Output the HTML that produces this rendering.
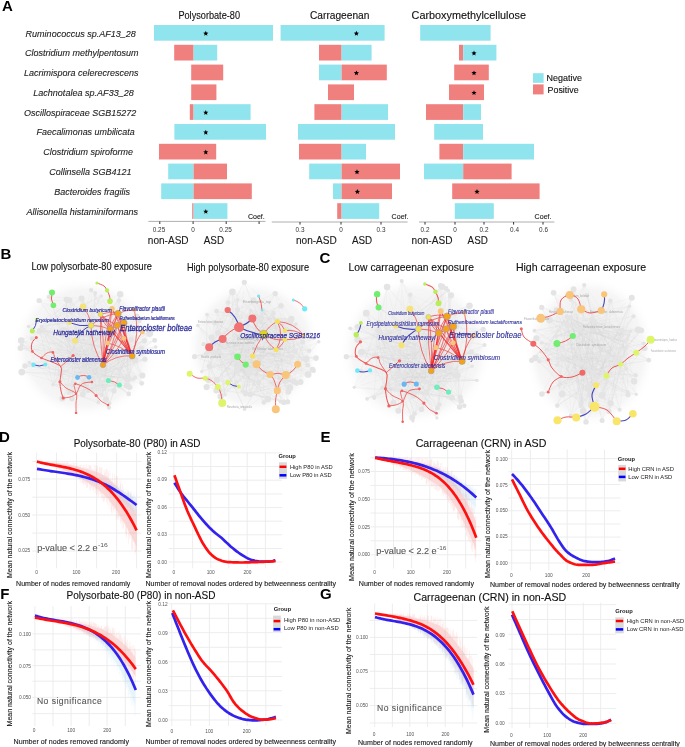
<!DOCTYPE html>
<html><head><meta charset="utf-8"><style>
html,body{margin:0;padding:0;background:#fff;width:685px;height:747px;overflow:hidden}
svg{display:block;font-family:"Liberation Sans",sans-serif;will-change:transform}
</style></head><body>
<svg width="685" height="747" viewBox="0 0 685 747">
<rect width="685" height="747" fill="#fff"/>
<text x="1.9" y="10.7" font-size="15" font-weight="bold" fill="#000">A</text>
<text x="25.6" y="36.5" font-size="9.9" font-style="italic" fill="#1e1e1e" textLength="110.2" lengthAdjust="spacingAndGlyphs" stroke="#1e1e1e" stroke-width="0.12">Ruminococcus sp.AF13_28</text>
<text x="25.0" y="56.3" font-size="9.9" font-style="italic" fill="#1e1e1e" textLength="113.4" lengthAdjust="spacingAndGlyphs" stroke="#1e1e1e" stroke-width="0.12">Clostridium methylpentosum</text>
<text x="24.0" y="76.1" font-size="9.9" font-style="italic" fill="#1e1e1e" textLength="114.4" lengthAdjust="spacingAndGlyphs" stroke="#1e1e1e" stroke-width="0.12">Lacrimispora celerecrescens</text>
<text x="33.2" y="95.9" font-size="9.9" font-style="italic" fill="#1e1e1e" textLength="100.6" lengthAdjust="spacingAndGlyphs" stroke="#1e1e1e" stroke-width="0.12">Lachnotalea sp.AF33_28</text>
<text x="24.0" y="115.7" font-size="9.9" font-style="italic" fill="#1e1e1e" textLength="112.2" lengthAdjust="spacingAndGlyphs" stroke="#1e1e1e" stroke-width="0.12">Oscillospiraceae SGB15272</text>
<text x="36.6" y="135.4" font-size="9.9" font-style="italic" fill="#1e1e1e" textLength="98.1" lengthAdjust="spacingAndGlyphs" stroke="#1e1e1e" stroke-width="0.12">Faecalimonas umbilicata</text>
<text x="43.2" y="155.2" font-size="9.9" font-style="italic" fill="#1e1e1e" textLength="89.8" lengthAdjust="spacingAndGlyphs" stroke="#1e1e1e" stroke-width="0.12">Clostridium spiroforme</text>
<text x="49.2" y="175.0" font-size="9.9" font-style="italic" fill="#1e1e1e" textLength="82.2" lengthAdjust="spacingAndGlyphs" stroke="#1e1e1e" stroke-width="0.12">Collinsella SGB4121</text>
<text x="54.2" y="194.8" font-size="9.9" font-style="italic" fill="#1e1e1e" textLength="75.8" lengthAdjust="spacingAndGlyphs" stroke="#1e1e1e" stroke-width="0.12">Bacteroides fragilis</text>
<text x="26.6" y="214.6" font-size="9.9" font-style="italic" fill="#1e1e1e" textLength="111.4" lengthAdjust="spacingAndGlyphs" stroke="#1e1e1e" stroke-width="0.12">Allisonella histaminiformans</text>
<rect x="154.0" y="25.0" width="119.0" height="15.7" fill="#90e4ed"/>
<rect x="174.2" y="44.8" width="19.4" height="15.7" fill="#ef807e"/>
<rect x="193.6" y="44.8" width="23.6" height="15.7" fill="#90e4ed"/>
<rect x="191.2" y="64.6" width="32.0" height="15.7" fill="#ef807e"/>
<rect x="191.2" y="84.4" width="25.2" height="15.7" fill="#ef807e"/>
<rect x="189.8" y="104.2" width="3.8" height="15.7" fill="#ef807e"/>
<rect x="193.6" y="104.2" width="57.0" height="15.7" fill="#90e4ed"/>
<rect x="174.4" y="124.0" width="91.6" height="15.7" fill="#90e4ed"/>
<rect x="159.0" y="143.8" width="57.2" height="15.7" fill="#ef807e"/>
<rect x="168.2" y="163.6" width="25.4" height="15.7" fill="#90e4ed"/>
<rect x="193.6" y="163.6" width="33.4" height="15.7" fill="#ef807e"/>
<rect x="161.2" y="183.4" width="32.4" height="15.7" fill="#90e4ed"/>
<rect x="193.6" y="183.4" width="58.2" height="15.7" fill="#ef807e"/>
<rect x="192.2" y="203.2" width="1.4" height="15.7" fill="#ef807e"/>
<rect x="193.6" y="203.2" width="33.8" height="15.7" fill="#90e4ed"/>
<polygon points="205.80,30.80 206.51,32.52 208.37,32.67 206.96,33.88 207.39,35.68 205.80,34.72 204.21,35.68 204.64,33.88 203.23,32.67 205.09,32.52" fill="#000"/>
<polygon points="205.80,109.96 206.51,111.68 208.37,111.83 206.96,113.04 207.39,114.84 205.80,113.88 204.21,114.84 204.64,113.04 203.23,111.83 205.09,111.68" fill="#000"/>
<polygon points="205.80,129.75 206.51,131.47 208.37,131.62 206.96,132.83 207.39,134.63 205.80,133.66 204.21,134.63 204.64,132.83 203.23,131.62 205.09,131.47" fill="#000"/>
<polygon points="205.80,149.54 206.51,151.26 208.37,151.41 206.96,152.62 207.39,154.42 205.80,153.45 204.21,154.42 204.64,152.62 203.23,151.41 205.09,151.26" fill="#000"/>
<polygon points="205.80,208.91 206.51,210.63 208.37,210.78 206.96,211.99 207.39,213.79 205.80,212.82 204.21,213.79 204.64,211.99 203.23,210.78 205.09,210.63" fill="#000"/>
<rect x="280.6" y="25.0" width="104.0" height="15.7" fill="#90e4ed"/>
<rect x="319.0" y="44.8" width="22.6" height="15.7" fill="#ef807e"/>
<rect x="341.6" y="44.8" width="30.0" height="15.7" fill="#90e4ed"/>
<rect x="319.0" y="64.6" width="22.6" height="15.7" fill="#90e4ed"/>
<rect x="341.6" y="64.6" width="45.2" height="15.7" fill="#ef807e"/>
<rect x="328.0" y="84.4" width="26.0" height="15.7" fill="#ef807e"/>
<rect x="314.4" y="104.2" width="27.2" height="15.7" fill="#ef807e"/>
<rect x="341.6" y="104.2" width="46.4" height="15.7" fill="#90e4ed"/>
<rect x="298.0" y="124.0" width="97.0" height="15.7" fill="#90e4ed"/>
<rect x="299.0" y="143.8" width="42.6" height="15.7" fill="#ef807e"/>
<rect x="341.6" y="143.8" width="24.4" height="15.7" fill="#90e4ed"/>
<rect x="309.2" y="163.6" width="32.4" height="15.7" fill="#90e4ed"/>
<rect x="341.6" y="163.6" width="58.4" height="15.7" fill="#ef807e"/>
<rect x="333.0" y="183.4" width="8.6" height="15.7" fill="#90e4ed"/>
<rect x="341.6" y="183.4" width="50.4" height="15.7" fill="#ef807e"/>
<rect x="337.2" y="203.2" width="4.4" height="15.7" fill="#ef807e"/>
<rect x="341.6" y="203.2" width="37.6" height="15.7" fill="#90e4ed"/>
<polygon points="356.40,30.80 357.11,32.52 358.97,32.67 357.56,33.88 357.99,35.68 356.40,34.72 354.81,35.68 355.24,33.88 353.83,32.67 355.69,32.52" fill="#000"/>
<polygon points="356.40,70.38 357.11,72.10 358.97,72.25 357.56,73.46 357.99,75.26 356.40,74.29 354.81,75.26 355.24,73.46 353.83,72.25 355.69,72.10" fill="#000"/>
<polygon points="357.00,169.33 357.71,171.05 359.57,171.20 358.16,172.41 358.59,174.21 357.00,173.25 355.41,174.21 355.84,172.41 354.43,171.20 356.29,171.05" fill="#000"/>
<polygon points="357.40,189.12 358.11,190.84 359.97,190.99 358.56,192.20 358.99,194.00 357.40,193.03 355.81,194.00 356.24,192.20 354.83,190.99 356.69,190.84" fill="#000"/>
<rect x="420.2" y="25.0" width="70.4" height="15.7" fill="#90e4ed"/>
<rect x="459.0" y="44.8" width="4.2" height="15.7" fill="#ef807e"/>
<rect x="463.2" y="44.8" width="33.2" height="15.7" fill="#90e4ed"/>
<rect x="454.2" y="64.6" width="34.6" height="15.7" fill="#ef807e"/>
<rect x="449.0" y="84.4" width="35.0" height="15.7" fill="#ef807e"/>
<rect x="426.0" y="104.2" width="37.2" height="15.7" fill="#ef807e"/>
<rect x="463.2" y="104.2" width="17.8" height="15.7" fill="#90e4ed"/>
<rect x="434.2" y="124.0" width="48.8" height="15.7" fill="#90e4ed"/>
<rect x="439.4" y="143.8" width="23.8" height="15.7" fill="#ef807e"/>
<rect x="463.2" y="143.8" width="70.8" height="15.7" fill="#90e4ed"/>
<rect x="424.0" y="163.6" width="39.2" height="15.7" fill="#90e4ed"/>
<rect x="463.2" y="163.6" width="48.4" height="15.7" fill="#ef807e"/>
<rect x="452.2" y="183.4" width="87.4" height="15.7" fill="#ef807e"/>
<rect x="454.8" y="203.2" width="39.0" height="15.7" fill="#90e4ed"/>
<polygon points="474.00,50.59 474.71,52.31 476.57,52.46 475.16,53.67 475.59,55.47 474.00,54.51 472.41,55.47 472.84,53.67 471.43,52.46 473.29,52.31" fill="#000"/>
<polygon points="474.00,70.38 474.71,72.10 476.57,72.25 475.16,73.46 475.59,75.26 474.00,74.29 472.41,75.26 472.84,73.46 471.43,72.25 473.29,72.10" fill="#000"/>
<polygon points="474.00,90.17 474.71,91.89 476.57,92.04 475.16,93.25 475.59,95.05 474.00,94.08 472.41,95.05 472.84,93.25 471.43,92.04 473.29,91.89" fill="#000"/>
<polygon points="477.00,189.12 477.71,190.84 479.57,190.99 478.16,192.20 478.59,194.00 477.00,193.03 475.41,194.00 475.84,192.20 474.43,190.99 476.29,190.84" fill="#000"/>
<text x="178.4" y="19.4" font-size="10.2" fill="#111" textLength="61.6" lengthAdjust="spacingAndGlyphs" stroke="#111" stroke-width="0.12">Polysorbate-80</text>
<text x="310.0" y="19.4" font-size="10.2" fill="#111" textLength="59.4" lengthAdjust="spacingAndGlyphs" stroke="#111" stroke-width="0.12">Carrageenan</text>
<text x="411.6" y="19.4" font-size="10.2" fill="#111" textLength="114.4" lengthAdjust="spacingAndGlyphs" stroke="#111" stroke-width="0.12">Carboxymethylcellulose</text>
<rect x="533.0" y="73.2" width="10.6" height="9.6" fill="#90e4ed"/>
<rect x="533.0" y="84.4" width="10.6" height="10.0" fill="#ef807e"/>
<text x="546.6" y="81.2" font-size="9.2" fill="#111" textLength="35.4" lengthAdjust="spacingAndGlyphs" stroke="#111" stroke-width="0.12">Negative</text>
<text x="547.6" y="93.0" font-size="9.2" fill="#111" textLength="31.0" lengthAdjust="spacingAndGlyphs" stroke="#111" stroke-width="0.12">Positive</text>
<line x1="148.4" y1="221.4" x2="265.5" y2="221.4" stroke="#9a9a9a" stroke-width="0.8"/>
<line x1="159.8" y1="221.4" x2="159.8" y2="224.0" stroke="#333" stroke-width="1"/>
<line x1="193.1" y1="221.4" x2="193.1" y2="224.0" stroke="#333" stroke-width="1"/>
<line x1="226.2" y1="221.4" x2="226.2" y2="224.0" stroke="#333" stroke-width="1"/>
<line x1="259.1" y1="221.4" x2="259.1" y2="224.0" stroke="#333" stroke-width="1"/>
<text x="159.0" y="231.6" font-size="6.4" text-anchor="middle" fill="#333">0.25</text>
<text x="193.1" y="231.6" font-size="6.4" text-anchor="middle" fill="#333">0</text>
<text x="225.6" y="231.6" font-size="6.4" text-anchor="middle" fill="#333">0.25</text>
<text x="247.9" y="218.9" font-size="7.2" fill="#222" textLength="16.9" lengthAdjust="spacingAndGlyphs" stroke="#222" stroke-width="0.12">Coef.</text>
<line x1="271.8" y1="222.0" x2="407.6" y2="222.0" stroke="#9a9a9a" stroke-width="0.8"/>
<line x1="300" y1="222.0" x2="300" y2="224.6" stroke="#333" stroke-width="1"/>
<line x1="341" y1="222.0" x2="341" y2="224.6" stroke="#333" stroke-width="1"/>
<line x1="381" y1="222.0" x2="381" y2="224.6" stroke="#333" stroke-width="1"/>
<text x="300.0" y="231.6" font-size="6.4" text-anchor="middle" fill="#333">0.3</text>
<text x="341.0" y="231.6" font-size="6.4" text-anchor="middle" fill="#333">0</text>
<text x="381.0" y="231.6" font-size="6.4" text-anchor="middle" fill="#333">0.3</text>
<text x="391.6" y="218.9" font-size="7.2" fill="#222" textLength="16.9" lengthAdjust="spacingAndGlyphs" stroke="#222" stroke-width="0.12">Coef.</text>
<line x1="419" y1="222.0" x2="554.4" y2="222.0" stroke="#9a9a9a" stroke-width="0.8"/>
<line x1="425" y1="222.0" x2="425" y2="224.6" stroke="#333" stroke-width="1"/>
<line x1="455" y1="222.0" x2="455" y2="224.6" stroke="#333" stroke-width="1"/>
<line x1="484" y1="222.0" x2="484" y2="224.6" stroke="#333" stroke-width="1"/>
<line x1="513.6" y1="222.0" x2="513.6" y2="224.6" stroke="#333" stroke-width="1"/>
<line x1="543" y1="222.0" x2="543" y2="224.6" stroke="#333" stroke-width="1"/>
<text x="425.0" y="231.6" font-size="6.4" text-anchor="middle" fill="#333">0.2</text>
<text x="455.0" y="231.6" font-size="6.4" text-anchor="middle" fill="#333">0</text>
<text x="484.0" y="231.6" font-size="6.4" text-anchor="middle" fill="#333">0.2</text>
<text x="514.5" y="231.6" font-size="6.4" text-anchor="middle" fill="#333">0.4</text>
<text x="543.5" y="231.6" font-size="6.4" text-anchor="middle" fill="#333">0.6</text>
<text x="534.6" y="218.9" font-size="7.2" fill="#222" textLength="16.9" lengthAdjust="spacingAndGlyphs" stroke="#222" stroke-width="0.12">Coef.</text>
<text x="147.8" y="243.8" font-size="10" fill="#1a1a1a" textLength="40.8" lengthAdjust="spacingAndGlyphs" stroke="#1a1a1a" stroke-width="0.12">non-ASD</text>
<text x="203.8" y="243.8" font-size="10" fill="#1a1a1a" textLength="20.2" lengthAdjust="spacingAndGlyphs" stroke="#1a1a1a" stroke-width="0.12">ASD</text>
<text x="296.0" y="243.8" font-size="10" fill="#1a1a1a" textLength="40.8" lengthAdjust="spacingAndGlyphs" stroke="#1a1a1a" stroke-width="0.12">non-ASD</text>
<text x="352.0" y="243.8" font-size="10" fill="#1a1a1a" textLength="20.2" lengthAdjust="spacingAndGlyphs" stroke="#1a1a1a" stroke-width="0.12">ASD</text>
<text x="411.6" y="243.8" font-size="10" fill="#1a1a1a" textLength="40.8" lengthAdjust="spacingAndGlyphs" stroke="#1a1a1a" stroke-width="0.12">non-ASD</text>
<text x="467.6" y="243.8" font-size="10" fill="#1a1a1a" textLength="20.2" lengthAdjust="spacingAndGlyphs" stroke="#1a1a1a" stroke-width="0.12">ASD</text>
<text x="0.6" y="259.2" font-size="15" font-weight="bold" fill="#000">B</text>
<text x="319.5" y="262.5" font-size="15" font-weight="bold" fill="#000">C</text>
<text x="-1.0" y="442.1" font-size="15" font-weight="bold" fill="#000">D</text>
<text x="320.4" y="442.4" font-size="15" font-weight="bold" fill="#000">E</text>
<text x="0.2" y="599.4" font-size="15" font-weight="bold" fill="#000">F</text>
<text x="319.9" y="599.2" font-size="15" font-weight="bold" fill="#000">G</text>
<defs><radialGradient id="g11" cx="0.5" cy="0.5" r="0.5"><stop offset="0" stop-color="#ececec"/><stop offset="0.5" stop-color="#f0f0f0"/><stop offset="0.82" stop-color="#f6f6f6"/><stop offset="1" stop-color="#ffffff" stop-opacity="0"/></radialGradient></defs>
<ellipse cx="85" cy="348" rx="73" ry="71" fill="url(#g11)"/>
<path d="M25.0,366.0L72.8,352.2M25.0,366.0L127.2,378.0M25.0,366.0L70.1,355.8M25.0,366.0L135.1,360.1M25.0,366.0L118.9,368.9M25.0,366.0L127.2,378.0M139.3,320.8L127.2,378.0M139.3,320.8L105.6,336.5M139.3,320.8L127.3,342.9M139.3,320.8L61.6,332.2M139.3,320.8L93.1,379.1M139.3,320.8L118.9,368.9M21.8,345.0L88.2,390.8M21.8,345.0L82.9,394.4M21.8,345.0L91.1,373.3M21.8,345.0L72.8,352.2M21.8,345.0L127.2,378.0M21.8,345.0L39.8,330.8M109.7,403.2L68.5,393.3M109.7,403.2L99.3,375.8M109.7,403.2L91.3,355.4M109.7,403.2L131.3,339.7M109.7,403.2L126.5,353.4M109.7,403.2L105.1,386.7M39.1,300.5L105.1,386.7M39.1,300.5L134.8,353.5M39.1,300.5L131.3,339.7M39.1,300.5L69.4,300.2M39.1,300.5L127.2,378.0M39.1,300.5L91.1,373.3M133.2,379.5L91.1,373.3M133.2,379.5L80.9,361.3M133.2,379.5L81.6,298.5M133.2,379.5L39.8,330.8M133.2,379.5L88.2,390.8M133.2,379.5L105.1,386.7M141.7,383.3L134.8,353.5M141.7,383.3L112.1,350.8M141.7,383.3L105.6,336.5M141.7,383.3L112.1,350.8M141.7,383.3L127.3,342.9M141.7,383.3L91.1,373.3M66.4,299.4L52.9,384.8M66.4,299.4L67.9,339.9M66.4,299.4L68.5,393.3M66.4,299.4L70.1,355.8M66.4,299.4L69.4,300.2M66.4,299.4L91.1,373.3M154.7,340.4L72.8,352.2M154.7,340.4L68.5,393.3M154.7,340.4L124.9,322.8M154.7,340.4L80.9,361.3M154.7,340.4L99.3,375.8M154.7,340.4L126.5,353.4M48.8,296.9L99.3,375.8M48.8,296.9L81.6,298.5M48.8,296.9L131.3,339.7M48.8,296.9L61.6,332.2M48.8,296.9L70.1,355.8M48.8,296.9L86.8,387.6M114.0,390.9L126.5,353.4M114.0,390.9L41.3,326.5M114.0,390.9L52.9,384.8M114.0,390.9L60.5,372.8M114.0,390.9L88.2,390.8M114.0,390.9L105.6,336.5M32.2,338.7L99.3,375.8M32.2,338.7L85.1,370.3M32.2,338.7L135.1,360.1M32.2,338.7L107.8,358.2M32.2,338.7L81.6,298.5M32.2,338.7L41.3,326.5M105.9,399.5L64.0,330.2M105.9,399.5L41.3,326.5M105.9,399.5L93.5,366.3M105.9,399.5L105.1,386.7M105.9,399.5L124.9,322.8M105.9,399.5L134.8,353.5M144.9,359.2L135.1,360.1M144.9,359.2L93.5,366.3M144.9,359.2L118.9,368.9M144.9,359.2L118.9,368.9M144.9,359.2L99.3,375.8M144.9,359.2L82.9,394.4M21.8,372.1L93.1,379.1M21.8,372.1L127.2,378.0M21.8,372.1L101.9,395.0M21.8,372.1L60.5,372.8M21.8,372.1L80.9,361.3M21.8,372.1L105.6,336.5M21.2,340.5L72.8,352.2M21.2,340.5L101.9,395.0M21.2,340.5L93.5,366.3M21.2,340.5L39.8,330.8M21.2,340.5L105.1,386.7M21.2,340.5L52.9,384.8M20.4,348.1L99.3,375.8M20.4,348.1L135.1,360.1M20.4,348.1L126.5,353.4M20.4,348.1L105.6,336.5M20.4,348.1L135.1,360.1M20.4,348.1L127.2,378.0M29.4,362.8L93.1,379.1M29.4,362.8L101.9,395.0M29.4,362.8L69.4,300.2M29.4,362.8L93.1,379.1M29.4,362.8L101.9,395.0M29.4,362.8L91.3,355.4M155.7,347.0L82.9,394.4M155.7,347.0L70.1,355.8M155.7,347.0L91.3,355.4M155.7,347.0L68.5,393.3M155.7,347.0L118.9,368.9M155.7,347.0L107.8,358.2M120.2,294.3L112.1,350.8M120.2,294.3L41.3,326.5M120.2,294.3L68.5,393.3M120.2,294.3L101.9,395.0M120.2,294.3L85.1,370.3M120.2,294.3L86.8,387.6M62.4,398.6L110.7,315.5M62.4,398.6L80.9,361.3M62.4,398.6L105.6,336.5M62.4,398.6L89.3,319.0M62.4,398.6L127.3,342.9M62.4,398.6L61.6,332.2M71.9,398.8L127.2,378.0M71.9,398.8L41.3,326.5M71.9,398.8L41.3,326.5M71.9,398.8L72.8,352.2M71.9,398.8L81.6,298.5M71.9,398.8L120.4,339.0M91.1,290.1L131.3,339.7M91.1,290.1L72.8,352.2M91.1,290.1L127.3,342.9M91.1,290.1L93.1,379.1M91.1,290.1L120.4,339.0M91.1,290.1L124.9,322.8M119.0,300.4L101.9,395.0M119.0,300.4L82.9,394.4M119.0,300.4L127.3,342.9M119.0,300.4L52.9,384.8M119.0,300.4L67.9,339.9M119.0,300.4L126.5,353.4M150.7,330.8L60.5,372.8M150.7,330.8L107.8,358.2M150.7,330.8L124.9,322.8M150.7,330.8L91.1,373.3M150.7,330.8L39.8,330.8M150.7,330.8L105.1,386.7M141.4,348.2L118.9,368.9M141.4,348.2L105.6,336.5M141.4,348.2L112.1,350.8M141.4,348.2L41.3,326.5M141.4,348.2L131.3,339.7M141.4,348.2L105.1,386.7M136.7,316.2L70.5,311.6M136.7,316.2L91.3,355.4M136.7,316.2L67.9,339.9M136.7,316.2L88.2,390.8M136.7,316.2L112.1,350.8M136.7,316.2L135.1,360.1M144.4,340.8L93.5,366.3M144.4,340.8L89.3,319.0M144.4,340.8L80.9,361.3M144.4,340.8L93.5,366.3M144.4,340.8L85.1,370.3M144.4,340.8L105.1,386.7M142.4,375.6L91.1,373.3M142.4,375.6L70.1,355.8M142.4,375.6L127.3,342.9M142.4,375.6L135.1,360.1M142.4,375.6L81.6,298.5M142.4,375.6L68.5,393.3M95.2,293.0L82.9,394.4M95.2,293.0L67.9,339.9M95.2,293.0L91.1,373.3M95.2,293.0L93.1,379.1M95.2,293.0L105.6,336.5M95.2,293.0L88.2,390.8M135.1,377.7L70.5,311.6M135.1,377.7L39.8,330.8M135.1,377.7L101.9,395.0M135.1,377.7L99.3,375.8M135.1,377.7L68.5,393.3M135.1,377.7L93.5,366.3M149.7,333.5L127.2,378.0M149.7,333.5L64.0,330.2M149.7,333.5L93.1,379.1M149.7,333.5L120.4,339.0M149.7,333.5L127.3,342.9M149.7,333.5L88.2,390.8M127.1,385.5L118.9,368.9M127.1,385.5L72.8,352.2M127.1,385.5L86.8,387.6M127.1,385.5L52.9,384.8M127.1,385.5L52.9,384.8M127.1,385.5L105.6,336.5M128.2,378.9L99.3,375.8M128.2,378.9L134.8,353.5M128.2,378.9L91.1,373.3M128.2,378.9L124.9,322.8M128.2,378.9L105.6,336.5M128.2,378.9L52.9,384.8M101.2,296.1L70.5,311.6M101.2,296.1L115.1,321.2M101.2,296.1L70.5,311.6M101.2,296.1L60.5,372.8M101.2,296.1L52.9,384.8M101.2,296.1L67.9,339.9M28.4,326.5L70.5,311.6M28.4,326.5L81.6,298.5M28.4,326.5L70.1,355.8M28.4,326.5L105.1,386.7M28.4,326.5L126.5,353.4M28.4,326.5L93.5,366.3M109.0,407.7L70.1,355.8M109.0,407.7L86.8,387.6M109.0,407.7L127.3,342.9M109.0,407.7L52.9,384.8M109.0,407.7L101.9,395.0M109.0,407.7L91.3,355.4M128.7,393.9L99.3,375.8M128.7,393.9L41.3,326.5M128.7,393.9L39.8,330.8M128.7,393.9L127.3,342.9M128.7,393.9L80.9,361.3M128.7,393.9L67.9,339.9M129.8,387.2L131.3,339.7M129.8,387.2L69.4,300.2M129.8,387.2L105.1,386.7M129.8,387.2L68.5,393.3M129.8,387.2L127.3,342.9M129.8,387.2L93.1,379.1M98.3,402.4L52.9,384.8M98.3,402.4L107.8,358.2M98.3,402.4L127.3,342.9M98.3,402.4L91.3,355.4M98.3,402.4L80.9,361.3M98.3,402.4L99.3,375.8M91.1,373.3L60.5,372.8M127.2,378.0L127.3,342.9M112.1,350.8L39.8,330.8M107.8,358.2L101.9,395.0M85.1,370.3L72.8,352.2M99.3,375.8L118.9,368.9M88.2,390.8L64.0,330.2M72.8,352.2L52.9,384.8M135.1,360.1L89.3,319.0M41.3,326.5L39.8,330.8M126.5,353.4L68.5,393.3M81.6,298.5L118.9,368.9M68.5,393.3L93.1,379.1M41.3,326.5L86.8,387.6M124.9,322.8L131.3,339.7M115.1,321.2L135.1,360.1M82.9,394.4L85.1,370.3M126.5,353.4L99.3,375.8M89.3,319.0L99.3,375.8M134.8,353.5L80.9,361.3M67.9,339.9L126.5,353.4M81.6,298.5L41.3,326.5M52.9,384.8L64.0,330.2M68.5,393.3L105.1,386.7M39.8,330.8L52.9,384.8M126.5,353.4L60.5,372.8M127.3,342.9L93.5,366.3M127.3,342.9L93.5,366.3M52.9,384.8L93.5,366.3M127.3,342.9L126.5,353.4M134.8,353.5L118.9,368.9M124.9,322.8L82.9,394.4M120.4,339.0L135.1,360.1M69.4,300.2L135.1,360.1M41.3,326.5L93.5,366.3M41.3,326.5L89.3,319.0M118.9,368.9L85.1,370.3M118.9,368.9L91.1,373.3M81.6,298.5L105.1,386.7M89.3,319.0L64.0,330.2M39.8,330.8L127.3,342.9M118.9,368.9L41.3,326.5M107.8,358.2L68.5,393.3M89.3,319.0L41.3,326.5M91.3,355.4L82.9,394.4M61.6,332.2L80.9,361.3M67.9,339.9L88.2,390.8M67.9,339.9L41.3,326.5M127.2,378.0L72.8,352.2M89.3,319.0L68.5,393.3M93.1,379.1L70.5,311.6M126.5,353.4L67.9,339.9M91.3,355.4L72.8,352.2M86.8,387.6L41.3,326.5M120.4,339.0L80.9,361.3M93.5,366.3L120.4,339.0M60.5,372.8L115.1,321.2M89.3,319.0L134.8,353.5M110.7,315.5L118.9,368.9M112.1,350.8L127.2,378.0M89.3,319.0L135.1,360.1M107.8,358.2L112.1,350.8M64.0,330.2L67.9,339.9M82.9,394.4L64.0,330.2M93.5,366.3L69.4,300.2M61.6,332.2L131.3,339.7M93.1,379.1L41.3,326.5M120.4,339.0L39.8,330.8M112.1,350.8L61.6,332.2M61.6,332.2L107.8,358.2M41.3,326.5L69.4,300.2M60.5,372.8L89.3,319.0M67.9,339.9L131.3,339.7M135.1,360.1L91.1,373.3M107.8,358.2L91.3,355.4M69.4,300.2L41.3,326.5M67.9,339.9L134.8,353.5M88.2,390.8L81.6,298.5M101.9,395.0L80.9,361.3M60.5,372.8L107.8,358.2M118.9,368.9L88.2,390.8M127.3,342.9L61.6,332.2M64.0,330.2L120.4,339.0M107.8,358.2L93.5,366.3M120.4,339.0L127.2,378.0M88.2,390.8L70.1,355.8M72.8,352.2L89.3,319.0M131.3,339.7L82.9,394.4M126.5,353.4L110.7,315.5M124.9,322.8L101.9,395.0M70.1,355.8L88.2,390.8M93.5,366.3L107.8,358.2M91.3,355.4L120.4,339.0M127.3,342.9L127.2,378.0M105.1,386.7L67.9,339.9M99.3,375.8L93.5,366.3M80.9,361.3L107.8,358.2M91.3,355.4L68.5,393.3M80.9,361.3L126.5,353.4M89.3,319.0L85.1,370.3M81.6,298.5L105.6,336.5M107.8,358.2L67.9,339.9M110.7,315.5L41.3,326.5M105.1,386.7L131.3,339.7M89.3,319.0L81.6,298.5M81.6,298.5L101.9,395.0M88.2,390.8L70.5,311.6M127.3,342.9L67.9,339.9M39.8,330.8L52.9,384.8M91.3,355.4L89.3,319.0M105.6,336.5L127.2,378.0M70.5,311.6L69.4,300.2M93.1,379.1L105.1,386.7M60.5,372.8L105.1,386.7M72.8,352.2L60.5,372.8M99.3,375.8L127.3,342.9M126.5,353.4L69.4,300.2M110.7,315.5L64.0,330.2M99.3,375.8L39.8,330.8M115.1,321.2L52.9,384.8M107.8,358.2L69.4,300.2M70.1,355.8L61.6,332.2M52.9,384.8L115.1,321.2M72.8,352.2L101.9,395.0M70.5,311.6L115.1,321.2M115.1,321.2L68.5,393.3M131.3,339.7L85.1,370.3M134.8,353.5L93.1,379.1M60.5,372.8L39.8,330.8M105.1,386.7L110.7,315.5M135.1,360.1L107.8,358.2M110.7,315.5L134.8,353.5M135.1,360.1L127.2,378.0M124.9,322.8L64.0,330.2M72.8,352.2L81.6,298.5M85.1,370.3L93.1,379.1M52.9,384.8L89.3,319.0M112.1,350.8L86.8,387.6M85.1,370.3L69.4,300.2M80.9,361.3L110.7,315.5" stroke="#d4d4d4" stroke-width="0.35" stroke-opacity="0.4" fill="none"/>
<circle cx="25.0" cy="366.0" r="2.7" fill="#e4e4e4"/>
<circle cx="139.3" cy="320.8" r="2.4" fill="#e4e4e4"/>
<circle cx="21.8" cy="345.0" r="2.0" fill="#e4e4e4"/>
<circle cx="109.7" cy="403.2" r="1.7" fill="#e4e4e4"/>
<circle cx="39.1" cy="300.5" r="2.6" fill="#e4e4e4"/>
<circle cx="133.2" cy="379.5" r="1.8" fill="#e4e4e4"/>
<circle cx="141.7" cy="383.3" r="2.4" fill="#e4e4e4"/>
<circle cx="66.4" cy="299.4" r="2.8" fill="#e4e4e4"/>
<circle cx="154.7" cy="340.4" r="2.4" fill="#e4e4e4"/>
<circle cx="48.8" cy="296.9" r="2.1" fill="#e4e4e4"/>
<circle cx="114.0" cy="390.9" r="2.6" fill="#e4e4e4"/>
<circle cx="32.2" cy="338.7" r="2.4" fill="#e4e4e4"/>
<circle cx="105.9" cy="399.5" r="3.0" fill="#e4e4e4"/>
<circle cx="144.9" cy="359.2" r="2.6" fill="#e4e4e4"/>
<circle cx="21.8" cy="372.1" r="3.4" fill="#e4e4e4"/>
<circle cx="21.2" cy="340.5" r="3.3" fill="#e4e4e4"/>
<circle cx="20.4" cy="348.1" r="2.9" fill="#e4e4e4"/>
<circle cx="29.4" cy="362.8" r="2.0" fill="#e4e4e4"/>
<circle cx="155.7" cy="347.0" r="1.8" fill="#e4e4e4"/>
<circle cx="120.2" cy="294.3" r="3.2" fill="#e4e4e4"/>
<circle cx="62.4" cy="398.6" r="3.0" fill="#e4e4e4"/>
<circle cx="71.9" cy="398.8" r="2.7" fill="#e4e4e4"/>
<circle cx="91.1" cy="290.1" r="2.2" fill="#e4e4e4"/>
<circle cx="119.0" cy="300.4" r="2.1" fill="#e4e4e4"/>
<circle cx="150.7" cy="330.8" r="2.8" fill="#e4e4e4"/>
<circle cx="141.4" cy="348.2" r="2.6" fill="#e4e4e4"/>
<circle cx="136.7" cy="316.2" r="2.7" fill="#e4e4e4"/>
<circle cx="144.4" cy="340.8" r="2.7" fill="#e4e4e4"/>
<circle cx="142.4" cy="375.6" r="3.0" fill="#e4e4e4"/>
<circle cx="95.2" cy="293.0" r="1.9" fill="#e4e4e4"/>
<circle cx="135.1" cy="377.7" r="2.0" fill="#e4e4e4"/>
<circle cx="149.7" cy="333.5" r="3.4" fill="#e4e4e4"/>
<circle cx="127.1" cy="385.5" r="3.2" fill="#e4e4e4"/>
<circle cx="128.2" cy="378.9" r="3.2" fill="#e4e4e4"/>
<circle cx="101.2" cy="296.1" r="1.7" fill="#e4e4e4"/>
<circle cx="28.4" cy="326.5" r="1.7" fill="#e4e4e4"/>
<circle cx="109.0" cy="407.7" r="2.1" fill="#e4e4e4"/>
<circle cx="128.7" cy="393.9" r="2.4" fill="#e4e4e4"/>
<circle cx="129.8" cy="387.2" r="2.7" fill="#e4e4e4"/>
<circle cx="98.3" cy="402.4" r="1.8" fill="#e4e4e4"/>
<circle cx="131.3" cy="339.7" r="2.6" fill="#e4e4e4"/>
<circle cx="68.5" cy="393.3" r="1.7" fill="#e4e4e4"/>
<circle cx="93.1" cy="379.1" r="1.8" fill="#e4e4e4"/>
<circle cx="110.7" cy="315.5" r="2.8" fill="#e4e4e4"/>
<circle cx="127.2" cy="378.0" r="2.6" fill="#e4e4e4"/>
<circle cx="91.1" cy="373.3" r="2.7" fill="#e4e4e4"/>
<circle cx="89.3" cy="319.0" r="2.3" fill="#e4e4e4"/>
<circle cx="80.9" cy="361.3" r="2.5" fill="#e4e4e4"/>
<circle cx="118.9" cy="368.9" r="2.0" fill="#e4e4e4"/>
<circle cx="86.8" cy="387.6" r="2.2" fill="#e4e4e4"/>
<circle cx="60.5" cy="372.8" r="2.9" fill="#e4e4e4"/>
<circle cx="120.4" cy="339.0" r="3.1" fill="#e4e4e4"/>
<circle cx="41.3" cy="326.5" r="1.7" fill="#e4e4e4"/>
<circle cx="93.5" cy="366.3" r="1.8" fill="#e4e4e4"/>
<circle cx="124.9" cy="322.8" r="3.1" fill="#e4e4e4"/>
<circle cx="85.1" cy="370.3" r="2.7" fill="#e4e4e4"/>
<circle cx="81.6" cy="298.5" r="3.0" fill="#e4e4e4"/>
<circle cx="101.9" cy="395.0" r="2.0" fill="#e4e4e4"/>
<circle cx="115.1" cy="321.2" r="2.4" fill="#e4e4e4"/>
<circle cx="70.1" cy="355.8" r="2.1" fill="#e4e4e4"/>
<circle cx="135.1" cy="360.1" r="3.1" fill="#e4e4e4"/>
<circle cx="88.2" cy="390.8" r="2.3" fill="#e4e4e4"/>
<circle cx="82.9" cy="394.4" r="2.8" fill="#e4e4e4"/>
<circle cx="61.6" cy="332.2" r="3.4" fill="#e4e4e4"/>
<circle cx="105.1" cy="386.7" r="2.2" fill="#e4e4e4"/>
<circle cx="107.8" cy="358.2" r="2.6" fill="#e4e4e4"/>
<circle cx="39.8" cy="330.8" r="2.9" fill="#e4e4e4"/>
<circle cx="64.0" cy="330.2" r="3.3" fill="#e4e4e4"/>
<circle cx="105.6" cy="336.5" r="2.4" fill="#e4e4e4"/>
<circle cx="112.1" cy="350.8" r="2.3" fill="#e4e4e4"/>
<circle cx="72.8" cy="352.2" r="1.8" fill="#e4e4e4"/>
<circle cx="99.3" cy="375.8" r="3.2" fill="#e4e4e4"/>
<circle cx="67.9" cy="339.9" r="1.7" fill="#e4e4e4"/>
<circle cx="52.9" cy="384.8" r="1.7" fill="#e4e4e4"/>
<circle cx="127.3" cy="342.9" r="2.6" fill="#e4e4e4"/>
<circle cx="70.5" cy="311.6" r="2.5" fill="#e4e4e4"/>
<circle cx="91.3" cy="355.4" r="2.8" fill="#e4e4e4"/>
<circle cx="134.8" cy="353.5" r="2.1" fill="#e4e4e4"/>
<circle cx="69.4" cy="300.2" r="3.0" fill="#e4e4e4"/>
<circle cx="126.5" cy="353.4" r="1.7" fill="#e4e4e4"/>
<defs><radialGradient id="g12" cx="0.5" cy="0.5" r="0.5"><stop offset="0" stop-color="#ececec"/><stop offset="0.5" stop-color="#f0f0f0"/><stop offset="0.82" stop-color="#f6f6f6"/><stop offset="1" stop-color="#ffffff" stop-opacity="0"/></radialGradient></defs>
<ellipse cx="254" cy="347" rx="68" ry="68" fill="url(#g12)"/>
<path d="M194.6,356.6L290.0,322.2M194.6,356.6L236.9,371.3M194.6,356.6L291.2,330.6M194.6,356.6L291.2,330.6M194.6,356.6L254.2,351.5M194.6,356.6L258.6,382.3M228.2,302.5L290.0,322.2M228.2,302.5L237.5,368.8M228.2,302.5L209.5,366.2M228.2,302.5L242.8,357.5M228.2,302.5L250.2,394.5M228.2,302.5L253.6,300.2M309.2,350.8L218.0,332.8M309.2,350.8L237.4,309.7M309.2,350.8L247.6,325.3M309.2,350.8L279.3,348.1M309.2,350.8L248.6,371.1M309.2,350.8L302.7,342.0M244.6,409.0L279.3,348.1M244.6,409.0L213.3,343.1M244.6,409.0L213.3,343.1M244.6,409.0L234.9,386.0M244.6,409.0L296.1,323.8M244.6,409.0L285.2,380.9M232.4,291.9L234.9,386.0M232.4,291.9L206.5,352.7M232.4,291.9L258.6,382.3M232.4,291.9L236.9,371.3M232.4,291.9L291.2,330.6M232.4,291.9L256.1,315.4M197.8,325.5L236.9,371.3M197.8,325.5L234.9,386.0M197.8,325.5L240.0,363.0M197.8,325.5L237.5,368.8M197.8,325.5L248.6,371.1M197.8,325.5L214.5,322.5M288.5,391.7L250.2,394.5M288.5,391.7L247.6,325.3M288.5,391.7L257.7,318.6M288.5,391.7L215.6,352.5M288.5,391.7L206.6,354.1M288.5,391.7L285.2,380.9M287.7,401.8L285.2,380.9M287.7,401.8L242.3,391.2M287.7,401.8L273.3,312.9M287.7,401.8L296.1,323.8M287.7,401.8L245.6,393.8M287.7,401.8L215.6,352.5M312.6,369.7L295.0,351.4M312.6,369.7L302.7,342.0M312.6,369.7L250.7,310.4M312.6,369.7L248.6,371.1M312.6,369.7L246.4,346.8M312.6,369.7L250.7,310.4M308.1,374.4L214.5,322.5M308.1,374.4L232.9,358.5M308.1,374.4L237.5,368.8M308.1,374.4L250.7,310.4M308.1,374.4L250.2,394.5M308.1,374.4L214.5,322.5M225.0,394.7L214.5,322.5M225.0,394.7L240.0,363.0M225.0,394.7L215.6,352.5M225.0,394.7L218.0,332.8M225.0,394.7L290.0,322.2M225.0,394.7L209.5,366.2M281.0,305.8L295.0,351.4M281.0,305.8L256.1,315.4M281.0,305.8L240.0,363.0M281.0,305.8L257.7,318.6M281.0,305.8L291.4,318.9M281.0,305.8L211.6,337.5M313.9,371.0L213.3,343.1M313.9,371.0L237.4,309.7M313.9,371.0L206.5,352.7M313.9,371.0L247.6,325.3M313.9,371.0L236.9,371.3M313.9,371.0L285.2,380.9M203.6,344.2L213.3,343.1M203.6,344.2L246.4,346.8M203.6,344.2L291.3,356.6M203.6,344.2L263.1,310.8M203.6,344.2L215.6,352.5M203.6,344.2L290.0,322.2M318.8,341.7L291.3,356.6M318.8,341.7L269.5,334.8M318.8,341.7L236.9,371.3M318.8,341.7L277.3,387.9M318.8,341.7L296.1,323.8M318.8,341.7L285.2,380.9M296.7,383.5L245.6,393.8M296.7,383.5L218.0,332.8M296.7,383.5L237.5,368.8M296.7,383.5L245.6,393.8M296.7,383.5L232.9,358.5M296.7,383.5L237.5,368.8M289.9,387.7L247.6,325.3M289.9,387.7L302.7,342.0M289.9,387.7L291.3,356.6M289.9,387.7L269.5,334.8M289.9,387.7L277.3,387.9M289.9,387.7L237.5,368.8M216.6,311.2L232.9,358.5M216.6,311.2L218.0,332.8M216.6,311.2L296.1,323.8M216.6,311.2L291.2,330.6M216.6,311.2L269.5,334.8M216.6,311.2L248.6,371.1M237.7,299.9L218.0,332.8M237.7,299.9L232.9,358.5M237.7,299.9L236.9,371.3M237.7,299.9L232.9,358.5M237.7,299.9L209.5,366.2M237.7,299.9L234.9,386.0M283.8,402.3L246.4,346.8M283.8,402.3L258.6,382.3M283.8,402.3L269.5,334.8M283.8,402.3L254.2,351.5M283.8,402.3L242.3,391.2M283.8,402.3L295.0,351.4M208.5,379.8L240.0,363.0M208.5,379.8L237.4,309.7M208.5,379.8L213.3,343.1M208.5,379.8L291.3,356.6M208.5,379.8L213.3,343.1M208.5,379.8L258.6,382.3M207.0,314.6L206.5,352.7M207.0,314.6L291.4,318.9M207.0,314.6L213.3,343.1M207.0,314.6L277.3,387.9M207.0,314.6L206.6,354.1M207.0,314.6L246.4,346.8M217.0,379.8L273.3,312.9M217.0,379.8L246.4,346.8M217.0,379.8L273.3,312.9M217.0,379.8L245.6,393.8M217.0,379.8L273.3,312.9M217.0,379.8L234.9,386.0M244.3,282.3L213.3,343.1M244.3,282.3L290.0,322.2M244.3,282.3L206.5,352.7M244.3,282.3L237.5,368.8M244.3,282.3L257.7,318.6M244.3,282.3L285.2,380.9M313.6,338.1L236.9,371.3M313.6,338.1L290.0,322.2M313.6,338.1L273.3,312.9M313.6,338.1L256.1,315.4M313.6,338.1L257.7,318.6M313.6,338.1L295.0,351.4M219.8,390.3L206.6,354.1M219.8,390.3L291.3,356.6M219.8,390.3L209.5,366.2M219.8,390.3L250.7,310.4M219.8,390.3L236.9,371.3M219.8,390.3L245.6,393.8M231.8,290.8L214.5,322.5M231.8,290.8L237.4,309.7M231.8,290.8L232.9,358.5M231.8,290.8L218.0,332.8M231.8,290.8L295.0,351.4M231.8,290.8L206.5,352.7M294.0,381.7L242.3,391.2M294.0,381.7L206.5,352.7M294.0,381.7L302.7,342.0M294.0,381.7L236.9,371.3M294.0,381.7L285.2,380.9M294.0,381.7L257.7,318.6M216.3,390.6L296.1,323.8M216.3,390.6L291.4,318.9M216.3,390.6L209.5,366.2M216.3,390.6L237.5,368.8M216.3,390.6L285.2,380.9M216.3,390.6L253.6,300.2M275.2,293.6L291.3,356.6M275.2,293.6L237.4,309.7M275.2,293.6L240.0,363.0M275.2,293.6L215.6,352.5M275.2,293.6L257.7,318.6M275.2,293.6L296.1,323.8M316.0,358.1L279.3,348.1M316.0,358.1L240.0,363.0M316.0,358.1L206.6,354.1M316.0,358.1L250.2,394.5M316.0,358.1L206.5,352.7M316.0,358.1L254.2,351.5M201.7,371.6L211.6,337.5M201.7,371.6L291.2,330.6M201.7,371.6L206.5,352.7M201.7,371.6L242.8,357.5M201.7,371.6L215.6,352.5M201.7,371.6L242.8,357.5M263.8,402.4L263.1,310.8M263.8,402.4L258.6,382.3M263.8,402.4L214.5,322.5M263.8,402.4L248.6,371.1M263.8,402.4L296.1,323.8M263.8,402.4L290.0,322.2M206.6,387.1L247.6,325.3M206.6,387.1L250.2,394.5M206.6,387.1L209.5,366.2M206.6,387.1L279.3,348.1M206.6,387.1L237.5,368.8M206.6,387.1L248.6,371.1M300.6,382.0L240.0,363.0M300.6,382.0L285.2,380.9M300.6,382.0L302.7,342.0M300.6,382.0L213.3,343.1M300.6,382.0L254.2,351.5M300.6,382.0L236.9,371.3M280.6,401.7L237.5,368.8M280.6,401.7L291.3,356.6M280.6,401.7L242.3,391.2M280.6,401.7L206.6,354.1M280.6,401.7L273.3,312.9M280.6,401.7L215.6,352.5M306.2,359.3L254.2,351.5M306.2,359.3L263.1,310.8M306.2,359.3L296.1,323.8M306.2,359.3L248.6,371.1M306.2,359.3L209.5,366.2M306.2,359.3L247.6,325.3M220.6,396.6L248.6,371.1M220.6,396.6L237.5,368.8M220.6,396.6L232.9,358.5M220.6,396.6L236.9,371.3M220.6,396.6L248.6,371.1M220.6,396.6L273.3,312.9M307.8,365.2L291.2,330.6M307.8,365.2L290.0,322.2M307.8,365.2L291.2,330.6M307.8,365.2L285.2,380.9M307.8,365.2L253.6,300.2M307.8,365.2L215.6,352.5M267.8,399.0L248.6,371.1M267.8,399.0L232.9,358.5M267.8,399.0L242.3,391.2M267.8,399.0L291.2,330.6M267.8,399.0L211.6,337.5M267.8,399.0L291.3,356.6M290.0,322.2L256.1,315.4M242.3,391.2L269.5,334.8M248.6,371.1L218.0,332.8M257.7,318.6L254.2,351.5M242.8,357.5L236.9,371.3M234.9,386.0L285.2,380.9M291.4,318.9L302.7,342.0M237.5,368.8L291.2,330.6M211.6,337.5L242.3,391.2M232.9,358.5L248.6,371.1M213.3,343.1L285.2,380.9M237.4,309.7L248.6,371.1M250.7,310.4L237.5,368.8M214.5,322.5L253.6,300.2M234.9,386.0L291.2,330.6M209.5,366.2L258.6,382.3M247.6,325.3L291.2,330.6M285.2,380.9L291.2,330.6M237.4,309.7L302.7,342.0M245.6,393.8L248.6,371.1M248.6,371.1L209.5,366.2M277.3,387.9L295.0,351.4M248.6,371.1L290.0,322.2M253.6,300.2L295.0,351.4M257.7,318.6L269.5,334.8M246.4,346.8L236.9,371.3M279.3,348.1L213.3,343.1M246.4,346.8L256.1,315.4M215.6,352.5L245.6,393.8M253.6,300.2L215.6,352.5M273.3,312.9L273.3,312.9M242.3,391.2L254.2,351.5M258.6,382.3L242.8,357.5M234.9,386.0L263.1,310.8M213.3,343.1L214.5,322.5M291.3,356.6L263.1,310.8M209.5,366.2L256.1,315.4M214.5,322.5L232.9,358.5M285.2,380.9L242.3,391.2M273.3,312.9L250.2,394.5M242.8,357.5L295.0,351.4M236.9,371.3L250.7,310.4M291.2,330.6L248.6,371.1M237.4,309.7L209.5,366.2M213.3,343.1L291.3,356.6M206.5,352.7L253.6,300.2M245.6,393.8L232.9,358.5M245.6,393.8L263.1,310.8M302.7,342.0L295.0,351.4M218.0,332.8L211.6,337.5M247.6,325.3L234.9,386.0M269.5,334.8L296.1,323.8M218.0,332.8L240.0,363.0M302.7,342.0L240.0,363.0M256.1,315.4L254.2,351.5M295.0,351.4L213.3,343.1M250.2,394.5L246.4,346.8M258.6,382.3L254.2,351.5M291.4,318.9L232.9,358.5M250.7,310.4L236.9,371.3M213.3,343.1L237.5,368.8M279.3,348.1L273.3,312.9M302.7,342.0L215.6,352.5M232.9,358.5L295.0,351.4M269.5,334.8L295.0,351.4M285.2,380.9L273.3,312.9M291.3,356.6L258.6,382.3M291.4,318.9L257.7,318.6M250.2,394.5L269.5,334.8M277.3,387.9L290.0,322.2M290.0,322.2L256.1,315.4M257.7,318.6L236.9,371.3M291.2,330.6L295.0,351.4M234.9,386.0L211.6,337.5M240.0,363.0L296.1,323.8M213.3,343.1L206.5,352.7M236.9,371.3L232.9,358.5M237.4,309.7L209.5,366.2M279.3,348.1L253.6,300.2M290.0,322.2L295.0,351.4M214.5,322.5L291.4,318.9M291.4,318.9L209.5,366.2M290.0,322.2L206.6,354.1M250.7,310.4L285.2,380.9M218.0,332.8L302.7,342.0M206.5,352.7L248.6,371.1M253.6,300.2L295.0,351.4M291.2,330.6L242.3,391.2M213.3,343.1L215.6,352.5M213.3,343.1L218.0,332.8M242.3,391.2L250.7,310.4M209.5,366.2L295.0,351.4M279.3,348.1L277.3,387.9M245.6,393.8L285.2,380.9M245.6,393.8L237.4,309.7M279.3,348.1L254.2,351.5M277.3,387.9L254.2,351.5M302.7,342.0L253.6,300.2M237.5,368.8L302.7,342.0M291.3,356.6L250.7,310.4M290.0,322.2L246.4,346.8M234.9,386.0L291.4,318.9M237.4,309.7L215.6,352.5M209.5,366.2L206.5,352.7M302.7,342.0L245.6,393.8M214.5,322.5L211.6,337.5M214.5,322.5L247.6,325.3M246.4,346.8L269.5,334.8M206.6,354.1L245.6,393.8M296.1,323.8L296.1,323.8M258.6,382.3L246.4,346.8M206.5,352.7L291.2,330.6M237.4,309.7L237.4,309.7M245.6,393.8L257.7,318.6M291.2,330.6L236.9,371.3M285.2,380.9L218.0,332.8M237.4,309.7L247.6,325.3M277.3,387.9L211.6,337.5M213.3,343.1L290.0,322.2M295.0,351.4L291.2,330.6M291.4,318.9L206.6,354.1M213.3,343.1L291.2,330.6M291.4,318.9L247.6,325.3M291.3,356.6L240.0,363.0M247.6,325.3L250.2,394.5M290.0,322.2L258.6,382.3M254.2,351.5L279.3,348.1M253.6,300.2L291.2,330.6M234.9,386.0L296.1,323.8M248.6,371.1L242.3,391.2M277.3,387.9L296.1,323.8M215.6,352.5L285.2,380.9M247.6,325.3L248.6,371.1M240.0,363.0L247.6,325.3M263.1,310.8L258.6,382.3M215.6,352.5L291.2,330.6M253.6,300.2L257.7,318.6M263.1,310.8L236.9,371.3M246.4,346.8L250.7,310.4M273.3,312.9L214.5,322.5" stroke="#d4d4d4" stroke-width="0.35" stroke-opacity="0.4" fill="none"/>
<circle cx="194.6" cy="356.6" r="2.6" fill="#e4e4e4"/>
<circle cx="228.2" cy="302.5" r="2.3" fill="#e4e4e4"/>
<circle cx="309.2" cy="350.8" r="2.2" fill="#e4e4e4"/>
<circle cx="244.6" cy="409.0" r="1.9" fill="#e4e4e4"/>
<circle cx="232.4" cy="291.9" r="3.3" fill="#e4e4e4"/>
<circle cx="197.8" cy="325.5" r="1.8" fill="#e4e4e4"/>
<circle cx="288.5" cy="391.7" r="2.8" fill="#e4e4e4"/>
<circle cx="287.7" cy="401.8" r="2.6" fill="#e4e4e4"/>
<circle cx="312.6" cy="369.7" r="2.9" fill="#e4e4e4"/>
<circle cx="308.1" cy="374.4" r="3.4" fill="#e4e4e4"/>
<circle cx="225.0" cy="394.7" r="1.8" fill="#e4e4e4"/>
<circle cx="281.0" cy="305.8" r="2.8" fill="#e4e4e4"/>
<circle cx="313.9" cy="371.0" r="2.0" fill="#e4e4e4"/>
<circle cx="203.6" cy="344.2" r="2.1" fill="#e4e4e4"/>
<circle cx="318.8" cy="341.7" r="1.7" fill="#e4e4e4"/>
<circle cx="296.7" cy="383.5" r="2.4" fill="#e4e4e4"/>
<circle cx="289.9" cy="387.7" r="3.3" fill="#e4e4e4"/>
<circle cx="216.6" cy="311.2" r="2.4" fill="#e4e4e4"/>
<circle cx="237.7" cy="299.9" r="1.8" fill="#e4e4e4"/>
<circle cx="283.8" cy="402.3" r="2.8" fill="#e4e4e4"/>
<circle cx="208.5" cy="379.8" r="3.2" fill="#e4e4e4"/>
<circle cx="207.0" cy="314.6" r="1.9" fill="#e4e4e4"/>
<circle cx="217.0" cy="379.8" r="3.1" fill="#e4e4e4"/>
<circle cx="244.3" cy="282.3" r="2.6" fill="#e4e4e4"/>
<circle cx="313.6" cy="338.1" r="1.9" fill="#e4e4e4"/>
<circle cx="219.8" cy="390.3" r="2.6" fill="#e4e4e4"/>
<circle cx="231.8" cy="290.8" r="1.8" fill="#e4e4e4"/>
<circle cx="294.0" cy="381.7" r="2.9" fill="#e4e4e4"/>
<circle cx="216.3" cy="390.6" r="2.9" fill="#e4e4e4"/>
<circle cx="275.2" cy="293.6" r="2.7" fill="#e4e4e4"/>
<circle cx="316.0" cy="358.1" r="2.8" fill="#e4e4e4"/>
<circle cx="201.7" cy="371.6" r="1.7" fill="#e4e4e4"/>
<circle cx="263.8" cy="402.4" r="2.4" fill="#e4e4e4"/>
<circle cx="206.6" cy="387.1" r="3.1" fill="#e4e4e4"/>
<circle cx="300.6" cy="382.0" r="2.9" fill="#e4e4e4"/>
<circle cx="280.6" cy="401.7" r="1.9" fill="#e4e4e4"/>
<circle cx="306.2" cy="359.3" r="3.2" fill="#e4e4e4"/>
<circle cx="220.6" cy="396.6" r="3.1" fill="#e4e4e4"/>
<circle cx="307.8" cy="365.2" r="2.4" fill="#e4e4e4"/>
<circle cx="267.8" cy="399.0" r="3.4" fill="#e4e4e4"/>
<circle cx="206.6" cy="354.1" r="2.6" fill="#e4e4e4"/>
<circle cx="206.5" cy="352.7" r="2.0" fill="#e4e4e4"/>
<circle cx="277.3" cy="387.9" r="3.3" fill="#e4e4e4"/>
<circle cx="240.0" cy="363.0" r="3.3" fill="#e4e4e4"/>
<circle cx="253.6" cy="300.2" r="3.0" fill="#e4e4e4"/>
<circle cx="279.3" cy="348.1" r="3.3" fill="#e4e4e4"/>
<circle cx="257.7" cy="318.6" r="3.2" fill="#e4e4e4"/>
<circle cx="254.2" cy="351.5" r="2.5" fill="#e4e4e4"/>
<circle cx="291.3" cy="356.6" r="2.7" fill="#e4e4e4"/>
<circle cx="302.7" cy="342.0" r="2.5" fill="#e4e4e4"/>
<circle cx="246.4" cy="346.8" r="2.7" fill="#e4e4e4"/>
<circle cx="234.9" cy="386.0" r="2.1" fill="#e4e4e4"/>
<circle cx="273.3" cy="312.9" r="2.3" fill="#e4e4e4"/>
<circle cx="258.6" cy="382.3" r="2.6" fill="#e4e4e4"/>
<circle cx="215.6" cy="352.5" r="3.2" fill="#e4e4e4"/>
<circle cx="250.2" cy="394.5" r="2.6" fill="#e4e4e4"/>
<circle cx="269.5" cy="334.8" r="2.6" fill="#e4e4e4"/>
<circle cx="242.3" cy="391.2" r="1.7" fill="#e4e4e4"/>
<circle cx="245.6" cy="393.8" r="2.7" fill="#e4e4e4"/>
<circle cx="213.3" cy="343.1" r="2.4" fill="#e4e4e4"/>
<circle cx="247.6" cy="325.3" r="2.5" fill="#e4e4e4"/>
<circle cx="248.6" cy="371.1" r="3.3" fill="#e4e4e4"/>
<circle cx="237.4" cy="309.7" r="2.7" fill="#e4e4e4"/>
<circle cx="285.2" cy="380.9" r="3.0" fill="#e4e4e4"/>
<circle cx="232.9" cy="358.5" r="2.6" fill="#e4e4e4"/>
<circle cx="209.5" cy="366.2" r="2.8" fill="#e4e4e4"/>
<circle cx="218.0" cy="332.8" r="2.8" fill="#e4e4e4"/>
<circle cx="296.1" cy="323.8" r="1.6" fill="#e4e4e4"/>
<circle cx="256.1" cy="315.4" r="1.8" fill="#e4e4e4"/>
<circle cx="214.5" cy="322.5" r="2.6" fill="#e4e4e4"/>
<circle cx="263.1" cy="310.8" r="2.3" fill="#e4e4e4"/>
<circle cx="236.9" cy="371.3" r="2.6" fill="#e4e4e4"/>
<circle cx="250.7" cy="310.4" r="1.8" fill="#e4e4e4"/>
<circle cx="295.0" cy="351.4" r="2.8" fill="#e4e4e4"/>
<circle cx="290.0" cy="322.2" r="2.9" fill="#e4e4e4"/>
<circle cx="291.4" cy="318.9" r="3.1" fill="#e4e4e4"/>
<circle cx="211.6" cy="337.5" r="3.1" fill="#e4e4e4"/>
<circle cx="242.8" cy="357.5" r="2.5" fill="#e4e4e4"/>
<circle cx="237.5" cy="368.8" r="3.0" fill="#e4e4e4"/>
<circle cx="291.2" cy="330.6" r="1.7" fill="#e4e4e4"/>
<defs><radialGradient id="g13" cx="0.5" cy="0.5" r="0.5"><stop offset="0" stop-color="#ececec"/><stop offset="0.5" stop-color="#f0f0f0"/><stop offset="0.82" stop-color="#f6f6f6"/><stop offset="1" stop-color="#ffffff" stop-opacity="0"/></radialGradient></defs>
<ellipse cx="416" cy="351" rx="77" ry="75" fill="url(#g13)"/>
<path d="M412.1,417.7L378.8,330.8M412.1,417.7L413.6,395.6M412.1,417.7L428.1,337.3M412.1,417.7L378.0,347.1M412.1,417.7L377.7,337.2M412.1,417.7L386.0,386.6M387.1,287.0L454.5,358.6M387.1,287.0L406.7,364.7M387.1,287.0L428.1,337.3M387.1,287.0L377.7,337.2M387.1,287.0L378.5,323.2M387.1,287.0L382.1,387.7M439.5,404.6L451.7,359.6M439.5,404.6L439.5,389.4M439.5,404.6L419.6,327.7M439.5,404.6L432.4,328.7M439.5,404.6L399.6,375.6M439.5,404.6L413.6,395.6M452.0,397.5L448.1,352.1M452.0,397.5L410.9,392.4M452.0,397.5L386.0,386.6M452.0,397.5L382.1,387.7M452.0,397.5L382.1,387.7M452.0,397.5L397.2,358.9M410.2,294.8L457.3,375.4M410.2,294.8L438.0,371.5M410.2,294.8L404.6,382.8M410.2,294.8L417.1,379.9M410.2,294.8L455.4,313.4M410.2,294.8L386.0,386.6M357.6,339.7L427.5,328.4M357.6,339.7L386.0,386.6M357.6,339.7L456.3,369.2M357.6,339.7L455.4,313.4M357.6,339.7L377.7,337.2M357.6,339.7L428.1,337.3M398.3,410.7L432.4,328.7M398.3,410.7L428.1,337.3M398.3,410.7L417.1,379.9M398.3,410.7L401.4,325.3M398.3,410.7L451.7,359.6M398.3,410.7L428.1,337.3M451.1,295.3L401.4,325.3M451.1,295.3L448.1,352.1M451.1,295.3L439.5,389.4M451.1,295.3L432.4,328.7M451.1,295.3L386.0,386.6M451.1,295.3L426.4,392.2M476.5,356.4L406.7,364.7M476.5,356.4L378.5,323.2M476.5,356.4L436.0,367.6M476.5,356.4L397.2,358.9M476.5,356.4L361.4,352.1M476.5,356.4L439.5,389.4M459.6,407.0L456.3,326.2M459.6,407.0L450.0,359.1M459.6,407.0L406.7,364.7M459.6,407.0L455.4,313.4M459.6,407.0L378.0,347.1M459.6,407.0L378.8,330.8M442.0,286.7L456.3,369.2M442.0,286.7L436.0,367.6M442.0,286.7L401.4,325.3M442.0,286.7L417.1,379.9M442.0,286.7L387.9,334.1M442.0,286.7L419.6,327.7M448.2,290.7L387.9,334.1M448.2,290.7L361.4,352.1M448.2,290.7L451.7,359.6M448.2,290.7L451.7,359.6M448.2,290.7L457.3,375.4M448.2,290.7L401.4,325.3M483.2,329.4L378.5,323.2M483.2,329.4L397.2,358.9M483.2,329.4L426.4,392.2M483.2,329.4L428.1,337.3M483.2,329.4L448.1,352.1M483.2,329.4L361.4,352.1M413.0,420.9L456.3,326.2M413.0,420.9L449.6,368.3M413.0,420.9L382.1,387.7M413.0,420.9L432.4,328.7M413.0,420.9L425.4,381.6M413.0,420.9L406.7,364.7M346.3,356.7L419.6,327.7M346.3,356.7L425.4,381.6M346.3,356.7L448.1,352.1M346.3,356.7L451.7,359.6M346.3,356.7L413.1,349.0M346.3,356.7L435.4,355.0M357.4,326.7L428.1,337.3M357.4,326.7L413.1,349.0M357.4,326.7L438.0,371.5M357.4,326.7L387.9,334.1M357.4,326.7L419.6,327.7M357.4,326.7L438.0,371.5M374.1,397.8L426.4,392.2M374.1,397.8L404.6,382.8M374.1,397.8L378.8,330.8M374.1,397.8L419.6,327.7M374.1,397.8L401.2,376.2M374.1,397.8L471.4,352.0M393.5,402.8L377.7,337.2M393.5,402.8L436.0,367.6M393.5,402.8L378.5,323.2M393.5,402.8L435.4,355.0M393.5,402.8L377.7,337.2M393.5,402.8L401.4,325.3M446.0,288.5L439.5,389.4M446.0,288.5L375.0,355.9M446.0,288.5L404.6,382.8M446.0,288.5L397.2,358.9M446.0,288.5L386.0,386.6M446.0,288.5L410.9,392.4M484.5,345.0L450.0,359.1M484.5,345.0L426.4,392.2M484.5,345.0L428.1,337.3M484.5,345.0L426.4,392.2M484.5,345.0L451.7,359.6M484.5,345.0L401.4,325.3M350.2,328.3L455.4,313.4M350.2,328.3L451.7,359.6M350.2,328.3L386.0,386.6M350.2,328.3L401.2,376.2M350.2,328.3L450.0,359.1M350.2,328.3L448.1,352.1M461.3,401.0L449.6,368.3M461.3,401.0L375.0,355.9M461.3,401.0L426.4,392.2M461.3,401.0L392.3,378.5M461.3,401.0L436.0,367.6M461.3,401.0L382.1,387.7M360.8,371.0L454.5,358.6M360.8,371.0L397.2,358.9M360.8,371.0L401.2,376.2M360.8,371.0L378.5,323.2M360.8,371.0L404.6,382.8M360.8,371.0L457.3,375.4M435.2,412.0L456.3,326.2M435.2,412.0L449.6,368.3M435.2,412.0L392.3,378.5M435.2,412.0L386.0,386.6M435.2,412.0L397.2,358.9M435.2,412.0L450.0,359.1M414.7,413.6L382.1,387.7M414.7,413.6L401.2,376.2M414.7,413.6L378.5,323.2M414.7,413.6L436.0,367.6M414.7,413.6L432.4,328.7M414.7,413.6L451.7,359.6M366.3,313.2L413.1,349.0M366.3,313.2L413.6,395.6M366.3,313.2L377.7,337.2M366.3,313.2L413.6,395.6M366.3,313.2L449.6,368.3M366.3,313.2L378.0,347.1M460.2,397.3L435.4,355.0M460.2,397.3L439.5,389.4M460.2,397.3L448.1,352.1M460.2,397.3L377.7,337.2M460.2,397.3L377.7,337.2M460.2,397.3L471.4,352.0M421.5,409.2L392.3,378.5M421.5,409.2L436.0,367.6M421.5,409.2L386.0,386.6M421.5,409.2L428.1,337.3M421.5,409.2L451.7,359.6M421.5,409.2L455.4,313.4M437.4,408.2L401.2,376.2M437.4,408.2L426.4,392.2M437.4,408.2L413.1,349.0M437.4,408.2L413.6,395.6M437.4,408.2L387.9,334.1M437.4,408.2L404.6,382.8M476.9,380.4L404.6,382.8M476.9,380.4L375.0,355.9M476.9,380.4L404.6,382.8M476.9,380.4L401.2,376.2M476.9,380.4L425.4,381.6M476.9,380.4L399.6,375.6M476.3,333.4L457.3,375.4M476.3,333.4L397.2,358.9M476.3,333.4L361.4,352.1M476.3,333.4L456.3,326.2M476.3,333.4L387.9,334.1M476.3,333.4L456.3,369.2M401.7,280.9L410.9,392.4M401.7,280.9L454.5,358.6M401.7,280.9L387.9,334.1M401.7,280.9L435.4,355.0M401.7,280.9L399.6,375.6M401.7,280.9L419.6,327.7M472.0,366.2L425.4,381.6M472.0,366.2L401.4,325.3M472.0,366.2L426.4,392.2M472.0,366.2L457.3,375.4M472.0,366.2L387.9,334.1M472.0,366.2L425.4,381.6M440.7,285.6L419.6,327.7M440.7,285.6L404.6,382.8M440.7,285.6L386.0,386.6M440.7,285.6L439.5,389.4M440.7,285.6L448.1,352.1M440.7,285.6L410.9,392.4M378.4,307.3L378.5,323.2M378.4,307.3L451.7,359.6M378.4,307.3L428.1,337.3M378.4,307.3L454.5,358.6M378.4,307.3L401.4,325.3M378.4,307.3L397.2,358.9M354.2,387.3L410.9,392.4M354.2,387.3L450.0,359.1M354.2,387.3L427.5,328.4M354.2,387.3L378.0,347.1M354.2,387.3L378.5,323.2M354.2,387.3L410.9,392.4M469.5,305.7L439.5,389.4M469.5,305.7L456.3,369.2M469.5,305.7L377.7,337.2M469.5,305.7L399.6,375.6M469.5,305.7L427.5,328.4M469.5,305.7L387.9,334.1M436.9,418.0L410.9,392.4M436.9,418.0L454.5,358.6M436.9,418.0L406.7,364.7M436.9,418.0L426.4,392.2M436.9,418.0L406.7,364.7M436.9,418.0L471.4,352.0M367.1,398.8L386.0,386.6M367.1,398.8L386.0,386.6M367.1,398.8L449.6,368.3M367.1,398.8L450.0,359.1M367.1,398.8L404.6,382.8M367.1,398.8L471.4,352.0M464.3,405.8L425.4,381.6M464.3,405.8L439.5,389.4M464.3,405.8L375.0,355.9M464.3,405.8L401.2,376.2M464.3,405.8L451.7,359.6M464.3,405.8L456.3,369.2M386.0,386.6L413.6,395.6M455.4,313.4L386.0,386.6M397.2,358.9L397.2,358.9M471.4,352.0L439.5,389.4M450.0,359.1L401.4,325.3M425.4,381.6L401.4,325.3M382.1,387.7L448.1,352.1M378.0,347.1L435.4,355.0M427.5,328.4L425.4,381.6M378.0,347.1L361.4,352.1M410.9,392.4L436.0,367.6M439.5,389.4L406.7,364.7M386.0,386.6L456.3,369.2M448.1,352.1L451.7,359.6M449.6,368.3L455.4,313.4M401.4,325.3L436.0,367.6M436.0,367.6L375.0,355.9M457.3,375.4L392.3,378.5M436.0,367.6L378.8,330.8M404.6,382.8L428.1,337.3M425.4,381.6L377.7,337.2M419.6,327.7L449.6,368.3M419.6,327.7L456.3,326.2M432.4,328.7L456.3,369.2M378.5,323.2L375.0,355.9M439.5,389.4L436.0,367.6M361.4,352.1L457.3,375.4M378.5,323.2L425.4,381.6M377.7,337.2L378.5,323.2M397.2,358.9L377.7,337.2M382.1,387.7L413.6,395.6M451.7,359.6L450.0,359.1M450.0,359.1L426.4,392.2M413.6,395.6L432.4,328.7M456.3,326.2L413.6,395.6M438.0,371.5L436.0,367.6M451.7,359.6L406.7,364.7M404.6,382.8L406.7,364.7M450.0,359.1L386.0,386.6M392.3,378.5L450.0,359.1M456.3,369.2L375.0,355.9M425.4,381.6L427.5,328.4M410.9,392.4L451.7,359.6M455.4,313.4L387.9,334.1M426.4,392.2L417.1,379.9M417.1,379.9L456.3,326.2M450.0,359.1L417.1,379.9M378.0,347.1L439.5,389.4M427.5,328.4L382.1,387.7M417.1,379.9L406.7,364.7M392.3,378.5L427.5,328.4M386.0,386.6L413.1,349.0M457.3,375.4L436.0,367.6M428.1,337.3L401.2,376.2M457.3,375.4L451.7,359.6M427.5,328.4L378.8,330.8M427.5,328.4L438.0,371.5M426.4,392.2L382.1,387.7M450.0,359.1L378.8,330.8M375.0,355.9L361.4,352.1M450.0,359.1L378.8,330.8M413.6,395.6L438.0,371.5M413.1,349.0L417.1,379.9M455.4,313.4L406.7,364.7M457.3,375.4L410.9,392.4M450.0,359.1L404.6,382.8M417.1,379.9L386.0,386.6M417.1,379.9L417.1,379.9M449.6,368.3L438.0,371.5M404.6,382.8L450.0,359.1M410.9,392.4L378.8,330.8M378.8,330.8L426.4,392.2M457.3,375.4L397.2,358.9M455.4,313.4L417.1,379.9M417.1,379.9L401.2,376.2M377.7,337.2L413.1,349.0M439.5,389.4L375.0,355.9M375.0,355.9L435.4,355.0M457.3,375.4L439.5,389.4M428.1,337.3L401.2,376.2M401.2,376.2L378.5,323.2M386.0,386.6L375.0,355.9M471.4,352.0L382.1,387.7M456.3,369.2L426.4,392.2M425.4,381.6L427.5,328.4M410.9,392.4L413.1,349.0M419.6,327.7L378.8,330.8M425.4,381.6L378.8,330.8M438.0,371.5L361.4,352.1M375.0,355.9L397.2,358.9M451.7,359.6L451.7,359.6M451.7,359.6L426.4,392.2M471.4,352.0L404.6,382.8M399.6,375.6L378.0,347.1M406.7,364.7L419.6,327.7M438.0,371.5L375.0,355.9M378.5,323.2L392.3,378.5M382.1,387.7L399.6,375.6M413.1,349.0L456.3,369.2M399.6,375.6L392.3,378.5M399.6,375.6L387.9,334.1M397.2,358.9L471.4,352.0M438.0,371.5L404.6,382.8M386.0,386.6L426.4,392.2M387.9,334.1L455.4,313.4M410.9,392.4L457.3,375.4M456.3,326.2L451.7,359.6M457.3,375.4L392.3,378.5M471.4,352.0L377.7,337.2M382.1,387.7L435.4,355.0M397.2,358.9L404.6,382.8M399.6,375.6L401.2,376.2M450.0,359.1L401.2,376.2M406.7,364.7L417.1,379.9M455.4,313.4L425.4,381.6M382.1,387.7L401.4,325.3M378.0,347.1L457.3,375.4M378.5,323.2L436.0,367.6M457.3,375.4L413.1,349.0M382.1,387.7L471.4,352.0M448.1,352.1L426.4,392.2M413.1,349.0L410.9,392.4M427.5,328.4L361.4,352.1M392.3,378.5L428.1,337.3M392.3,378.5L378.5,323.2M435.4,355.0L377.7,337.2M450.0,359.1L456.3,326.2M382.1,387.7L457.3,375.4M426.4,392.2L417.1,379.9M361.4,352.1L436.0,367.6M377.7,337.2L378.8,330.8M456.3,326.2L457.3,375.4M426.4,392.2L399.6,375.6M399.6,375.6L456.3,369.2M432.4,328.7L439.5,389.4M455.4,313.4L471.4,352.0M404.6,382.8L375.0,355.9M404.6,382.8L413.1,349.0M404.6,382.8L378.5,323.2M413.1,349.0L401.2,376.2" stroke="#d4d4d4" stroke-width="0.35" stroke-opacity="0.4" fill="none"/>
<circle cx="412.1" cy="417.7" r="2.9" fill="#e4e4e4"/>
<circle cx="387.1" cy="287.0" r="3.3" fill="#e4e4e4"/>
<circle cx="439.5" cy="404.6" r="2.2" fill="#e4e4e4"/>
<circle cx="452.0" cy="397.5" r="2.9" fill="#e4e4e4"/>
<circle cx="410.2" cy="294.8" r="2.2" fill="#e4e4e4"/>
<circle cx="357.6" cy="339.7" r="3.2" fill="#e4e4e4"/>
<circle cx="398.3" cy="410.7" r="3.0" fill="#e4e4e4"/>
<circle cx="451.1" cy="295.3" r="3.1" fill="#e4e4e4"/>
<circle cx="476.5" cy="356.4" r="3.2" fill="#e4e4e4"/>
<circle cx="459.6" cy="407.0" r="2.7" fill="#e4e4e4"/>
<circle cx="442.0" cy="286.7" r="3.3" fill="#e4e4e4"/>
<circle cx="448.2" cy="290.7" r="1.9" fill="#e4e4e4"/>
<circle cx="483.2" cy="329.4" r="2.6" fill="#e4e4e4"/>
<circle cx="413.0" cy="420.9" r="1.7" fill="#e4e4e4"/>
<circle cx="346.3" cy="356.7" r="2.6" fill="#e4e4e4"/>
<circle cx="357.4" cy="326.7" r="2.8" fill="#e4e4e4"/>
<circle cx="374.1" cy="397.8" r="2.1" fill="#e4e4e4"/>
<circle cx="393.5" cy="402.8" r="3.1" fill="#e4e4e4"/>
<circle cx="446.0" cy="288.5" r="2.4" fill="#e4e4e4"/>
<circle cx="484.5" cy="345.0" r="2.0" fill="#e4e4e4"/>
<circle cx="350.2" cy="328.3" r="1.9" fill="#e4e4e4"/>
<circle cx="461.3" cy="401.0" r="2.6" fill="#e4e4e4"/>
<circle cx="360.8" cy="371.0" r="2.3" fill="#e4e4e4"/>
<circle cx="435.2" cy="412.0" r="1.7" fill="#e4e4e4"/>
<circle cx="414.7" cy="413.6" r="2.2" fill="#e4e4e4"/>
<circle cx="366.3" cy="313.2" r="3.4" fill="#e4e4e4"/>
<circle cx="460.2" cy="397.3" r="2.5" fill="#e4e4e4"/>
<circle cx="421.5" cy="409.2" r="2.8" fill="#e4e4e4"/>
<circle cx="437.4" cy="408.2" r="2.4" fill="#e4e4e4"/>
<circle cx="476.9" cy="380.4" r="1.7" fill="#e4e4e4"/>
<circle cx="476.3" cy="333.4" r="2.7" fill="#e4e4e4"/>
<circle cx="401.7" cy="280.9" r="2.0" fill="#e4e4e4"/>
<circle cx="472.0" cy="366.2" r="1.8" fill="#e4e4e4"/>
<circle cx="440.7" cy="285.6" r="2.7" fill="#e4e4e4"/>
<circle cx="378.4" cy="307.3" r="2.8" fill="#e4e4e4"/>
<circle cx="354.2" cy="387.3" r="1.6" fill="#e4e4e4"/>
<circle cx="469.5" cy="305.7" r="3.3" fill="#e4e4e4"/>
<circle cx="436.9" cy="418.0" r="1.6" fill="#e4e4e4"/>
<circle cx="367.1" cy="398.8" r="1.9" fill="#e4e4e4"/>
<circle cx="464.3" cy="405.8" r="2.2" fill="#e4e4e4"/>
<circle cx="378.5" cy="323.2" r="3.0" fill="#e4e4e4"/>
<circle cx="426.4" cy="392.2" r="2.9" fill="#e4e4e4"/>
<circle cx="378.8" cy="330.8" r="2.9" fill="#e4e4e4"/>
<circle cx="386.0" cy="386.6" r="2.4" fill="#e4e4e4"/>
<circle cx="399.6" cy="375.6" r="3.2" fill="#e4e4e4"/>
<circle cx="439.5" cy="389.4" r="1.8" fill="#e4e4e4"/>
<circle cx="436.0" cy="367.6" r="3.3" fill="#e4e4e4"/>
<circle cx="456.3" cy="369.2" r="1.7" fill="#e4e4e4"/>
<circle cx="377.7" cy="337.2" r="1.9" fill="#e4e4e4"/>
<circle cx="451.7" cy="359.6" r="3.0" fill="#e4e4e4"/>
<circle cx="406.7" cy="364.7" r="3.0" fill="#e4e4e4"/>
<circle cx="471.4" cy="352.0" r="2.8" fill="#e4e4e4"/>
<circle cx="438.0" cy="371.5" r="2.0" fill="#e4e4e4"/>
<circle cx="410.9" cy="392.4" r="3.2" fill="#e4e4e4"/>
<circle cx="449.6" cy="368.3" r="2.5" fill="#e4e4e4"/>
<circle cx="382.1" cy="387.7" r="2.0" fill="#e4e4e4"/>
<circle cx="448.1" cy="352.1" r="1.8" fill="#e4e4e4"/>
<circle cx="361.4" cy="352.1" r="3.4" fill="#e4e4e4"/>
<circle cx="378.0" cy="347.1" r="1.7" fill="#e4e4e4"/>
<circle cx="401.4" cy="325.3" r="2.0" fill="#e4e4e4"/>
<circle cx="454.5" cy="358.6" r="2.2" fill="#e4e4e4"/>
<circle cx="456.3" cy="326.2" r="3.2" fill="#e4e4e4"/>
<circle cx="413.6" cy="395.6" r="3.1" fill="#e4e4e4"/>
<circle cx="432.4" cy="328.7" r="3.1" fill="#e4e4e4"/>
<circle cx="387.9" cy="334.1" r="2.7" fill="#e4e4e4"/>
<circle cx="417.1" cy="379.9" r="1.6" fill="#e4e4e4"/>
<circle cx="425.4" cy="381.6" r="2.9" fill="#e4e4e4"/>
<circle cx="450.0" cy="359.1" r="1.9" fill="#e4e4e4"/>
<circle cx="457.3" cy="375.4" r="3.3" fill="#e4e4e4"/>
<circle cx="413.1" cy="349.0" r="3.3" fill="#e4e4e4"/>
<circle cx="419.6" cy="327.7" r="1.7" fill="#e4e4e4"/>
<circle cx="375.0" cy="355.9" r="2.9" fill="#e4e4e4"/>
<circle cx="401.2" cy="376.2" r="2.0" fill="#e4e4e4"/>
<circle cx="397.2" cy="358.9" r="1.8" fill="#e4e4e4"/>
<circle cx="428.1" cy="337.3" r="3.2" fill="#e4e4e4"/>
<circle cx="427.5" cy="328.4" r="2.4" fill="#e4e4e4"/>
<circle cx="404.6" cy="382.8" r="2.1" fill="#e4e4e4"/>
<circle cx="435.4" cy="355.0" r="2.6" fill="#e4e4e4"/>
<circle cx="392.3" cy="378.5" r="1.7" fill="#e4e4e4"/>
<circle cx="455.4" cy="313.4" r="2.4" fill="#e4e4e4"/>
<defs><radialGradient id="g14" cx="0.5" cy="0.5" r="0.5"><stop offset="0" stop-color="#ececec"/><stop offset="0.5" stop-color="#f0f0f0"/><stop offset="0.82" stop-color="#f6f6f6"/><stop offset="1" stop-color="#ffffff" stop-opacity="0"/></radialGradient></defs>
<ellipse cx="590" cy="352" rx="66" ry="76" fill="url(#g14)"/>
<path d="M636.3,394.3L575.0,373.3M636.3,394.3L626.2,347.5M636.3,394.3L588.8,385.2M636.3,394.3L607.7,356.6M636.3,394.3L615.9,358.6M636.3,394.3L590.3,394.5M553.6,292.7L626.2,347.5M553.6,292.7L583.3,374.5M553.6,292.7L622.1,330.3M553.6,292.7L588.9,386.1M553.6,292.7L597.2,376.9M553.6,292.7L605.3,373.5M583.2,411.1L630.4,331.3M583.2,411.1L607.1,331.8M583.2,411.1L583.3,374.5M583.2,411.1L574.8,360.9M583.2,411.1L593.1,372.6M583.2,411.1L579.0,329.6M584.2,285.1L562.2,394.1M584.2,285.1L567.5,324.9M584.2,285.1L593.9,321.6M584.2,285.1L580.7,403.8M584.2,285.1L624.0,341.9M584.2,285.1L546.5,349.4M570.8,416.0L593.9,321.6M570.8,416.0L630.4,331.3M570.8,416.0L566.8,316.6M570.8,416.0L583.3,374.5M570.8,416.0L619.0,362.0M570.8,416.0L546.5,349.4M541.9,394.0L583.3,374.5M541.9,394.0L588.8,369.5M541.9,394.0L607.7,356.6M541.9,394.0L607.7,356.6M541.9,394.0L556.8,365.1M541.9,394.0L605.3,373.5M627.7,391.9L574.8,360.9M627.7,391.9L593.9,321.6M627.7,391.9L588.8,369.5M627.7,391.9L562.8,358.2M627.7,391.9L567.5,324.9M627.7,391.9L570.3,377.2M633.5,316.3L597.2,376.9M633.5,316.3L593.9,321.6M633.5,316.3L586.7,389.3M633.5,316.3L622.1,330.3M633.5,316.3L556.0,336.2M633.5,316.3L562.2,394.1M586.0,421.9L630.4,331.3M586.0,421.9L574.8,360.9M586.0,421.9L567.5,324.9M586.0,421.9L626.2,347.5M586.0,421.9L574.8,360.9M586.0,421.9L562.8,358.2M556.2,309.6L586.7,389.3M556.2,309.6L605.3,373.5M556.2,309.6L626.3,369.1M556.2,309.6L588.8,385.2M556.2,309.6L570.3,377.2M556.2,309.6L559.2,385.1M534.5,330.7L592.1,318.9M534.5,330.7L567.5,324.9M534.5,330.7L605.3,373.5M534.5,330.7L587.2,331.3M534.5,330.7L546.5,349.4M534.5,330.7L605.3,373.5M619.7,409.7L562.2,394.1M619.7,409.7L607.7,356.6M619.7,409.7L628.7,335.1M619.7,409.7L546.5,349.4M619.7,409.7L592.1,318.9M619.7,409.7L570.3,377.2M628.0,394.7L626.2,347.5M628.0,394.7L546.5,349.4M628.0,394.7L580.7,403.8M628.0,394.7L593.1,372.6M628.0,394.7L619.0,362.0M628.0,394.7L615.9,358.6M634.1,381.3L567.5,324.9M634.1,381.3L592.1,318.9M634.1,381.3L626.3,369.1M634.1,381.3L593.9,321.6M634.1,381.3L588.8,385.2M634.1,381.3L593.1,372.6M643.7,343.4L628.7,335.1M643.7,343.4L626.2,347.5M643.7,343.4L626.2,347.5M643.7,343.4L612.3,337.3M643.7,343.4L602.1,395.4M643.7,343.4L593.1,372.6M644.7,348.2L592.1,318.9M644.7,348.2L605.3,373.5M644.7,348.2L575.0,373.3M644.7,348.2L626.3,369.1M644.7,348.2L602.1,395.4M644.7,348.2L587.2,331.3M541.7,307.4L556.0,336.2M541.7,307.4L588.8,369.5M541.7,307.4L562.8,358.2M541.7,307.4L579.0,329.6M541.7,307.4L570.4,318.0M541.7,307.4L622.1,330.3M570.9,299.6L615.9,358.6M570.9,299.6L612.3,337.3M570.9,299.6L622.1,335.8M570.9,299.6L593.1,372.6M570.9,299.6L597.2,376.9M570.9,299.6L624.0,341.9M540.9,316.6L587.2,331.3M540.9,316.6L622.1,330.3M540.9,316.6L570.4,318.0M540.9,316.6L615.9,358.6M540.9,316.6L607.1,331.8M540.9,316.6L615.9,358.6M610.6,403.3L562.2,394.1M610.6,403.3L567.5,324.9M610.6,403.3L622.1,330.3M610.6,403.3L579.0,329.6M610.6,403.3L602.1,395.4M610.6,403.3L593.9,321.6M629.5,306.3L602.1,395.4M629.5,306.3L612.3,337.3M629.5,306.3L597.2,376.9M629.5,306.3L567.5,324.9M629.5,306.3L556.0,336.2M629.5,306.3L566.8,316.6M609.0,411.4L626.2,347.5M609.0,411.4L597.2,376.9M609.0,411.4L630.4,331.3M609.0,411.4L628.7,335.1M609.0,411.4L622.1,330.3M609.0,411.4L556.8,365.1M602.1,420.5L630.4,331.3M602.1,420.5L587.2,331.3M602.1,420.5L626.3,369.1M602.1,420.5L588.8,369.5M602.1,420.5L612.3,337.3M602.1,420.5L588.8,369.5M540.8,351.8L546.5,349.4M540.8,351.8L619.0,362.0M540.8,351.8L588.8,369.5M540.8,351.8L562.8,358.2M540.8,351.8L562.2,394.1M540.8,351.8L588.8,385.2M610.3,300.7L607.7,356.6M610.3,300.7L583.3,374.5M610.3,300.7L588.9,386.1M610.3,300.7L622.1,330.3M610.3,300.7L624.0,341.9M610.3,300.7L590.3,394.5M580.8,406.2L622.1,330.3M580.8,406.2L592.1,318.9M580.8,406.2L592.1,318.9M580.8,406.2L607.7,356.6M580.8,406.2L566.8,316.6M580.8,406.2L628.7,335.1M587.0,295.2L605.3,373.5M587.0,295.2L593.9,321.6M587.0,295.2L626.3,369.1M587.0,295.2L574.8,360.9M587.0,295.2L607.7,356.6M587.0,295.2L605.3,373.5M541.6,342.9L607.7,356.6M541.6,342.9L574.8,360.9M541.6,342.9L626.3,369.1M541.6,342.9L626.2,347.5M541.6,342.9L570.4,318.0M541.6,342.9L546.5,349.4M531.6,360.3L615.9,358.6M531.6,360.3L630.4,331.3M531.6,360.3L570.4,318.0M531.6,360.3L556.0,336.2M531.6,360.3L570.4,318.0M531.6,360.3L570.4,318.0M536.3,338.2L630.4,331.3M536.3,338.2L605.3,373.5M536.3,338.2L592.1,318.9M536.3,338.2L570.4,318.0M536.3,338.2L580.7,403.8M536.3,338.2L597.2,376.9M535.5,358.0L602.1,395.4M535.5,358.0L587.2,331.3M535.5,358.0L607.7,356.6M535.5,358.0L580.7,403.8M535.5,358.0L580.7,403.8M535.5,358.0L619.0,362.0M549.5,320.1L630.4,331.3M549.5,320.1L628.7,335.1M549.5,320.1L628.7,335.1M549.5,320.1L575.0,373.3M549.5,320.1L597.2,376.9M549.5,320.1L587.2,331.3M539.2,361.4L619.0,362.0M539.2,361.4L587.2,331.3M539.2,361.4L590.8,404.9M539.2,361.4L605.3,373.5M539.2,361.4L566.8,316.6M539.2,361.4L626.2,347.5M631.8,297.7L602.1,395.4M631.8,297.7L607.7,356.6M631.8,297.7L566.8,316.6M631.8,297.7L562.8,358.2M631.8,297.7L624.0,341.9M631.8,297.7L590.3,394.5M635.6,375.3L593.1,372.6M635.6,375.3L587.2,331.3M635.6,375.3L575.0,373.3M635.6,375.3L588.8,369.5M635.6,375.3L588.9,386.1M635.6,375.3L570.4,318.0M573.6,289.2L574.8,360.9M573.6,289.2L590.8,404.9M573.6,289.2L583.3,374.5M573.6,289.2L615.9,358.6M573.6,289.2L570.4,318.0M573.6,289.2L605.3,373.5M648.7,360.2L592.1,318.9M648.7,360.2L546.5,349.4M648.7,360.2L570.4,318.0M648.7,360.2L575.0,373.3M648.7,360.2L588.8,369.5M648.7,360.2L566.8,316.6M641.2,330.3L590.3,394.5M641.2,330.3L624.0,341.9M641.2,330.3L588.8,385.2M641.2,330.3L615.9,358.6M641.2,330.3L612.3,337.3M641.2,330.3L626.2,347.5M557.3,405.6L588.8,385.2M557.3,405.6L562.8,358.2M557.3,405.6L587.2,331.3M557.3,405.6L592.1,318.9M557.3,405.6L619.0,362.0M557.3,405.6L588.8,385.2M638.1,329.7L607.1,331.8M638.1,329.7L619.0,362.0M638.1,329.7L570.4,318.0M638.1,329.7L559.2,385.1M638.1,329.7L622.1,330.3M638.1,329.7L546.5,349.4M593.9,321.6L556.0,336.2M590.3,394.5L607.7,356.6M570.3,377.2L546.5,349.4M566.8,316.6L615.9,358.6M556.0,336.2L607.1,331.8M556.0,336.2L556.8,365.1M570.3,377.2L607.7,356.6M628.7,335.1L628.7,335.1M583.3,374.5L592.1,318.9M622.1,330.3L588.9,386.1M624.0,341.9L619.0,362.0M546.5,349.4L628.7,335.1M562.8,358.2L597.2,376.9M628.7,335.1L615.9,358.6M624.0,341.9L612.3,337.3M583.3,374.5L619.0,362.0M559.2,385.1L566.8,316.6M624.0,341.9L579.0,329.6M574.8,360.9L546.5,349.4M615.9,358.6L579.0,329.6M607.1,331.8L593.1,372.6M556.0,336.2L570.3,377.2M592.1,318.9L566.8,316.6M630.4,331.3L622.1,330.3M607.7,356.6L579.0,329.6M556.8,365.1L567.5,324.9M587.2,331.3L570.4,318.0M590.8,404.9L588.8,385.2M590.8,404.9L593.9,321.6M570.4,318.0L590.8,404.9M570.4,318.0L626.2,347.5M583.3,374.5L562.8,358.2M626.2,347.5L546.5,349.4M590.3,394.5L592.1,318.9M574.8,360.9L570.3,377.2M574.8,360.9L579.0,329.6M605.3,373.5L605.3,373.5M583.3,374.5L556.8,365.1M586.7,389.3L546.5,349.4M626.2,347.5L593.9,321.6M580.7,403.8L566.8,316.6M626.3,369.1L586.7,389.3M556.0,336.2L562.2,394.1M587.2,331.3L559.2,385.1M593.1,372.6L562.8,358.2M602.1,395.4L605.3,373.5M586.7,389.3L587.2,331.3M570.3,377.2L605.3,373.5M624.0,341.9L602.1,395.4M612.3,337.3L567.5,324.9M597.2,376.9L593.9,321.6M607.7,356.6L579.0,329.6M579.0,329.6L615.9,358.6M628.7,335.1L587.2,331.3M567.5,324.9L615.9,358.6M597.2,376.9L559.2,385.1M612.3,337.3L626.3,369.1M592.1,318.9L612.3,337.3M605.3,373.5L588.9,386.1M556.0,336.2L593.9,321.6M597.2,376.9L588.9,386.1M590.8,404.9L590.8,404.9M626.2,347.5L566.8,316.6M556.0,336.2L567.5,324.9M575.0,373.3L580.7,403.8M619.0,362.0L583.3,374.5M628.7,335.1L619.0,362.0M559.2,385.1L607.1,331.8M615.9,358.6L562.8,358.2M562.8,358.2L586.7,389.3M626.3,369.1L559.2,385.1M622.1,335.8L559.2,385.1M622.1,335.8L567.5,324.9M570.4,318.0L587.2,331.3M567.5,324.9L615.9,358.6M567.5,324.9L575.0,373.3M588.8,385.2L592.1,318.9M622.1,335.8L626.3,369.1M583.3,374.5L597.2,376.9M575.0,373.3L622.1,330.3M590.8,404.9L567.5,324.9M588.9,386.1L570.4,318.0M592.1,318.9L593.1,372.6M590.8,404.9L612.3,337.3M546.5,349.4L593.9,321.6M624.0,341.9L587.2,331.3M559.2,385.1L592.1,318.9M579.0,329.6L556.0,336.2M566.8,316.6L612.3,337.3M622.1,335.8L579.0,329.6M628.7,335.1L624.0,341.9M587.2,331.3L590.3,394.5M588.9,386.1L580.7,403.8M605.3,373.5L562.8,358.2M579.0,329.6L612.3,337.3M612.3,337.3L630.4,331.3M562.2,394.1L588.8,385.2M590.8,404.9L593.9,321.6M588.8,385.2L570.4,318.0M562.8,358.2L583.3,374.5M615.9,358.6L588.8,369.5M588.9,386.1L570.4,318.0M566.8,316.6L546.5,349.4M567.5,324.9L619.0,362.0M567.5,324.9L615.9,358.6M562.8,358.2L626.2,347.5M562.2,394.1L590.3,394.5M562.8,358.2L626.3,369.1M579.0,329.6L605.3,373.5M605.3,373.5L586.7,389.3M597.2,376.9L562.8,358.2M556.8,365.1L592.1,318.9M607.7,356.6L597.2,376.9M570.4,318.0L605.3,373.5M556.8,365.1L592.1,318.9M622.1,330.3L607.7,356.6M588.8,369.5L626.2,347.5M626.3,369.1L622.1,330.3M566.8,316.6L624.0,341.9M619.0,362.0L593.9,321.6M574.8,360.9L546.5,349.4M588.9,386.1L626.3,369.1M574.8,360.9L607.7,356.6M605.3,373.5L607.7,356.6M605.3,373.5L605.3,373.5M562.8,358.2L607.7,356.6M562.8,358.2L580.7,403.8M593.9,321.6L628.7,335.1M622.1,330.3L556.0,336.2M575.0,373.3L590.8,404.9M579.0,329.6L593.1,372.6M615.9,358.6L624.0,341.9M619.0,362.0L593.9,321.6M619.0,362.0L593.9,321.6M619.0,362.0L597.2,376.9M562.8,358.2L619.0,362.0M622.1,330.3L570.3,377.2M587.2,331.3L580.7,403.8M575.0,373.3L574.8,360.9M587.2,331.3L624.0,341.9" stroke="#d4d4d4" stroke-width="0.35" stroke-opacity="0.4" fill="none"/>
<circle cx="636.3" cy="394.3" r="1.6" fill="#e4e4e4"/>
<circle cx="553.6" cy="292.7" r="2.8" fill="#e4e4e4"/>
<circle cx="583.2" cy="411.1" r="3.3" fill="#e4e4e4"/>
<circle cx="584.2" cy="285.1" r="2.1" fill="#e4e4e4"/>
<circle cx="570.8" cy="416.0" r="2.2" fill="#e4e4e4"/>
<circle cx="541.9" cy="394.0" r="2.8" fill="#e4e4e4"/>
<circle cx="627.7" cy="391.9" r="1.9" fill="#e4e4e4"/>
<circle cx="633.5" cy="316.3" r="2.1" fill="#e4e4e4"/>
<circle cx="586.0" cy="421.9" r="2.7" fill="#e4e4e4"/>
<circle cx="556.2" cy="309.6" r="2.5" fill="#e4e4e4"/>
<circle cx="534.5" cy="330.7" r="1.9" fill="#e4e4e4"/>
<circle cx="619.7" cy="409.7" r="2.0" fill="#e4e4e4"/>
<circle cx="628.0" cy="394.7" r="2.5" fill="#e4e4e4"/>
<circle cx="634.1" cy="381.3" r="3.2" fill="#e4e4e4"/>
<circle cx="643.7" cy="343.4" r="2.0" fill="#e4e4e4"/>
<circle cx="644.7" cy="348.2" r="2.8" fill="#e4e4e4"/>
<circle cx="541.7" cy="307.4" r="2.6" fill="#e4e4e4"/>
<circle cx="570.9" cy="299.6" r="2.1" fill="#e4e4e4"/>
<circle cx="540.9" cy="316.6" r="2.3" fill="#e4e4e4"/>
<circle cx="610.6" cy="403.3" r="3.1" fill="#e4e4e4"/>
<circle cx="629.5" cy="306.3" r="1.8" fill="#e4e4e4"/>
<circle cx="609.0" cy="411.4" r="2.6" fill="#e4e4e4"/>
<circle cx="602.1" cy="420.5" r="2.5" fill="#e4e4e4"/>
<circle cx="540.8" cy="351.8" r="1.8" fill="#e4e4e4"/>
<circle cx="610.3" cy="300.7" r="2.3" fill="#e4e4e4"/>
<circle cx="580.8" cy="406.2" r="1.9" fill="#e4e4e4"/>
<circle cx="587.0" cy="295.2" r="2.3" fill="#e4e4e4"/>
<circle cx="541.6" cy="342.9" r="1.7" fill="#e4e4e4"/>
<circle cx="531.6" cy="360.3" r="2.6" fill="#e4e4e4"/>
<circle cx="536.3" cy="338.2" r="3.0" fill="#e4e4e4"/>
<circle cx="535.5" cy="358.0" r="3.2" fill="#e4e4e4"/>
<circle cx="549.5" cy="320.1" r="3.3" fill="#e4e4e4"/>
<circle cx="539.2" cy="361.4" r="2.1" fill="#e4e4e4"/>
<circle cx="631.8" cy="297.7" r="3.0" fill="#e4e4e4"/>
<circle cx="635.6" cy="375.3" r="2.2" fill="#e4e4e4"/>
<circle cx="573.6" cy="289.2" r="2.9" fill="#e4e4e4"/>
<circle cx="648.7" cy="360.2" r="2.4" fill="#e4e4e4"/>
<circle cx="641.2" cy="330.3" r="2.9" fill="#e4e4e4"/>
<circle cx="557.3" cy="405.6" r="2.3" fill="#e4e4e4"/>
<circle cx="638.1" cy="329.7" r="3.3" fill="#e4e4e4"/>
<circle cx="583.3" cy="374.5" r="2.4" fill="#e4e4e4"/>
<circle cx="567.5" cy="324.9" r="3.0" fill="#e4e4e4"/>
<circle cx="588.9" cy="386.1" r="1.9" fill="#e4e4e4"/>
<circle cx="615.9" cy="358.6" r="2.9" fill="#e4e4e4"/>
<circle cx="626.2" cy="347.5" r="2.0" fill="#e4e4e4"/>
<circle cx="580.7" cy="403.8" r="2.3" fill="#e4e4e4"/>
<circle cx="575.0" cy="373.3" r="2.3" fill="#e4e4e4"/>
<circle cx="607.7" cy="356.6" r="2.8" fill="#e4e4e4"/>
<circle cx="597.2" cy="376.9" r="2.6" fill="#e4e4e4"/>
<circle cx="607.1" cy="331.8" r="2.1" fill="#e4e4e4"/>
<circle cx="590.3" cy="394.5" r="3.3" fill="#e4e4e4"/>
<circle cx="612.3" cy="337.3" r="1.7" fill="#e4e4e4"/>
<circle cx="592.1" cy="318.9" r="2.5" fill="#e4e4e4"/>
<circle cx="556.0" cy="336.2" r="1.8" fill="#e4e4e4"/>
<circle cx="628.7" cy="335.1" r="1.8" fill="#e4e4e4"/>
<circle cx="546.5" cy="349.4" r="2.0" fill="#e4e4e4"/>
<circle cx="570.3" cy="377.2" r="3.3" fill="#e4e4e4"/>
<circle cx="624.0" cy="341.9" r="1.6" fill="#e4e4e4"/>
<circle cx="593.9" cy="321.6" r="2.9" fill="#e4e4e4"/>
<circle cx="622.1" cy="330.3" r="2.6" fill="#e4e4e4"/>
<circle cx="590.8" cy="404.9" r="3.1" fill="#e4e4e4"/>
<circle cx="562.8" cy="358.2" r="3.1" fill="#e4e4e4"/>
<circle cx="588.8" cy="369.5" r="1.8" fill="#e4e4e4"/>
<circle cx="602.1" cy="395.4" r="3.3" fill="#e4e4e4"/>
<circle cx="605.3" cy="373.5" r="1.9" fill="#e4e4e4"/>
<circle cx="556.8" cy="365.1" r="1.8" fill="#e4e4e4"/>
<circle cx="559.2" cy="385.1" r="2.0" fill="#e4e4e4"/>
<circle cx="588.8" cy="385.2" r="2.9" fill="#e4e4e4"/>
<circle cx="574.8" cy="360.9" r="2.6" fill="#e4e4e4"/>
<circle cx="593.1" cy="372.6" r="2.8" fill="#e4e4e4"/>
<circle cx="587.2" cy="331.3" r="2.0" fill="#e4e4e4"/>
<circle cx="579.0" cy="329.6" r="2.5" fill="#e4e4e4"/>
<circle cx="566.8" cy="316.6" r="2.2" fill="#e4e4e4"/>
<circle cx="562.2" cy="394.1" r="3.3" fill="#e4e4e4"/>
<circle cx="570.4" cy="318.0" r="2.6" fill="#e4e4e4"/>
<circle cx="619.0" cy="362.0" r="2.9" fill="#e4e4e4"/>
<circle cx="586.7" cy="389.3" r="2.4" fill="#e4e4e4"/>
<circle cx="630.4" cy="331.3" r="1.8" fill="#e4e4e4"/>
<circle cx="626.3" cy="369.1" r="1.8" fill="#e4e4e4"/>
<circle cx="622.1" cy="335.8" r="2.0" fill="#e4e4e4"/>
<g>
<path d="M118.0,313.5 Q124.1,335.0 132.1,355.9" fill="none" stroke="#f52525" stroke-width="0.7" stroke-opacity="0.8"/>
<path d="M118.0,313.5 Q123.2,335.3 132.1,355.9" fill="none" stroke="#f52525" stroke-width="0.7" stroke-opacity="0.8"/>
<path d="M118.0,313.5 Q108.2,338.6 103.0,365.0" fill="none" stroke="#f52525" stroke-width="0.7" stroke-opacity="0.8"/>
<path d="M118.0,313.5 Q107.1,338.3 103.0,365.0" fill="none" stroke="#f52525" stroke-width="0.7" stroke-opacity="0.8"/>
<path d="M123.8,323.0 Q126.1,339.9 132.1,355.9" fill="none" stroke="#f52525" stroke-width="0.7" stroke-opacity="0.8"/>
<path d="M123.8,323.0 Q124.7,340.3 132.1,355.9" fill="none" stroke="#f52525" stroke-width="0.7" stroke-opacity="0.8"/>
<path d="M123.8,323.0 Q116.8,345.7 103.0,365.0" fill="none" stroke="#f52525" stroke-width="0.7" stroke-opacity="0.8"/>
<path d="M123.8,323.0 Q113.6,344.1 103.0,365.0" fill="none" stroke="#f52525" stroke-width="0.7" stroke-opacity="0.8"/>
<path d="M117.2,325.3 Q121.5,342.2 132.1,355.9" fill="none" stroke="#f52525" stroke-width="0.7" stroke-opacity="0.8"/>
<path d="M117.2,325.3 Q123.6,341.1 132.1,355.9" fill="none" stroke="#f52525" stroke-width="0.7" stroke-opacity="0.8"/>
<path d="M117.2,325.3 Q107.1,344.1 103.0,365.0" fill="none" stroke="#f52525" stroke-width="0.7" stroke-opacity="0.8"/>
<path d="M117.2,325.3 Q113.0,346.2 103.0,365.0" fill="none" stroke="#f52525" stroke-width="0.7" stroke-opacity="0.8"/>
<path d="M110.2,329.3 Q121.3,342.4 132.1,355.9" fill="none" stroke="#f52525" stroke-width="0.7" stroke-opacity="0.8"/>
<path d="M110.2,329.3 Q122.7,341.3 132.1,355.9" fill="none" stroke="#f52525" stroke-width="0.7" stroke-opacity="0.8"/>
<path d="M110.2,329.3 Q106.3,347.1 103.0,365.0" fill="none" stroke="#f52525" stroke-width="0.7" stroke-opacity="0.8"/>
<path d="M110.2,329.3 Q106.0,347.0 103.0,365.0" fill="none" stroke="#f52525" stroke-width="0.7" stroke-opacity="0.8"/>
<path d="M112.0,308.8 Q125.6,330.8 132.1,355.9" fill="none" stroke="#f52525" stroke-width="0.7" stroke-opacity="0.8"/>
<path d="M112.0,308.8 Q124.1,331.5 132.1,355.9" fill="none" stroke="#f52525" stroke-width="0.7" stroke-opacity="0.8"/>
<path d="M112.0,308.8 Q109.2,337.2 103.0,365.0" fill="none" stroke="#f52525" stroke-width="0.7" stroke-opacity="0.8"/>
<path d="M112.0,308.8 Q104.2,336.4 103.0,365.0" fill="none" stroke="#f52525" stroke-width="0.7" stroke-opacity="0.8"/>
<path d="M100.5,314.2 Q114.6,336.3 132.1,355.9" fill="none" stroke="#f52525" stroke-width="0.7" stroke-opacity="0.8"/>
<path d="M100.5,314.2 Q118.5,333.4 132.1,355.9" fill="none" stroke="#f52525" stroke-width="0.7" stroke-opacity="0.8"/>
<path d="M100.5,314.2 Q99.4,339.7 103.0,365.0" fill="none" stroke="#f52525" stroke-width="0.7" stroke-opacity="0.8"/>
<path d="M100.5,314.2 Q104.6,339.5 103.0,365.0" fill="none" stroke="#f52525" stroke-width="0.7" stroke-opacity="0.8"/>
<path d="M123.8,338.4 Q127.1,347.6 132.1,355.9" fill="none" stroke="#f52525" stroke-width="0.7" stroke-opacity="0.8"/>
<path d="M123.8,338.4 Q115.8,353.5 103.0,365.0" fill="none" stroke="#f52525" stroke-width="0.7" stroke-opacity="0.8"/>
<path d="M107.6,343.0 Q121.7,345.9 132.1,355.9" fill="none" stroke="#f52525" stroke-width="0.7" stroke-opacity="0.8"/>
<path d="M107.6,343.0 Q102.4,353.4 103.0,365.0" fill="none" stroke="#f52525" stroke-width="0.7" stroke-opacity="0.8"/>
<path d="M100.5,314.2 Q109.1,310.9 118.0,313.5" fill="none" stroke="#f04545" stroke-width="0.8" stroke-opacity="0.9"/>
<path d="M91.0,325.4 Q101.0,325.4 110.2,329.3" fill="none" stroke="#f04545" stroke-width="0.8" stroke-opacity="0.9"/>
<path d="M91.0,325.4 Q102.5,314.9 118.0,313.5" fill="none" stroke="#f04545" stroke-width="0.8" stroke-opacity="0.9"/>
<path d="M100.5,314.2 Q107.7,321.4 117.2,325.3" fill="none" stroke="#f04545" stroke-width="0.8" stroke-opacity="0.9"/>
<path d="M91.0,325.4 Q91.3,346.9 103.0,365.0" fill="none" stroke="#f04545" stroke-width="0.8" stroke-opacity="0.9"/>
<path d="M134.3,310.0 Q140.2,333.3 132.1,355.9" fill="none" stroke="#f04545" stroke-width="0.8" stroke-opacity="0.9"/>
<path d="M103.0,365.0 Q115.8,354.7 132.1,355.9" fill="none" stroke="#f04545" stroke-width="0.8" stroke-opacity="0.9"/>
<path d="M83.0,306.8 Q89.8,314.9 91.0,325.4" fill="none" stroke="#f04545" stroke-width="0.8" stroke-opacity="0.9"/>
<path d="M118.0,313.5 Q125.7,309.8 134.3,310.0" fill="none" stroke="#f04545" stroke-width="0.8" stroke-opacity="0.9"/>
<path d="M112.0,308.8 Q116.4,317.2 123.8,323.0" fill="none" stroke="#f04545" stroke-width="0.8" stroke-opacity="0.9"/>
<path d="M118.0,313.5 Q112.3,320.5 110.2,329.3" fill="none" stroke="#f04545" stroke-width="0.8" stroke-opacity="0.9"/>
<path d="M123.8,323.0 Q117.4,327.1 110.2,329.3" fill="none" stroke="#f04545" stroke-width="0.8" stroke-opacity="0.9"/>
<path d="M100.5,314.2 Q102.8,323.4 110.2,329.3" fill="none" stroke="#f04545" stroke-width="0.8" stroke-opacity="0.9"/>
<path d="M142.3,331.8 Q134.4,342.7 132.1,355.9" fill="none" stroke="#f04545" stroke-width="0.8" stroke-opacity="0.9"/>
<path d="M52.0,292.6 Q50.2,299.2 53.4,305.2" fill="none" stroke="#f04545" stroke-width="1.0" stroke-opacity="0.9"/>
<path d="M97.00,283.00 C98.17,283.50 102.33,284.77 104.00,286.00 C105.67,287.23 106.08,288.73 107.00,290.40 C107.92,292.07 109.00,294.20 109.50,296.00 C110.00,297.80 109.92,300.33 110.00,301.20" fill="none" stroke="#f04545" stroke-width="1.0" stroke-opacity="0.9" stroke-linecap="round"/>
<path d="M36.7,319.7 Q36.4,326.0 32.3,330.9" fill="none" stroke="#3a3ab8" stroke-width="1.0" stroke-opacity="0.95"/>
<path d="M33.4,364.8 Q39.4,367.2 45.3,364.6" fill="none" stroke="#3a3ab8" stroke-width="1.0" stroke-opacity="0.95"/>
<path d="M75.0,340.8 Q80.2,330.2 91.0,325.4" fill="none" stroke="#3a3ab8" stroke-width="1.0" stroke-opacity="0.95"/>
<path d="M69.5,322.7 Q79.9,327.0 91.0,325.4" fill="none" stroke="#3a3ab8" stroke-width="1.0" stroke-opacity="0.95"/>
<path d="M128.0,331.0 Q135.3,328.4 142.3,331.8" fill="none" stroke="#3a3ab8" stroke-width="1.0" stroke-opacity="0.95"/>
<path d="M77.5,377.5 Q83.2,373.4 89.0,377.3" fill="none" stroke="#f04545" stroke-width="0.9" stroke-opacity="0.9"/>
<path d="M108.4,380.5 Q114.7,380.9 119.4,385.0" fill="none" stroke="#f04545" stroke-width="0.9" stroke-opacity="0.9"/>
<path d="M36.30,337.60 C35.58,338.50 32.65,340.70 32.00,343.00 C31.35,345.30 30.82,348.90 32.40,351.40 C33.98,353.90 38.23,356.23 41.50,358.00 C44.77,359.77 48.80,360.57 52.00,362.00 C55.20,363.43 59.20,364.60 60.70,366.60 C62.20,368.60 61.13,371.47 61.00,374.00 C60.87,376.53 59.90,378.97 59.90,381.80 C59.90,384.63 60.45,388.30 61.00,391.00 C61.55,393.70 62.83,396.83 63.20,398.00" fill="none" stroke="#f04545" stroke-width="1.0" stroke-opacity="0.9" stroke-linecap="round"/>
<path d="M41.50,358.00 C42.42,357.17 45.10,353.93 47.00,353.00 C48.90,352.07 51.57,351.57 52.90,352.40 C54.23,353.23 53.70,355.63 55.00,358.00 C56.30,360.37 59.75,365.17 60.70,366.60" fill="none" stroke="#f04545" stroke-width="0.9" stroke-opacity="0.85" stroke-linecap="round"/>
<path d="M60.70,366.60 C61.75,365.67 64.93,362.85 67.00,361.00 C69.07,359.15 72.08,356.42 73.10,355.50" fill="none" stroke="#f04545" stroke-width="0.9" stroke-opacity="0.85" stroke-linecap="round"/>
<path d="M59.90,381.80 C60.92,382.83 63.30,386.02 66.00,388.00 C68.70,389.98 74.43,391.20 76.10,393.70 C77.77,396.20 76.00,399.80 76.00,403.00 C76.00,406.20 76.08,411.25 76.10,412.90" fill="none" stroke="#f04545" stroke-width="0.9" stroke-opacity="0.85" stroke-linecap="round"/>
<path d="M63.20,398.00 C64.33,397.83 67.85,397.72 70.00,397.00 C72.15,396.28 74.43,395.53 76.10,393.70 C77.77,391.87 78.68,387.78 80.00,386.00 C81.32,384.22 82.02,383.67 84.00,383.00 C85.98,382.33 90.58,382.17 91.90,382.00" fill="none" stroke="#f04545" stroke-width="0.9" stroke-opacity="0.85" stroke-linecap="round"/>
<path d="M75.40,383.70 C76.50,384.08 79.57,384.95 82.00,386.00 C84.43,387.05 87.65,388.43 90.00,390.00 C92.35,391.57 94.27,393.57 96.10,395.40 C97.93,397.23 99.00,399.40 101.00,401.00 C103.00,402.60 106.92,404.33 108.10,405.00" fill="none" stroke="#f04545" stroke-width="0.9" stroke-opacity="0.85" stroke-linecap="round"/>
<path d="M76.10,393.70 C75.75,392.25 74.12,386.67 74.00,385.00 C73.88,383.33 75.17,383.92 75.40,383.70" fill="none" stroke="#f04545" stroke-width="0.8" stroke-opacity="0.85" stroke-linecap="round"/>
<circle cx="36.3" cy="337.6" r="1.5" fill="#f06262"/>
<circle cx="32.4" cy="351.4" r="1.3" fill="#f06262"/>
<circle cx="41.5" cy="358.0" r="1.3" fill="#f06262"/>
<circle cx="52.9" cy="352.4" r="1.3" fill="#f06262"/>
<circle cx="73.1" cy="355.5" r="1.6" fill="#f06262"/>
<circle cx="59.9" cy="381.8" r="1.5" fill="#f06262"/>
<circle cx="75.4" cy="383.7" r="1.2" fill="#f06262"/>
<circle cx="91.9" cy="382.0" r="1.3" fill="#f06262"/>
<circle cx="76.1" cy="393.7" r="1.2" fill="#f06262"/>
<circle cx="63.2" cy="398.0" r="1.6" fill="#f06262"/>
<circle cx="96.1" cy="395.4" r="1.5" fill="#f06262"/>
<circle cx="108.1" cy="405.0" r="1.2" fill="#f06262"/>
<circle cx="76.1" cy="412.9" r="1.2" fill="#f06262"/>
<circle cx="52.0" cy="292.6" r="3" fill="#6fee6f"/>
<circle cx="53.4" cy="305.2" r="2.8" fill="#6fee6f"/>
<circle cx="97.0" cy="283.0" r="1.6" fill="#b8ee58"/>
<circle cx="107.0" cy="290.4" r="2.1" fill="#b8ee58"/>
<circle cx="110.0" cy="301.2" r="2.8" fill="#b8ee58"/>
<circle cx="83.0" cy="306.8" r="3.2" fill="#f5e27a"/>
<circle cx="112.0" cy="308.8" r="2.8" fill="#f8c57a"/>
<circle cx="134.3" cy="310.0" r="2.1" fill="#f8c57a"/>
<circle cx="142.3" cy="331.8" r="2.5" fill="#f8c57a"/>
<circle cx="123.8" cy="338.4" r="2.4" fill="#f8c57a"/>
<circle cx="107.6" cy="343.0" r="2.4" fill="#f8c57a"/>
<circle cx="118.0" cy="313.5" r="3.2" fill="#f7a215" stroke="#a0a0a0" stroke-width="0.6"/>
<circle cx="123.8" cy="323.0" r="3.2" fill="#f7a215" stroke="#a0a0a0" stroke-width="0.6"/>
<circle cx="117.2" cy="325.3" r="3" fill="#f7a215" stroke="#a0a0a0" stroke-width="0.6"/>
<circle cx="110.2" cy="329.3" r="3" fill="#f7a215" stroke="#a0a0a0" stroke-width="0.6"/>
<circle cx="132.1" cy="355.9" r="3" fill="#f7a215" stroke="#a0a0a0" stroke-width="0.6"/>
<circle cx="103.0" cy="365.0" r="2.8" fill="#f7a215" stroke="#a0a0a0" stroke-width="0.6"/>
<circle cx="100.5" cy="314.2" r="2.5" fill="#f2e24a" stroke="#b8b8b8" stroke-width="0.6"/>
<circle cx="91.0" cy="325.4" r="2.8" fill="#f2e24a" stroke="#b8b8b8" stroke-width="0.6"/>
<circle cx="69.5" cy="322.7" r="2.4" fill="#f5e27a"/>
<circle cx="75.0" cy="340.8" r="3" fill="#f5e27a"/>
<circle cx="36.7" cy="319.7" r="1.8" fill="#b8ee58"/>
<circle cx="32.3" cy="330.9" r="2.5" fill="#b8ee58"/>
<circle cx="33.4" cy="364.8" r="2.2" fill="#6fe9f5"/>
<circle cx="45.3" cy="364.6" r="2" fill="#6fe9f5"/>
<circle cx="77.5" cy="377.5" r="2.4" fill="#6ab8f2"/>
<circle cx="89.0" cy="377.3" r="2.4" fill="#6ab8f2"/>
<circle cx="108.4" cy="380.5" r="2.6" fill="#6fedbd"/>
<circle cx="119.4" cy="385.0" r="2.5" fill="#6fedbd"/>
</g>
<g transform="translate(322,-16) scale(1.06)">
<path d="M118.0,313.5 Q124.1,335.0 132.1,355.9" fill="none" stroke="#f52525" stroke-width="0.7" stroke-opacity="0.8"/>
<path d="M118.0,313.5 Q123.2,335.3 132.1,355.9" fill="none" stroke="#f52525" stroke-width="0.7" stroke-opacity="0.8"/>
<path d="M118.0,313.5 Q108.2,338.6 103.0,365.0" fill="none" stroke="#f52525" stroke-width="0.7" stroke-opacity="0.8"/>
<path d="M118.0,313.5 Q107.1,338.3 103.0,365.0" fill="none" stroke="#f52525" stroke-width="0.7" stroke-opacity="0.8"/>
<path d="M123.8,323.0 Q126.1,339.9 132.1,355.9" fill="none" stroke="#f52525" stroke-width="0.7" stroke-opacity="0.8"/>
<path d="M123.8,323.0 Q124.7,340.3 132.1,355.9" fill="none" stroke="#f52525" stroke-width="0.7" stroke-opacity="0.8"/>
<path d="M123.8,323.0 Q116.8,345.7 103.0,365.0" fill="none" stroke="#f52525" stroke-width="0.7" stroke-opacity="0.8"/>
<path d="M123.8,323.0 Q113.6,344.1 103.0,365.0" fill="none" stroke="#f52525" stroke-width="0.7" stroke-opacity="0.8"/>
<path d="M117.2,325.3 Q121.5,342.2 132.1,355.9" fill="none" stroke="#f52525" stroke-width="0.7" stroke-opacity="0.8"/>
<path d="M117.2,325.3 Q123.6,341.1 132.1,355.9" fill="none" stroke="#f52525" stroke-width="0.7" stroke-opacity="0.8"/>
<path d="M117.2,325.3 Q107.1,344.1 103.0,365.0" fill="none" stroke="#f52525" stroke-width="0.7" stroke-opacity="0.8"/>
<path d="M117.2,325.3 Q113.0,346.2 103.0,365.0" fill="none" stroke="#f52525" stroke-width="0.7" stroke-opacity="0.8"/>
<path d="M110.2,329.3 Q121.3,342.4 132.1,355.9" fill="none" stroke="#f52525" stroke-width="0.7" stroke-opacity="0.8"/>
<path d="M110.2,329.3 Q122.7,341.3 132.1,355.9" fill="none" stroke="#f52525" stroke-width="0.7" stroke-opacity="0.8"/>
<path d="M110.2,329.3 Q106.3,347.1 103.0,365.0" fill="none" stroke="#f52525" stroke-width="0.7" stroke-opacity="0.8"/>
<path d="M110.2,329.3 Q106.0,347.0 103.0,365.0" fill="none" stroke="#f52525" stroke-width="0.7" stroke-opacity="0.8"/>
<path d="M112.0,308.8 Q125.6,330.8 132.1,355.9" fill="none" stroke="#f52525" stroke-width="0.7" stroke-opacity="0.8"/>
<path d="M112.0,308.8 Q124.1,331.5 132.1,355.9" fill="none" stroke="#f52525" stroke-width="0.7" stroke-opacity="0.8"/>
<path d="M112.0,308.8 Q109.2,337.2 103.0,365.0" fill="none" stroke="#f52525" stroke-width="0.7" stroke-opacity="0.8"/>
<path d="M112.0,308.8 Q104.2,336.4 103.0,365.0" fill="none" stroke="#f52525" stroke-width="0.7" stroke-opacity="0.8"/>
<path d="M100.5,314.2 Q114.6,336.3 132.1,355.9" fill="none" stroke="#f52525" stroke-width="0.7" stroke-opacity="0.8"/>
<path d="M100.5,314.2 Q118.5,333.4 132.1,355.9" fill="none" stroke="#f52525" stroke-width="0.7" stroke-opacity="0.8"/>
<path d="M100.5,314.2 Q99.4,339.7 103.0,365.0" fill="none" stroke="#f52525" stroke-width="0.7" stroke-opacity="0.8"/>
<path d="M100.5,314.2 Q104.6,339.5 103.0,365.0" fill="none" stroke="#f52525" stroke-width="0.7" stroke-opacity="0.8"/>
<path d="M123.8,338.4 Q127.1,347.6 132.1,355.9" fill="none" stroke="#f52525" stroke-width="0.7" stroke-opacity="0.8"/>
<path d="M123.8,338.4 Q115.8,353.5 103.0,365.0" fill="none" stroke="#f52525" stroke-width="0.7" stroke-opacity="0.8"/>
<path d="M107.6,343.0 Q121.7,345.9 132.1,355.9" fill="none" stroke="#f52525" stroke-width="0.7" stroke-opacity="0.8"/>
<path d="M107.6,343.0 Q102.4,353.4 103.0,365.0" fill="none" stroke="#f52525" stroke-width="0.7" stroke-opacity="0.8"/>
<path d="M100.5,314.2 Q109.1,310.9 118.0,313.5" fill="none" stroke="#f04545" stroke-width="0.8" stroke-opacity="0.9"/>
<path d="M91.0,325.4 Q101.0,325.4 110.2,329.3" fill="none" stroke="#f04545" stroke-width="0.8" stroke-opacity="0.9"/>
<path d="M91.0,325.4 Q102.5,314.9 118.0,313.5" fill="none" stroke="#f04545" stroke-width="0.8" stroke-opacity="0.9"/>
<path d="M100.5,314.2 Q107.7,321.4 117.2,325.3" fill="none" stroke="#f04545" stroke-width="0.8" stroke-opacity="0.9"/>
<path d="M91.0,325.4 Q91.3,346.9 103.0,365.0" fill="none" stroke="#f04545" stroke-width="0.8" stroke-opacity="0.9"/>
<path d="M134.3,310.0 Q140.2,333.3 132.1,355.9" fill="none" stroke="#f04545" stroke-width="0.8" stroke-opacity="0.9"/>
<path d="M103.0,365.0 Q115.8,354.7 132.1,355.9" fill="none" stroke="#f04545" stroke-width="0.8" stroke-opacity="0.9"/>
<path d="M83.0,306.8 Q89.8,314.9 91.0,325.4" fill="none" stroke="#f04545" stroke-width="0.8" stroke-opacity="0.9"/>
<path d="M118.0,313.5 Q125.7,309.8 134.3,310.0" fill="none" stroke="#f04545" stroke-width="0.8" stroke-opacity="0.9"/>
<path d="M112.0,308.8 Q116.4,317.2 123.8,323.0" fill="none" stroke="#f04545" stroke-width="0.8" stroke-opacity="0.9"/>
<path d="M118.0,313.5 Q112.3,320.5 110.2,329.3" fill="none" stroke="#f04545" stroke-width="0.8" stroke-opacity="0.9"/>
<path d="M123.8,323.0 Q117.4,327.1 110.2,329.3" fill="none" stroke="#f04545" stroke-width="0.8" stroke-opacity="0.9"/>
<path d="M100.5,314.2 Q102.8,323.4 110.2,329.3" fill="none" stroke="#f04545" stroke-width="0.8" stroke-opacity="0.9"/>
<path d="M142.3,331.8 Q134.4,342.7 132.1,355.9" fill="none" stroke="#f04545" stroke-width="0.8" stroke-opacity="0.9"/>
<path d="M52.0,292.6 Q50.2,299.2 53.4,305.2" fill="none" stroke="#f04545" stroke-width="1.0" stroke-opacity="0.9"/>
<path d="M97.00,283.00 C98.17,283.50 102.33,284.77 104.00,286.00 C105.67,287.23 106.08,288.73 107.00,290.40 C107.92,292.07 109.00,294.20 109.50,296.00 C110.00,297.80 109.92,300.33 110.00,301.20" fill="none" stroke="#f04545" stroke-width="1.0" stroke-opacity="0.9" stroke-linecap="round"/>
<path d="M36.7,319.7 Q36.4,326.0 32.3,330.9" fill="none" stroke="#3a3ab8" stroke-width="1.0" stroke-opacity="0.95"/>
<path d="M33.4,364.8 Q39.4,367.2 45.3,364.6" fill="none" stroke="#3a3ab8" stroke-width="1.0" stroke-opacity="0.95"/>
<path d="M75.0,340.8 Q80.2,330.2 91.0,325.4" fill="none" stroke="#3a3ab8" stroke-width="1.0" stroke-opacity="0.95"/>
<path d="M69.5,322.7 Q79.9,327.0 91.0,325.4" fill="none" stroke="#3a3ab8" stroke-width="1.0" stroke-opacity="0.95"/>
<path d="M128.0,331.0 Q135.3,328.4 142.3,331.8" fill="none" stroke="#3a3ab8" stroke-width="1.0" stroke-opacity="0.95"/>
<path d="M77.5,377.5 Q83.2,373.4 89.0,377.3" fill="none" stroke="#f04545" stroke-width="0.9" stroke-opacity="0.9"/>
<path d="M108.4,380.5 Q114.7,380.9 119.4,385.0" fill="none" stroke="#f04545" stroke-width="0.9" stroke-opacity="0.9"/>
<path d="M36.30,337.60 C35.58,338.50 32.65,340.70 32.00,343.00 C31.35,345.30 30.82,348.90 32.40,351.40 C33.98,353.90 38.23,356.23 41.50,358.00 C44.77,359.77 48.80,360.57 52.00,362.00 C55.20,363.43 59.20,364.60 60.70,366.60 C62.20,368.60 61.13,371.47 61.00,374.00 C60.87,376.53 59.90,378.97 59.90,381.80 C59.90,384.63 60.45,388.30 61.00,391.00 C61.55,393.70 62.83,396.83 63.20,398.00" fill="none" stroke="#f04545" stroke-width="1.0" stroke-opacity="0.9" stroke-linecap="round"/>
<path d="M41.50,358.00 C42.42,357.17 45.10,353.93 47.00,353.00 C48.90,352.07 51.57,351.57 52.90,352.40 C54.23,353.23 53.70,355.63 55.00,358.00 C56.30,360.37 59.75,365.17 60.70,366.60" fill="none" stroke="#f04545" stroke-width="0.9" stroke-opacity="0.85" stroke-linecap="round"/>
<path d="M60.70,366.60 C61.75,365.67 64.93,362.85 67.00,361.00 C69.07,359.15 72.08,356.42 73.10,355.50" fill="none" stroke="#f04545" stroke-width="0.9" stroke-opacity="0.85" stroke-linecap="round"/>
<path d="M59.90,381.80 C60.92,382.83 63.30,386.02 66.00,388.00 C68.70,389.98 74.43,391.20 76.10,393.70 C77.77,396.20 76.00,399.80 76.00,403.00 C76.00,406.20 76.08,411.25 76.10,412.90" fill="none" stroke="#f04545" stroke-width="0.9" stroke-opacity="0.85" stroke-linecap="round"/>
<path d="M63.20,398.00 C64.33,397.83 67.85,397.72 70.00,397.00 C72.15,396.28 74.43,395.53 76.10,393.70 C77.77,391.87 78.68,387.78 80.00,386.00 C81.32,384.22 82.02,383.67 84.00,383.00 C85.98,382.33 90.58,382.17 91.90,382.00" fill="none" stroke="#f04545" stroke-width="0.9" stroke-opacity="0.85" stroke-linecap="round"/>
<path d="M75.40,383.70 C76.50,384.08 79.57,384.95 82.00,386.00 C84.43,387.05 87.65,388.43 90.00,390.00 C92.35,391.57 94.27,393.57 96.10,395.40 C97.93,397.23 99.00,399.40 101.00,401.00 C103.00,402.60 106.92,404.33 108.10,405.00" fill="none" stroke="#f04545" stroke-width="0.9" stroke-opacity="0.85" stroke-linecap="round"/>
<path d="M76.10,393.70 C75.75,392.25 74.12,386.67 74.00,385.00 C73.88,383.33 75.17,383.92 75.40,383.70" fill="none" stroke="#f04545" stroke-width="0.8" stroke-opacity="0.85" stroke-linecap="round"/>
<circle cx="36.3" cy="337.6" r="1.5" fill="#f06262"/>
<circle cx="32.4" cy="351.4" r="1.3" fill="#f06262"/>
<circle cx="41.5" cy="358.0" r="1.3" fill="#f06262"/>
<circle cx="52.9" cy="352.4" r="1.3" fill="#f06262"/>
<circle cx="73.1" cy="355.5" r="1.6" fill="#f06262"/>
<circle cx="59.9" cy="381.8" r="1.5" fill="#f06262"/>
<circle cx="75.4" cy="383.7" r="1.2" fill="#f06262"/>
<circle cx="91.9" cy="382.0" r="1.3" fill="#f06262"/>
<circle cx="76.1" cy="393.7" r="1.2" fill="#f06262"/>
<circle cx="63.2" cy="398.0" r="1.6" fill="#f06262"/>
<circle cx="96.1" cy="395.4" r="1.5" fill="#f06262"/>
<circle cx="108.1" cy="405.0" r="1.2" fill="#f06262"/>
<circle cx="76.1" cy="412.9" r="1.2" fill="#f06262"/>
<circle cx="52.0" cy="292.6" r="3" fill="#6fee6f"/>
<circle cx="53.4" cy="305.2" r="2.8" fill="#6fee6f"/>
<circle cx="97.0" cy="283.0" r="1.6" fill="#b8ee58"/>
<circle cx="107.0" cy="290.4" r="2.1" fill="#b8ee58"/>
<circle cx="110.0" cy="301.2" r="2.8" fill="#b8ee58"/>
<circle cx="83.0" cy="306.8" r="3.2" fill="#f5e27a"/>
<circle cx="112.0" cy="308.8" r="2.8" fill="#f8c57a"/>
<circle cx="134.3" cy="310.0" r="2.1" fill="#f8c57a"/>
<circle cx="142.3" cy="331.8" r="2.5" fill="#f8c57a"/>
<circle cx="123.8" cy="338.4" r="2.4" fill="#f8c57a"/>
<circle cx="107.6" cy="343.0" r="2.4" fill="#f8c57a"/>
<circle cx="118.0" cy="313.5" r="3.2" fill="#f7a215" stroke="#a0a0a0" stroke-width="0.6"/>
<circle cx="123.8" cy="323.0" r="3.2" fill="#f7a215" stroke="#a0a0a0" stroke-width="0.6"/>
<circle cx="117.2" cy="325.3" r="3" fill="#f7a215" stroke="#a0a0a0" stroke-width="0.6"/>
<circle cx="110.2" cy="329.3" r="3" fill="#f7a215" stroke="#a0a0a0" stroke-width="0.6"/>
<circle cx="132.1" cy="355.9" r="3" fill="#f7a215" stroke="#a0a0a0" stroke-width="0.6"/>
<circle cx="103.0" cy="365.0" r="2.8" fill="#f7a215" stroke="#a0a0a0" stroke-width="0.6"/>
<circle cx="100.5" cy="314.2" r="2.5" fill="#f2e24a" stroke="#b8b8b8" stroke-width="0.6"/>
<circle cx="91.0" cy="325.4" r="2.8" fill="#f2e24a" stroke="#b8b8b8" stroke-width="0.6"/>
<circle cx="69.5" cy="322.7" r="2.4" fill="#f5e27a"/>
<circle cx="75.0" cy="340.8" r="3" fill="#f5e27a"/>
<circle cx="36.7" cy="319.7" r="1.8" fill="#b8ee58"/>
<circle cx="32.3" cy="330.9" r="2.5" fill="#b8ee58"/>
<circle cx="33.4" cy="364.8" r="2.2" fill="#6fe9f5"/>
<circle cx="45.3" cy="364.6" r="2" fill="#6fe9f5"/>
<circle cx="77.5" cy="377.5" r="2.4" fill="#6ab8f2"/>
<circle cx="89.0" cy="377.3" r="2.4" fill="#6ab8f2"/>
<circle cx="108.4" cy="380.5" r="2.6" fill="#6fedbd"/>
<circle cx="119.4" cy="385.0" r="2.5" fill="#6fedbd"/>
</g>
<text x="62.5" y="312.0" font-size="6" font-style="italic" fill="#2b2b9a" textLength="49.2" lengthAdjust="spacingAndGlyphs" stroke="#2b2b9a" stroke-width="0.22">Clostridium butyricum</text>
<text x="119.3" y="310.9" font-size="6.6" font-style="italic" fill="#2b2b9a" textLength="45.7" lengthAdjust="spacingAndGlyphs" stroke="#2b2b9a" stroke-width="0.23">Flavonifractor plautii</text>
<text x="35.5" y="321.9" font-size="6.2" font-style="italic" fill="#2b2b9a" textLength="73.2" lengthAdjust="spacingAndGlyphs" stroke="#2b2b9a" stroke-width="0.22">Erysipelatoclostridium ramosum</text>
<text x="119.7" y="320.4" font-size="4.6" font-style="italic" fill="#2b2b9a" textLength="55.0" lengthAdjust="spacingAndGlyphs" stroke="#2b2b9a" stroke-width="0.19">Ruthenibacterium lactatiformans</text>
<text x="53.3" y="334.7" font-size="8" font-style="italic" fill="#2b2b9a" textLength="61.3" lengthAdjust="spacingAndGlyphs" stroke="#2b2b9a" stroke-width="0.26">Hungatella hathewayi</text>
<text x="120.1" y="330.6" font-size="8.6" font-style="italic" fill="#2b2b9a" textLength="72.2" lengthAdjust="spacingAndGlyphs" stroke="#2b2b9a" stroke-width="0.27">Enterocloster bolteae</text>
<text x="106.1" y="354.0" font-size="7" font-style="italic" fill="#2b2b9a" textLength="58.9" lengthAdjust="spacingAndGlyphs" stroke="#2b2b9a" stroke-width="0.24">Clostridium symbiosum</text>
<text x="50.4" y="361.7" font-size="6.4" font-style="italic" fill="#2b2b9a" textLength="56.3" lengthAdjust="spacingAndGlyphs" stroke="#2b2b9a" stroke-width="0.23">Enterocloster aldenensis</text>
<text x="388.3" y="315.0" font-size="4.8" font-style="italic" fill="#2b2b9a" textLength="36.0" lengthAdjust="spacingAndGlyphs" stroke="#2b2b9a" stroke-width="0.10">Clostridium butyricum</text>
<text x="448.0" y="313.6" font-size="6.6" font-style="italic" fill="#2b2b9a" textLength="45.9" lengthAdjust="spacingAndGlyphs" stroke="#2b2b9a" stroke-width="0.10">Flavonifractor plautii</text>
<text x="366.5" y="326.3" font-size="6.4" font-style="italic" fill="#2b2b9a" textLength="72.7" lengthAdjust="spacingAndGlyphs" stroke="#2b2b9a" stroke-width="0.10">Erysipelatoclostridium ramosum</text>
<text x="448.0" y="324.2" font-size="6" font-style="italic" fill="#2b2b9a" textLength="74.0" lengthAdjust="spacingAndGlyphs" stroke="#2b2b9a" stroke-width="0.10">Ruthenibacterium lactatiformans</text>
<text x="378.4" y="339.7" font-size="8" font-style="italic" fill="#2b2b9a" textLength="57.1" lengthAdjust="spacingAndGlyphs" stroke="#2b2b9a" stroke-width="0.10">Hungatella hathewayi</text>
<text x="448.9" y="337.6" font-size="9.4" font-style="italic" fill="#2b2b9a" textLength="72.7" lengthAdjust="spacingAndGlyphs" stroke="#2b2b9a" stroke-width="0.10">Enterocloster bolteae</text>
<text x="433.7" y="359.5" font-size="8" font-style="italic" fill="#2b2b9a" textLength="66.5" lengthAdjust="spacingAndGlyphs" stroke="#2b2b9a" stroke-width="0.10">Clostridium symbiosum</text>
<text x="389.0" y="367.5" font-size="6.8" font-style="italic" fill="#2b2b9a" textLength="56.4" lengthAdjust="spacingAndGlyphs" stroke="#2b2b9a" stroke-width="0.10">Enterocloster aldenensis</text>
<text x="243.0" y="303.0" font-size="3.0" fill="#a8a8a8" textLength="28.0" lengthAdjust="spacingAndGlyphs">Eisenbergiella_tayi</text>
<text x="198.0" y="322.5" font-size="3.0" fill="#a8a8a8" textLength="25.0" lengthAdjust="spacingAndGlyphs">Enterocloster_citroniae</text>
<text x="226.0" y="343.5" font-size="3.0" fill="#a8a8a8" textLength="28.0" lengthAdjust="spacingAndGlyphs">Ruminococcaceae_bacterium</text>
<text x="252.0" y="349.5" font-size="3.0" fill="#a8a8a8" textLength="31.0" lengthAdjust="spacingAndGlyphs">Oscillibacter_valericigenes</text>
<text x="201.0" y="357.5" font-size="3.0" fill="#a8a8a8" textLength="20.0" lengthAdjust="spacingAndGlyphs">Blautia_producta</text>
<text x="227.0" y="408.0" font-size="3.0" fill="#a8a8a8" textLength="25.0" lengthAdjust="spacingAndGlyphs">Roseburia_intestinalis</text>
<text x="237.0" y="339.5" font-size="3.0" fill="#a8a8a8" textLength="22.0" lengthAdjust="spacingAndGlyphs">Oscillibacter_sp</text>
<path d="M227.7,310.0 Q236.7,316.3 239.0,327.0" fill="none" stroke="#3a3ab8" stroke-width="1.1" stroke-opacity="0.95"/>
<path d="M252.4,318.5 Q246.8,324.4 239.0,327.0" fill="none" stroke="#3a3ab8" stroke-width="1.1" stroke-opacity="0.95"/>
<path d="M209.2,347.5 Q214.3,340.7 222.6,339.0" fill="none" stroke="#3a3ab8" stroke-width="1.1" stroke-opacity="0.95"/>
<path d="M222.6,339.0 Q229.0,330.6 239.0,327.0" fill="none" stroke="#f04545" stroke-width="1.0" stroke-opacity="0.9"/>
<path d="M239.0,327.0 Q250.5,333.6 263.8,334.4" fill="none" stroke="#3a3ab8" stroke-width="1.1" stroke-opacity="0.95"/>
<path d="M252.4,318.5 Q254.8,328.8 263.8,334.4" fill="none" stroke="#f04545" stroke-width="1.0" stroke-opacity="0.9"/>
<path d="M263.8,334.4 Q268.5,325.8 277.4,321.5" fill="none" stroke="#f04545" stroke-width="0.9" stroke-opacity="0.85"/>
<path d="M277.4,321.5 Q282.7,324.8 284.9,330.6" fill="none" stroke="#f04545" stroke-width="0.9" stroke-opacity="0.85"/>
<path d="M263.8,334.4 Q273.4,341.0 284.9,339.8" fill="none" stroke="#f04545" stroke-width="0.9" stroke-opacity="0.85"/>
<path d="M277.4,321.5 Q284.7,336.0 276.0,349.8" fill="none" stroke="#f04545" stroke-width="0.9" stroke-opacity="0.85"/>
<path d="M284.9,330.6 Q295.5,329.2 304.0,335.6" fill="none" stroke="#f04545" stroke-width="0.9" stroke-opacity="0.85"/>
<path d="M284.9,339.8 Q295.1,340.6 304.0,335.6" fill="none" stroke="#f04545" stroke-width="0.9" stroke-opacity="0.85"/>
<path d="M263.8,334.4 Q267.5,344.0 276.0,349.8" fill="none" stroke="#f04545" stroke-width="0.9" stroke-opacity="0.85"/>
<path d="M263.8,334.4 Q256.4,344.3 252.6,356.0" fill="none" stroke="#f04545" stroke-width="0.9" stroke-opacity="0.85"/>
<path d="M276.0,349.8 Q281.9,346.1 284.9,339.8" fill="none" stroke="#f04545" stroke-width="0.9" stroke-opacity="0.85"/>
<path d="M277.4,321.5 Q294.0,322.4 304.0,335.6" fill="none" stroke="#f04545" stroke-width="0.9" stroke-opacity="0.85"/>
<path d="M258.6,296.0 Q261.8,302.8 262.0,310.3" fill="none" stroke="#f04545" stroke-width="0.9" stroke-opacity="0.9"/>
<path d="M293.3,300.0 Q300.8,302.0 304.7,308.8" fill="none" stroke="#f04545" stroke-width="0.9" stroke-opacity="0.9"/>
<path d="M237.5,356.7 Q240.2,362.1 245.7,364.6" fill="none" stroke="#f04545" stroke-width="0.9" stroke-opacity="0.9"/>
<path d="M256.6,364.2 Q261.5,371.7 270.1,374.5" fill="none" stroke="#f04545" stroke-width="0.9" stroke-opacity="0.9"/>
<path d="M297.6,364.2 Q293.7,371.8 285.8,375.0" fill="none" stroke="#f04545" stroke-width="0.9" stroke-opacity="0.9"/>
<path d="M270.1,374.5 Q278.0,371.8 285.8,375.0" fill="none" stroke="#f04545" stroke-width="0.9" stroke-opacity="0.9"/>
<path d="M270.10,374.50 C270.75,375.42 272.80,377.30 274.00,380.00 C275.20,382.70 276.75,388.92 277.30,390.70" fill="none" stroke="#f04545" stroke-width="0.9" stroke-opacity="0.9" stroke-linecap="round"/>
<path d="M285.80,375.00 C284.83,376.17 281.42,379.38 280.00,382.00 C278.58,384.62 277.75,389.25 277.30,390.70" fill="none" stroke="#f04545" stroke-width="0.9" stroke-opacity="0.9" stroke-linecap="round"/>
<path d="M277.30,390.70 C277.02,392.25 275.85,396.92 275.60,400.00 C275.35,403.08 275.77,407.67 275.80,409.20" fill="none" stroke="#f04545" stroke-width="0.9" stroke-opacity="0.9" stroke-linecap="round"/>
<path d="M189.70,373.70 C190.92,374.42 194.42,377.25 197.00,378.00 C199.58,378.75 202.70,377.70 205.20,378.20 C207.70,378.70 209.88,379.53 212.00,381.00 C214.12,382.47 216.40,384.83 217.90,387.00 C219.40,389.17 220.28,391.35 221.00,394.00 C221.72,396.65 222.00,401.42 222.20,402.90" fill="none" stroke="#f04545" stroke-width="0.9" stroke-opacity="0.9" stroke-linecap="round"/>
<path d="M227.9,382.5 Q232.7,386.5 238.9,386.7" fill="none" stroke="#3a3ab8" stroke-width="1.0" stroke-opacity="0.95"/>
<circle cx="227.7" cy="310.0" r="3.1" fill="#f07272"/>
<circle cx="239.0" cy="327.3" r="5" fill="#f07272"/>
<circle cx="252.4" cy="318.5" r="4" fill="#f07272"/>
<circle cx="222.6" cy="339.0" r="4" fill="#f07272"/>
<circle cx="209.2" cy="347.3" r="4" fill="#f07272"/>
<circle cx="263.8" cy="334.4" r="4.1" fill="#e3d41a" stroke="#aaaaaa" stroke-width="0.6"/>
<circle cx="277.4" cy="321.5" r="2.5" fill="#f5e25a"/>
<circle cx="284.9" cy="330.6" r="2.2" fill="#f5e25a"/>
<circle cx="284.9" cy="339.8" r="2.2" fill="#f5e25a"/>
<circle cx="276.0" cy="349.8" r="2.5" fill="#f5e25a"/>
<circle cx="252.6" cy="356.0" r="2.6" fill="#f5e25a"/>
<circle cx="304.0" cy="335.6" r="1.5" fill="#f5e25a"/>
<circle cx="258.6" cy="296.0" r="1.6" fill="#6fe9f5"/>
<circle cx="262.0" cy="310.3" r="1.2" fill="#6fe9f5"/>
<circle cx="293.3" cy="300.0" r="1.5" fill="#6fe9f5"/>
<circle cx="304.7" cy="308.8" r="2.6" fill="#6fe9f5"/>
<circle cx="237.5" cy="356.7" r="3.3" fill="#6fee6f"/>
<circle cx="245.7" cy="364.6" r="3.1" fill="#6fee6f"/>
<circle cx="256.6" cy="364.2" r="4" fill="#f8c57a"/>
<circle cx="297.6" cy="364.2" r="3.5" fill="#f8c57a"/>
<circle cx="270.1" cy="374.5" r="3.6" fill="#f8c57a"/>
<circle cx="285.8" cy="375.0" r="4" fill="#f8c57a"/>
<circle cx="277.3" cy="390.7" r="3.6" fill="#f8c57a"/>
<circle cx="275.8" cy="409.2" r="4" fill="#f8c57a"/>
<circle cx="189.7" cy="373.7" r="3" fill="#def56a"/>
<circle cx="205.2" cy="378.2" r="2.5" fill="#def56a"/>
<circle cx="217.9" cy="387.0" r="3" fill="#def56a"/>
<circle cx="222.2" cy="402.9" r="4" fill="#def56a"/>
<circle cx="227.9" cy="382.5" r="2.6" fill="#def56a"/>
<circle cx="238.9" cy="386.7" r="2" fill="#def56a"/>
<text x="240.2" y="337.6" font-size="7.4" font-style="italic" fill="#2b2b9a" textLength="79.9" lengthAdjust="spacingAndGlyphs" stroke="#2b2b9a" stroke-width="0.25">Oscillospiraceae SGB15216</text>
<text x="565.0" y="296.5" font-size="3.0" fill="#a8a8a8" textLength="24.0" lengthAdjust="spacingAndGlyphs">Clostridium_bolteae</text>
<text x="549.0" y="312.5" font-size="3.0" fill="#a8a8a8" textLength="24.0" lengthAdjust="spacingAndGlyphs">Hungatella_hathewayi</text>
<text x="590.0" y="312.5" font-size="3.0" fill="#a8a8a8" textLength="33.0" lengthAdjust="spacingAndGlyphs">Enterocloster_aldenensis</text>
<text x="524.0" y="319.5" font-size="3.0" fill="#a8a8a8" textLength="25.0" lengthAdjust="spacingAndGlyphs">Flavonifractor_plautii</text>
<text x="583.0" y="327.5" font-size="3.0" fill="#a8a8a8" textLength="37.0" lengthAdjust="spacingAndGlyphs">Ruthenibacterium_lactatiformans</text>
<text x="576.0" y="345.5" font-size="3.0" fill="#a8a8a8" textLength="30.0" lengthAdjust="spacingAndGlyphs">Clostridium_symbiosum</text>
<text x="653.0" y="341.0" font-size="3.0" fill="#a8a8a8" textLength="24.0" lengthAdjust="spacingAndGlyphs">Anaerostipes_hadrus</text>
<text x="651.0" y="351.5" font-size="3.0" fill="#a8a8a8" textLength="25.0" lengthAdjust="spacingAndGlyphs">Fusicatenibacter_saccharivorans</text>
<path d="M540.80,318.20 C542.33,317.83 546.77,317.13 550.00,316.00 C553.23,314.87 558.50,312.17 560.20,311.40" fill="none" stroke="#f04545" stroke-width="1.0" stroke-opacity="0.9" stroke-linecap="round"/>
<path d="M560.20,311.40 C560.33,309.50 559.40,302.75 561.00,300.00 C562.60,297.25 566.97,295.07 569.80,294.90 C572.63,294.73 576.10,296.60 578.00,299.00 C579.90,301.40 580.67,307.58 581.20,309.30" fill="none" stroke="#f04545" stroke-width="1.0" stroke-opacity="0.9" stroke-linecap="round"/>
<path d="M581.20,309.30 C582.67,309.92 586.67,312.80 590.00,313.00 C593.33,313.20 599.33,310.92 601.20,310.50" fill="none" stroke="#f04545" stroke-width="1.0" stroke-opacity="0.9" stroke-linecap="round"/>
<path d="M604.2,294.3 Q605.6,302.9 601.2,310.5" fill="none" stroke="#3a3ab8" stroke-width="1.1" stroke-opacity="0.95"/>
<path d="M556.9,343.4 Q566.1,342.4 572.8,335.9" fill="none" stroke="#f04545" stroke-width="1.0" stroke-opacity="0.9"/>
<path d="M521.30,328.70 C521.75,330.08 522.00,334.50 524.00,337.00 C526.00,339.50 530.47,341.53 533.30,343.70 C536.13,345.87 538.52,347.32 541.00,350.00 C543.48,352.68 546.37,356.80 548.20,359.80 C550.03,362.80 549.80,365.20 552.00,368.00 C554.20,370.80 558.07,375.10 561.40,376.60 C564.73,378.10 568.50,377.65 572.00,377.00 C575.50,376.35 580.67,373.42 582.40,372.70" fill="none" stroke="#f04545" stroke-width="1.0" stroke-opacity="0.9" stroke-linecap="round"/>
<path d="M561.40,376.60 C560.00,377.50 555.20,379.40 553.00,382.00 C550.80,384.60 549.00,390.50 548.20,392.20" fill="none" stroke="#f04545" stroke-width="1.0" stroke-opacity="0.9" stroke-linecap="round"/>
<path d="M606.30,375.70 C607.25,374.42 609.60,369.90 612.00,368.00 C614.40,366.10 618.03,365.97 620.70,364.30 C623.37,362.63 625.42,359.93 628.00,358.00 C630.58,356.07 633.37,354.70 636.20,352.70 C639.03,350.70 642.60,348.15 645.00,346.00 C647.40,343.85 649.67,340.83 650.60,339.80" fill="none" stroke="#f04545" stroke-width="1.0" stroke-opacity="0.9" stroke-linecap="round"/>
<path d="M596.10,385.30 C595.42,386.92 592.27,391.43 592.00,395.00 C591.73,398.57 594.08,404.75 594.50,406.70" fill="none" stroke="#3a3ab8" stroke-width="1.1" stroke-opacity="0.95" stroke-linecap="round"/>
<path d="M557.50,420.20 C558.92,419.67 562.88,417.45 566.00,417.00 C569.12,416.55 574.50,417.42 576.20,417.50" fill="none" stroke="#f04545" stroke-width="1.0" stroke-opacity="0.9" stroke-linecap="round"/>
<path d="M576.20,417.50 C577.83,416.92 582.95,415.80 586.00,414.00 C589.05,412.20 593.08,407.92 594.50,406.70" fill="none" stroke="#3a3ab8" stroke-width="1.1" stroke-opacity="0.95" stroke-linecap="round"/>
<path d="M594.50,406.70 C596.58,407.25 603.30,407.57 607.00,410.00 C610.70,412.43 615.08,419.42 616.70,421.30" fill="none" stroke="#f04545" stroke-width="1.0" stroke-opacity="0.9" stroke-linecap="round"/>
<path d="M616.70,421.30 C618.25,421.08 623.30,421.25 626.00,420.00 C628.70,418.75 631.75,414.83 632.90,413.80" fill="none" stroke="#3a3ab8" stroke-width="1.1" stroke-opacity="0.95" stroke-linecap="round"/>
<circle cx="569.8" cy="294.9" r="4" fill="#f8c57a"/>
<circle cx="604.2" cy="294.3" r="3.1" fill="#f8c57a"/>
<circle cx="560.2" cy="311.4" r="3.6" fill="#f8c57a"/>
<circle cx="581.2" cy="309.3" r="4.1" fill="#f8c57a"/>
<circle cx="601.2" cy="310.5" r="3.6" fill="#f8c57a"/>
<circle cx="540.8" cy="318.2" r="4.5" fill="#f8c57a"/>
<circle cx="556.9" cy="343.4" r="3.5" fill="#6fee6f"/>
<circle cx="572.8" cy="335.9" r="3" fill="#6fee6f"/>
<circle cx="521.3" cy="328.7" r="1.5" fill="#f06868"/>
<circle cx="533.3" cy="343.7" r="3" fill="#f06868"/>
<circle cx="548.2" cy="359.8" r="1.6" fill="#f06868"/>
<circle cx="561.4" cy="376.6" r="1.5" fill="#f06868"/>
<circle cx="582.4" cy="372.7" r="3" fill="#f06868"/>
<circle cx="548.2" cy="392.2" r="1.4" fill="#f06868"/>
<circle cx="650.6" cy="339.8" r="4" fill="#def56a"/>
<circle cx="636.2" cy="352.7" r="3" fill="#def56a"/>
<circle cx="620.7" cy="364.3" r="2.5" fill="#def56a"/>
<circle cx="606.3" cy="375.7" r="3" fill="#def56a"/>
<circle cx="596.1" cy="385.3" r="3" fill="#f8e56a"/>
<circle cx="594.5" cy="406.7" r="5" fill="#f8e56a"/>
<circle cx="576.2" cy="417.5" r="4" fill="#f8e56a"/>
<circle cx="557.5" cy="420.2" r="4" fill="#f8e56a"/>
<circle cx="616.7" cy="421.3" r="4" fill="#f8e56a"/>
<circle cx="632.9" cy="413.8" r="3.8" fill="#f8e56a"/>
<text x="31.4" y="270.4" font-size="10.2" fill="#111" textLength="120.4" lengthAdjust="spacingAndGlyphs" stroke="#111" stroke-width="0.12">Low polysorbate-80 exposure</text>
<text x="186.9" y="270.6" font-size="10.2" fill="#111" textLength="122.1" lengthAdjust="spacingAndGlyphs" stroke="#111" stroke-width="0.12">High polysorbate-80 exposure</text>
<text x="348.6" y="271.0" font-size="10.2" fill="#111" textLength="125.3" lengthAdjust="spacingAndGlyphs" stroke="#111" stroke-width="0.12">Low carrageenan exposure</text>
<text x="515.9" y="271.0" font-size="10.2" fill="#111" textLength="130.2" lengthAdjust="spacingAndGlyphs" stroke="#111" stroke-width="0.12">High carrageenan exposure</text>
<line x1="36.7" y1="452.5" x2="36.7" y2="568.3" stroke="#ebebeb" stroke-width="0.9"/>
<line x1="56.5" y1="452.5" x2="56.5" y2="568.3" stroke="#ebebeb" stroke-width="0.9"/>
<line x1="76.5" y1="452.5" x2="76.5" y2="568.3" stroke="#ebebeb" stroke-width="0.9"/>
<line x1="96.6" y1="452.5" x2="96.6" y2="568.3" stroke="#ebebeb" stroke-width="0.9"/>
<line x1="116.6" y1="452.5" x2="116.6" y2="568.3" stroke="#ebebeb" stroke-width="0.9"/>
<line x1="136.6" y1="452.5" x2="136.6" y2="568.3" stroke="#ebebeb" stroke-width="0.9"/>
<line x1="32.3" y1="461.4" x2="141.4" y2="461.4" stroke="#ebebeb" stroke-width="0.9"/>
<line x1="32.3" y1="479.0" x2="141.4" y2="479.0" stroke="#ebebeb" stroke-width="0.9"/>
<line x1="32.3" y1="497.2" x2="141.4" y2="497.2" stroke="#ebebeb" stroke-width="0.9"/>
<line x1="32.3" y1="515.0" x2="141.4" y2="515.0" stroke="#ebebeb" stroke-width="0.9"/>
<line x1="32.3" y1="533.1" x2="141.4" y2="533.1" stroke="#ebebeb" stroke-width="0.9"/>
<line x1="32.3" y1="551.1" x2="141.4" y2="551.1" stroke="#ebebeb" stroke-width="0.9"/>
<polygon points="44.0,462.1 44.5,462.2 45.0,462.3 45.5,462.3 46.0,462.4 46.5,462.4 47.0,462.5 47.5,462.5 48.0,462.6 48.5,462.6 49.0,462.6 49.5,462.7 50.0,462.7 50.5,462.7 51.0,462.8 51.5,462.8 52.0,462.9 52.5,462.9 53.0,462.9 53.5,462.9 54.0,463.0 54.5,463.0 55.0,463.0 55.5,463.1 56.0,463.1 56.5,463.1 57.0,463.1 57.5,463.2 58.0,463.3 58.5,463.4 59.0,463.5 59.5,463.6 60.0,463.7 60.5,463.8 61.0,463.8 61.5,463.9 62.0,464.0 62.5,464.1 63.0,464.2 63.5,464.3 64.0,464.3 64.5,464.4 65.0,464.5 65.5,464.6 66.0,464.7 66.5,464.7 67.0,464.8 67.5,464.9 68.0,465.0 68.5,465.0 69.0,465.1 69.5,465.2 70.0,465.3 70.5,465.3 71.0,465.4 71.5,465.5 72.0,465.6 72.5,465.6 73.0,465.7 73.5,465.8 74.0,465.9 74.5,465.9 75.0,466.0 75.5,466.1 76.0,466.2 76.5,466.2 77.0,466.3 77.5,466.4 78.0,466.6 78.5,466.7 79.0,466.9 79.5,467.0 80.0,467.2 80.5,467.3 81.0,467.5 81.5,467.6 82.0,467.8 82.5,467.9 83.0,468.1 83.5,468.2 84.0,468.4 84.5,468.5 85.0,468.7 85.5,468.8 86.0,469.0 86.5,469.1 87.0,469.3 87.5,469.4 88.0,469.6 88.5,469.7 89.0,469.9 89.5,470.0 90.0,470.1 90.5,470.3 91.0,470.4 91.5,470.6 92.0,470.7 92.5,470.9 93.0,471.0 93.5,471.1 94.0,471.3 94.5,471.4 95.0,471.6 95.5,471.7 96.0,471.9 96.5,472.0 97.0,472.1 97.5,472.4 98.0,472.6 98.5,472.8 99.0,473.1 99.5,473.3 100.0,473.6 100.5,473.8 101.0,474.1 101.5,474.3 102.0,474.5 102.5,474.8 103.0,475.0 103.5,475.3 104.0,475.5 104.5,475.7 105.0,476.0 105.5,476.2 106.0,476.5 106.5,476.7 107.0,476.9 107.5,477.3 108.0,477.8 108.5,478.3 109.0,478.8 109.5,479.3 110.0,479.8 110.5,480.3 111.0,480.8 111.5,481.3 112.0,481.7 112.5,482.2 113.0,482.7 113.5,483.2 114.0,483.7 114.5,484.2 115.0,484.7 115.5,485.2 116.0,485.6 116.5,486.1 117.0,486.6 117.5,487.2 118.0,487.8 118.5,488.5 119.0,489.1 119.5,489.8 120.0,490.4 120.5,491.1 121.0,491.7 121.5,492.4 122.0,493.0 122.5,493.7 123.0,494.3 123.5,495.0 124.0,495.6 124.5,496.3 125.0,496.9 125.5,497.6 126.0,498.2 126.5,498.8 127.0,499.5 127.5,500.2 128.0,501.0 128.5,501.8 129.0,502.5 129.5,503.3 130.0,504.1 130.5,504.9 131.0,505.7 131.5,506.5 132.0,507.3 132.5,508.1 133.0,508.9 133.5,509.6 134.0,510.4 134.5,511.2 135.0,512.0 135.5,512.8 136.0,513.6 136.5,514.4 136.5,546.8 136.0,545.8 135.5,544.8 135.0,543.8 134.5,542.8 134.0,541.8 133.5,540.8 133.0,539.8 132.5,538.8 132.0,537.8 131.5,536.8 131.0,535.7 130.5,534.7 130.0,533.7 129.5,532.7 129.0,531.7 128.5,530.7 128.0,529.7 127.5,528.7 127.0,527.9 126.5,527.0 126.0,526.2 125.5,525.3 125.0,524.4 124.5,523.6 124.0,522.7 123.5,521.9 123.0,521.0 122.5,520.2 122.0,519.3 121.5,518.5 121.0,517.6 120.5,516.8 120.0,515.9 119.5,515.0 119.0,514.2 118.5,513.3 118.0,512.5 117.5,511.6 117.0,510.9 116.5,510.2 116.0,509.5 115.5,508.8 115.0,508.1 114.5,507.4 114.0,506.8 113.5,506.1 113.0,505.4 112.5,504.7 112.0,504.0 111.5,503.3 111.0,502.6 110.5,502.0 110.0,501.3 109.5,500.6 109.0,499.9 108.5,499.2 108.0,498.5 107.5,497.8 107.0,497.3 106.5,496.8 106.0,496.4 105.5,496.0 105.0,495.5 104.5,495.1 104.0,494.7 103.5,494.2 103.0,493.8 102.5,493.4 102.0,493.0 101.5,492.5 101.0,492.1 100.5,491.7 100.0,491.2 99.5,490.8 99.0,490.4 98.5,490.0 98.0,489.5 97.5,489.1 97.0,488.7 96.5,488.4 96.0,488.1 95.5,487.7 95.0,487.4 94.5,487.1 94.0,486.8 93.5,486.4 93.0,486.1 92.5,485.8 92.0,485.5 91.5,485.2 91.0,484.8 90.5,484.5 90.0,484.2 89.5,483.9 89.0,483.6 88.5,483.2 88.0,482.9 87.5,482.6 87.0,482.3 86.5,482.0 86.0,481.7 85.5,481.3 85.0,481.0 84.5,480.7 84.0,480.4 83.5,480.1 83.0,479.8 82.5,479.4 82.0,479.1 81.5,478.8 81.0,478.5 80.5,478.2 80.0,477.9 79.5,477.6 79.0,477.2 78.5,476.9 78.0,476.6 77.5,476.3 77.0,476.0 76.5,475.8 76.0,475.5 75.5,475.3 75.0,475.1 74.5,474.9 74.0,474.6 73.5,474.4 73.0,474.2 72.5,474.0 72.0,473.7 71.5,473.5 71.0,473.3 70.5,473.1 70.0,472.8 69.5,472.6 69.0,472.4 68.5,472.2 68.0,471.9 67.5,471.7 67.0,471.5 66.5,471.3 66.0,471.1 65.5,470.8 65.0,470.6 64.5,470.4 64.0,470.2 63.5,470.0 63.0,469.8 62.5,469.5 62.0,469.3 61.5,469.1 61.0,468.9 60.5,468.7 60.0,468.5 59.5,468.2 59.0,468.0 58.5,467.8 58.0,467.6 57.5,467.4 57.0,467.2 56.5,467.0 56.0,466.9 55.5,466.8 55.0,466.6 54.5,466.5 54.0,466.3 53.5,466.2 53.0,466.1 52.5,465.9 52.0,465.8 51.5,465.6 51.0,465.5 50.5,465.4 50.0,465.2 49.5,465.1 49.0,465.0 48.5,464.9 48.0,464.7 47.5,464.6 47.0,464.5 46.5,464.4 46.0,464.2 45.5,464.1 45.0,464.0 44.5,463.9 44.0,463.8" fill="#f08a8a" fill-opacity="0.180"/>
<path d="M44.0,462.1V464.4M44.5,461.6V464.0M45.0,461.9V464.3M45.5,461.8V464.7M46.0,462.4V464.2M46.5,461.7V464.7M47.0,461.8V464.4M47.5,462.1V465.3M48.0,462.4V465.7M48.5,461.7V464.8M49.0,462.7V465.5M49.5,461.7V465.5M50.0,462.6V465.7M50.5,462.8V465.5M51.0,462.3V466.1M51.5,462.6V465.8M52.0,462.7V466.3M52.5,462.6V465.8M53.0,461.8V466.8M53.5,462.1V466.3M54.0,461.5V467.6M54.5,463.0V466.9M55.0,461.9V467.7M55.5,461.5V467.4M56.0,461.7V468.0M56.5,462.7V468.0M57.0,461.6V468.8M57.5,462.4V468.5M58.0,463.4V467.9M58.5,461.9V468.6M59.0,463.3V469.1M59.5,462.2V469.6M60.0,463.0V469.3M60.5,462.8V470.4M61.0,462.8V469.7M61.5,462.9V468.9M62.0,464.1V471.0M62.5,461.7V470.9M63.0,463.3V470.0M63.5,463.1V472.6M64.0,462.4V471.5M64.5,462.2V470.8M65.0,463.2V473.3M65.5,463.1V472.0M66.0,464.1V472.6M66.5,462.0V471.0M67.0,462.6V474.0M67.5,462.2V474.0M68.0,462.5V473.5M68.5,463.4V473.4M69.0,465.2V475.3M69.5,463.5V473.0M70.0,463.8V474.4M70.5,464.4V474.1M71.0,463.7V475.4M71.5,463.5V475.0M72.0,465.8V474.3M72.5,465.3V476.1M73.0,462.6V477.3M73.5,462.8V477.6M74.0,465.2V478.0M74.5,463.4V474.8M75.0,466.3V474.7M75.5,463.1V476.1M76.0,466.1V478.1M76.5,465.0V475.7M77.0,466.0V478.2M77.5,466.1V477.2M78.0,463.6V478.5M78.5,465.6V478.9M79.0,467.2V478.8M79.5,465.4V478.1M80.0,467.1V482.3M80.5,465.1V478.8M81.0,464.8V482.6M81.5,468.0V478.4M82.0,467.5V482.8M82.5,467.6V483.1M83.0,464.8V482.5M83.5,467.5V485.5M84.0,464.3V483.0M84.5,467.8V484.2M85.0,466.9V484.1M85.5,467.4V484.8M86.0,469.2V483.0M86.5,463.7V487.2M87.0,467.9V487.4M87.5,468.0V488.4M88.0,465.3V485.2M88.5,468.7V482.7M89.0,464.6V483.2M89.5,465.1V490.1M90.0,466.9V484.8M90.5,464.9V491.0M91.0,466.2V487.9M91.5,468.6V487.1M92.0,469.9V489.9M92.5,468.4V486.6M93.0,470.9V490.6M93.5,469.6V489.7M94.0,469.5V493.0M94.5,465.3V486.5M95.0,470.7V489.3M95.5,464.8V493.4M96.0,469.9V489.1M96.5,467.4V494.7M97.0,465.4V490.9M97.5,465.9V494.3M98.0,469.4V497.3M98.5,471.7V495.6M99.0,473.1V491.1M99.5,466.4V491.9M100.0,467.9V495.9M100.5,467.3V494.2M101.0,471.9V494.0M101.5,467.5V497.4M102.0,466.9V500.5M102.5,474.4V497.8M103.0,474.9V493.3M103.5,475.4V501.8M104.0,469.0V502.0M104.5,473.4V500.3M105.0,469.5V498.4M105.5,471.6V497.3M106.0,476.6V498.2M106.5,468.9V501.7M107.0,468.7V501.1M107.5,475.5V505.2M108.0,470.4V497.7M108.5,472.5V499.2M109.0,478.6V508.5M109.5,479.8V502.2M110.0,470.5V504.9M110.5,480.0V502.8M111.0,479.2V510.0M111.5,481.1V512.7M112.0,478.6V514.1M112.5,473.3V507.1M113.0,480.9V509.9M113.5,483.1V512.7M114.0,484.3V505.8M114.5,474.2V509.9M115.0,478.9V512.5M115.5,482.6V508.5M116.0,476.2V520.3M116.5,475.9V510.4M117.0,485.2V517.5M117.5,476.7V517.3M118.0,480.7V519.8M118.5,486.5V519.1M119.0,486.5V516.2M119.5,489.9V517.5M120.0,479.4V520.6M120.5,484.1V524.1M121.0,481.1V521.6M121.5,489.7V521.6M122.0,490.2V529.6M122.5,483.4V523.1M123.0,491.2V527.3M123.5,488.6V528.9M124.0,493.6V521.7M124.5,494.2V523.3M125.0,490.8V524.2M125.5,497.8V533.1M126.0,495.5V536.3M126.5,493.4V538.2M127.0,498.6V533.9M127.5,490.5V528.5M128.0,489.0V531.0M128.5,492.2V544.1M129.0,492.2V535.2M129.5,503.1V539.2M130.0,492.3V536.9M130.5,493.3V535.5M131.0,493.8V534.8M131.5,503.2V549.5M132.0,496.8V550.6M132.5,496.9V549.1M133.0,499.9V541.1M133.5,504.5V541.8M134.0,501.0V551.1M134.5,508.8V542.3M135.0,498.6V555.5M135.5,505.7V552.2M136.0,501.8V551.8M136.5,509.6V550.9" stroke="#f08a8a" stroke-width="0.5" stroke-opacity="0.180" fill="none"/>
<polygon points="70.0,473.7 70.5,473.8 71.0,473.9 71.5,474.0 72.0,474.1 72.5,474.2 73.0,474.2 73.5,474.3 74.0,474.4 74.5,474.5 75.0,474.6 75.5,474.6 76.0,474.7 76.5,474.8 77.0,474.9 77.5,475.0 78.0,475.0 78.5,475.1 79.0,475.2 79.5,475.3 80.0,475.3 80.5,475.4 81.0,475.5 81.5,475.6 82.0,475.6 82.5,475.7 83.0,475.8 83.5,475.8 84.0,475.9 84.5,476.0 85.0,476.1 85.5,476.1 86.0,476.2 86.5,476.3 87.0,476.3 87.5,476.4 88.0,476.5 88.5,476.5 89.0,476.6 89.5,476.7 90.0,476.7 90.5,476.8 91.0,476.9 91.5,476.9 92.0,477.0 92.5,477.1 93.0,477.1 93.5,477.2 94.0,477.3 94.5,477.3 95.0,477.4 95.5,477.5 96.0,477.5 96.5,477.6 97.0,477.7 97.5,477.8 98.0,478.0 98.5,478.3 99.0,478.5 99.5,478.7 100.0,478.9 100.5,479.1 101.0,479.3 101.5,479.5 102.0,479.7 102.5,479.9 103.0,480.1 103.5,480.3 104.0,480.5 104.5,480.7 105.0,480.9 105.5,481.1 106.0,481.4 106.5,481.6 107.0,481.8 107.5,482.0 108.0,482.2 108.5,482.4 109.0,482.6 109.5,482.9 110.0,483.2 110.5,483.5 111.0,483.8 111.5,484.1 112.0,484.4 112.5,484.7 113.0,485.0 113.5,485.3 114.0,485.6 114.5,486.0 115.0,486.3 115.5,486.6 116.0,486.9 116.5,487.2 117.0,487.5 117.5,487.8 118.0,488.0 118.5,488.3 119.0,488.6 119.5,488.9 120.0,489.2 120.5,489.5 121.0,489.7 121.5,490.0 122.0,490.3 122.5,490.6 123.0,490.9 123.5,491.2 124.0,491.4 124.5,491.7 125.0,492.0 125.5,492.3 126.0,492.6 126.5,492.8 127.0,493.1 127.5,493.4 128.0,493.7 128.5,493.9 129.0,494.2 129.5,494.5 130.0,494.7 130.5,495.0 131.0,495.3 131.5,495.5 132.0,495.8 132.5,496.1 133.0,496.3 133.5,496.6 134.0,496.9 134.5,497.2 135.0,497.4 135.5,497.7 136.0,498.0 136.5,498.2 136.5,513.0 136.0,512.7 135.5,512.3 135.0,511.9 134.5,511.5 134.0,511.1 133.5,510.7 133.0,510.3 132.5,509.9 132.0,509.5 131.5,509.1 131.0,508.7 130.5,508.3 130.0,507.9 129.5,507.5 129.0,507.1 128.5,506.7 128.0,506.3 127.5,506.0 127.0,505.5 126.5,505.1 126.0,504.7 125.5,504.3 125.0,503.9 124.5,503.5 124.0,503.1 123.5,502.7 123.0,502.3 122.5,501.9 122.0,501.5 121.5,501.1 121.0,500.7 120.5,500.3 120.0,499.9 119.5,499.5 119.0,499.1 118.5,498.7 118.0,498.3 117.5,497.9 117.0,497.5 116.5,497.1 116.0,496.7 115.5,496.3 115.0,495.8 114.5,495.4 114.0,495.0 113.5,494.6 113.0,494.2 112.5,493.7 112.0,493.3 111.5,492.9 111.0,492.5 110.5,492.1 110.0,491.7 109.5,491.3 109.0,490.8 108.5,490.5 108.0,490.2 107.5,489.9 107.0,489.6 106.5,489.2 106.0,488.9 105.5,488.6 105.0,488.3 104.5,488.0 104.0,487.7 103.5,487.4 103.0,487.1 102.5,486.8 102.0,486.4 101.5,486.1 101.0,485.8 100.5,485.5 100.0,485.2 99.5,484.9 99.0,484.6 98.5,484.3 98.0,484.0 97.5,483.7 97.0,483.4 96.5,483.2 96.0,483.1 95.5,482.9 95.0,482.7 94.5,482.6 94.0,482.4 93.5,482.3 93.0,482.1 92.5,481.9 92.0,481.8 91.5,481.6 91.0,481.5 90.5,481.3 90.0,481.2 89.5,481.0 89.0,480.8 88.5,480.7 88.0,480.5 87.5,480.4 87.0,480.2 86.5,480.1 86.0,479.9 85.5,479.8 85.0,479.6 84.5,479.5 84.0,479.3 83.5,479.2 83.0,479.0 82.5,478.8 82.0,478.7 81.5,478.6 81.0,478.4 80.5,478.3 80.0,478.1 79.5,478.0 79.0,477.8 78.5,477.7 78.0,477.5 77.5,477.4 77.0,477.2 76.5,477.1 76.0,477.0 75.5,476.8 75.0,476.7 74.5,476.5 74.0,476.4 73.5,476.3 73.0,476.1 72.5,476.0 72.0,475.9 71.5,475.7 71.0,475.6 70.5,475.5 70.0,475.4" fill="#9ccff0" fill-opacity="0.120"/>
<path d="M70.0,473.0V476.1M70.5,473.8V475.5M71.0,473.3V476.2M71.5,473.5V475.9M72.0,473.6V476.3M72.5,473.7V476.1M73.0,473.9V476.4M73.5,473.7V477.2M74.0,473.6V476.9M74.5,474.1V476.7M75.0,474.6V476.6M75.5,474.3V477.1M76.0,474.4V477.9M76.5,474.3V477.7M77.0,474.7V477.2M77.5,474.7V477.4M78.0,474.5V478.7M78.5,474.4V477.8M79.0,474.2V478.8M79.5,474.4V479.1M80.0,474.5V479.1M80.5,475.1V479.6M81.0,474.3V478.5M81.5,474.6V479.6M82.0,475.1V479.4M82.5,475.1V480.3M83.0,475.2V480.3M83.5,475.4V480.6M84.0,474.7V480.0M84.5,475.2V481.0M85.0,475.0V480.4M85.5,475.9V480.2M86.0,475.2V480.1M86.5,474.9V480.4M87.0,474.9V480.7M87.5,474.8V481.7M88.0,475.7V481.5M88.5,475.5V481.8M89.0,476.2V481.1M89.5,475.9V483.0M90.0,475.7V481.1M90.5,475.3V482.9M91.0,475.2V481.7M91.5,475.6V481.5M92.0,475.8V482.3M92.5,476.8V484.1M93.0,477.1V483.3M93.5,475.5V482.7M94.0,477.0V484.7M94.5,476.6V484.4M95.0,477.5V483.5M95.5,477.3V484.7M96.0,477.5V485.7M96.5,477.8V485.2M97.0,477.8V483.9M97.5,476.0V483.9M98.0,477.8V486.0M98.5,477.5V484.1M99.0,476.0V484.8M99.5,478.8V485.8M100.0,477.4V487.5M100.5,479.0V486.4M101.0,479.5V487.1M101.5,477.5V488.6M102.0,477.3V489.0M102.5,477.6V489.1M103.0,479.0V487.6M103.5,478.6V488.3M104.0,480.5V489.1M104.5,478.3V488.1M105.0,479.4V489.6M105.5,479.8V488.8M106.0,478.5V489.7M106.5,479.8V490.7M107.0,482.0V491.6M107.5,481.8V489.7M108.0,482.4V490.5M108.5,482.4V493.0M109.0,481.1V495.0M109.5,479.9V495.5M110.0,482.7V493.4M110.5,482.9V494.5M111.0,481.8V496.0M111.5,481.8V493.7M112.0,483.2V495.5M112.5,485.1V493.5M113.0,483.8V494.3M113.5,482.8V495.4M114.0,485.6V495.5M114.5,485.4V496.1M115.0,484.5V497.9M115.5,485.6V499.3M116.0,486.3V501.2M116.5,483.4V500.7M117.0,486.0V499.9M117.5,485.6V497.7M118.0,486.6V500.9M118.5,487.9V498.7M119.0,485.4V500.8M119.5,486.9V504.6M120.0,486.8V501.1M120.5,485.3V502.1M121.0,490.1V504.4M121.5,490.0V502.5M122.0,486.7V505.3M122.5,491.0V504.3M123.0,489.3V504.9M123.5,490.6V506.0M124.0,491.5V504.4M124.5,490.3V509.2M125.0,492.1V508.5M125.5,491.8V507.7M126.0,491.0V507.3M126.5,489.3V507.3M127.0,493.0V505.8M127.5,493.5V511.4M128.0,490.7V512.6M128.5,490.6V506.3M129.0,491.1V512.2M129.5,490.9V510.6M130.0,493.2V510.7M130.5,491.0V509.7M131.0,492.8V511.7M131.5,490.5V514.6M132.0,490.9V515.3M132.5,494.9V511.0M133.0,494.0V511.6M133.5,494.6V515.4M134.0,491.9V515.1M134.5,492.7V511.5M135.0,495.8V519.4M135.5,497.3V515.0M136.0,498.1V512.6M136.5,493.1V520.7" stroke="#9ccff0" stroke-width="0.5" stroke-opacity="0.120" fill="none"/>
<path d="M37.00,468.80 L38.69,469.12 L40.38,469.43 L42.06,469.72 L43.75,470.00 L45.44,470.27 L47.13,470.53 L48.82,470.79 L50.51,471.04 L52.19,471.29 L53.88,471.53 L55.57,471.78 L57.26,472.02 L58.95,472.27 L60.63,472.51 L62.32,472.76 L64.01,473.02 L65.70,473.28 L67.39,473.56 L69.07,473.84 L70.76,474.13 L72.45,474.43 L74.14,474.75 L75.83,475.08 L77.52,475.42 L79.20,475.79 L80.89,476.17 L82.58,476.57 L84.27,476.99 L85.96,477.44 L87.64,477.91 L89.33,478.41 L91.02,478.93 L92.71,479.48 L94.40,480.06 L96.08,480.66 L97.77,481.31 L99.46,481.98 L101.15,482.69 L102.84,483.43 L104.53,484.22 L106.21,485.04 L107.90,485.90 L109.59,486.80 L111.28,487.74 L112.97,488.72 L114.65,489.74 L116.34,490.78 L118.03,491.86 L119.72,492.97 L121.41,494.10 L123.09,495.25 L124.78,496.43 L126.47,497.62 L128.16,498.82 L129.85,500.04 L131.54,501.26 L133.22,502.50 L134.91,503.73 L136.60,504.97" fill="none" stroke="#3322ee" stroke-width="2.7" stroke-linecap="butt" stroke-linejoin="round"/>
<path d="M36.90,461.62 L38.59,462.05 L40.28,462.46 L41.97,462.84 L43.66,463.21 L45.35,463.56 L47.04,463.90 L48.73,464.23 L50.42,464.55 L52.11,464.86 L53.80,465.17 L55.49,465.47 L57.18,465.78 L58.87,466.09 L60.56,466.41 L62.25,466.74 L63.94,467.08 L65.63,467.43 L67.32,467.80 L69.01,468.19 L70.70,468.60 L72.39,469.03 L74.08,469.49 L75.77,469.98 L77.46,470.50 L79.15,471.05 L80.84,471.64 L82.53,472.27 L84.22,472.95 L85.91,473.66 L87.59,474.43 L89.28,475.25 L90.97,476.12 L92.66,477.05 L94.35,478.03 L96.04,479.08 L97.73,480.20 L99.42,481.38 L101.11,482.63 L102.80,483.96 L104.49,485.36 L106.18,486.84 L107.87,488.41 L109.56,490.06 L111.25,491.79 L112.94,493.62 L114.63,495.54 L116.32,497.56 L118.01,499.67 L119.70,501.89 L121.39,504.21 L123.08,506.65 L124.77,509.19 L126.46,511.84 L128.15,514.61 L129.84,517.50 L131.53,520.51 L133.22,523.65 L134.91,526.92 L136.60,530.31" fill="none" stroke="#ff1010" stroke-width="2.7" stroke-linecap="butt" stroke-linejoin="round"/>
<text x="30.3" y="480.6" font-size="4.8" text-anchor="end" fill="#555555">0.075</text>
<text x="30.3" y="516.6" font-size="4.8" text-anchor="end" fill="#555555">0.050</text>
<text x="30.3" y="552.3" font-size="4.8" text-anchor="end" fill="#555555">0.025</text>
<text x="36.7" y="574.2" font-size="4.8" text-anchor="middle" fill="#555555">0</text>
<text x="76.4" y="574.2" font-size="4.8" text-anchor="middle" fill="#555555">100</text>
<text x="116.1" y="574.2" font-size="4.8" text-anchor="middle" fill="#555555">200</text>
<text transform="translate(12.4,515.0) rotate(-90)" x="0" y="0" font-size="7" text-anchor="middle" fill="#1a1a1a" stroke="#1a1a1a" stroke-width="0.12" textLength="126.0" lengthAdjust="spacingAndGlyphs">Mean natural connectivity of the network</text>
<text x="16.1" y="586.2" font-size="7.1" fill="#1a1a1a" textLength="114.2" lengthAdjust="spacingAndGlyphs" stroke="#1a1a1a" stroke-width="0.12">Number of nodes removed randomly</text>
<line x1="173.9" y1="452.5" x2="173.9" y2="568.3" stroke="#ebebeb" stroke-width="0.9"/>
<line x1="192.7" y1="452.5" x2="192.7" y2="568.3" stroke="#ebebeb" stroke-width="0.9"/>
<line x1="210.8" y1="452.5" x2="210.8" y2="568.3" stroke="#ebebeb" stroke-width="0.9"/>
<line x1="228.8" y1="452.5" x2="228.8" y2="568.3" stroke="#ebebeb" stroke-width="0.9"/>
<line x1="247.2" y1="452.5" x2="247.2" y2="568.3" stroke="#ebebeb" stroke-width="0.9"/>
<line x1="265.4" y1="452.5" x2="265.4" y2="568.3" stroke="#ebebeb" stroke-width="0.9"/>
<line x1="168.8" y1="452.9" x2="282.2" y2="452.9" stroke="#ebebeb" stroke-width="0.9"/>
<line x1="168.8" y1="466.5" x2="282.2" y2="466.5" stroke="#ebebeb" stroke-width="0.9"/>
<line x1="168.8" y1="480.2" x2="282.2" y2="480.2" stroke="#ebebeb" stroke-width="0.9"/>
<line x1="168.8" y1="494.0" x2="282.2" y2="494.0" stroke="#ebebeb" stroke-width="0.9"/>
<line x1="168.8" y1="507.6" x2="282.2" y2="507.6" stroke="#ebebeb" stroke-width="0.9"/>
<line x1="168.8" y1="521.2" x2="282.2" y2="521.2" stroke="#ebebeb" stroke-width="0.9"/>
<line x1="168.8" y1="534.8" x2="282.2" y2="534.8" stroke="#ebebeb" stroke-width="0.9"/>
<line x1="168.8" y1="548.5" x2="282.2" y2="548.5" stroke="#ebebeb" stroke-width="0.9"/>
<line x1="168.8" y1="562.0" x2="282.2" y2="562.0" stroke="#ebebeb" stroke-width="0.9"/>
<path d="M174.40,482.70 L175.68,484.83 L176.96,486.91 L178.24,488.93 L179.51,490.87 L180.79,492.74 L182.07,494.52 L183.35,496.22 L184.63,497.85 L185.91,499.42 L187.18,500.97 L188.46,502.51 L189.74,504.04 L191.02,505.60 L192.30,507.20 L193.58,508.82 L194.86,510.45 L196.13,512.08 L197.41,513.70 L198.69,515.30 L199.97,516.86 L201.25,518.39 L202.53,519.88 L203.81,521.36 L205.08,522.82 L206.36,524.26 L207.64,525.66 L208.92,527.03 L210.20,528.34 L211.48,529.58 L212.75,530.76 L214.03,531.86 L215.31,532.92 L216.59,533.94 L217.87,534.95 L219.15,535.97 L220.43,537.01 L221.70,538.10 L222.98,539.25 L224.26,540.44 L225.54,541.66 L226.82,542.88 L228.10,544.10 L229.37,545.28 L230.65,546.43 L231.93,547.51 L233.21,548.55 L234.49,549.58 L235.77,550.59 L237.05,551.57 L238.32,552.52 L239.60,553.42 L240.88,554.26 L242.16,555.06 L243.44,555.84 L244.72,556.63 L245.99,557.39 L247.27,558.11 L248.55,558.76 L249.83,559.33 L251.11,559.78 L252.39,560.12 L253.67,560.42 L254.94,560.71 L256.22,560.97 L257.50,561.20 L258.78,561.38 L260.06,561.52 L261.34,561.59 L262.62,561.60 L263.89,561.60 L265.17,561.60 L266.45,561.60 L267.73,561.60 L269.01,561.60 L270.29,561.50 L271.56,561.29 L272.84,561.01 L274.12,560.67 L275.40,560.30" fill="none" stroke="#3322ee" stroke-width="2.7" stroke-linecap="butt" stroke-linejoin="round"/>
<path d="M174.40,475.20 L175.68,478.79 L176.96,482.37 L178.24,485.94 L179.51,489.50 L180.79,493.09 L182.07,496.74 L183.35,500.39 L184.63,503.94 L185.91,507.31 L187.18,510.46 L188.46,513.44 L189.74,516.30 L191.02,519.07 L192.30,521.77 L193.58,524.44 L194.86,527.11 L196.13,529.81 L197.41,532.56 L198.69,535.28 L199.97,537.92 L201.25,540.42 L202.53,542.72 L203.81,544.80 L205.08,546.77 L206.36,548.66 L207.64,550.43 L208.92,552.07 L210.20,553.53 L211.48,554.79 L212.75,555.89 L214.03,556.92 L215.31,557.84 L216.59,558.63 L217.87,559.28 L219.15,559.79 L220.43,560.26 L221.70,560.70 L222.98,561.09 L224.26,561.44 L225.54,561.73 L226.82,561.94 L228.10,562.08 L229.37,562.15 L230.65,562.22 L231.93,562.27 L233.21,562.33 L234.49,562.37 L235.77,562.41 L237.05,562.44 L238.32,562.47 L239.60,562.49 L240.88,562.50 L242.16,562.50 L243.44,562.49 L244.72,562.47 L245.99,562.44 L247.27,562.40 L248.55,562.36 L249.83,562.31 L251.11,562.26 L252.39,562.21 L253.67,562.16 L254.94,562.11 L256.22,562.07 L257.50,562.03 L258.78,561.99 L260.06,561.95 L261.34,561.90 L262.62,561.86 L263.89,561.81 L265.17,561.76 L266.45,561.71 L267.73,561.65 L269.01,561.58 L270.29,561.51 L271.56,561.42 L272.84,561.32 L274.12,561.21 L275.40,561.10" fill="none" stroke="#ff1010" stroke-width="2.7" stroke-linecap="butt" stroke-linejoin="round"/>
<text x="166.9" y="454.4" font-size="4.8" text-anchor="end" fill="#555555">0.12</text>
<text x="166.9" y="481.3" font-size="4.8" text-anchor="end" fill="#555555">0.09</text>
<text x="166.9" y="509.1" font-size="4.8" text-anchor="end" fill="#555555">0.06</text>
<text x="166.9" y="536.3" font-size="4.8" text-anchor="end" fill="#555555">0.03</text>
<text x="166.9" y="563.7" font-size="4.8" text-anchor="end" fill="#555555">0.00</text>
<text x="173.8" y="574.3" font-size="4.8" text-anchor="middle" fill="#555555">0</text>
<text x="210.7" y="574.3" font-size="4.8" text-anchor="middle" fill="#555555">100</text>
<text x="247.4" y="574.3" font-size="4.8" text-anchor="middle" fill="#555555">200</text>
<text transform="translate(151.4,515.0) rotate(-90)" x="0" y="0" font-size="7" text-anchor="middle" fill="#1a1a1a" stroke="#1a1a1a" stroke-width="0.12" textLength="126.0" lengthAdjust="spacingAndGlyphs">Mean natural connectivity of the network</text>
<text x="145.5" y="586.2" font-size="7.05" fill="#1a1a1a" textLength="190.5" lengthAdjust="spacingAndGlyphs" stroke="#1a1a1a" stroke-width="0.12">Number of removal nodes ordered by betweenness centrality</text>
<text x="278.4" y="457.9" font-size="5.8" font-weight="bold" fill="#1a1a1a" textLength="17.4" lengthAdjust="spacingAndGlyphs">Group</text>
<rect x="279.0" y="462.3" width="7.9" height="16.5" fill="#d9d9d9"/>
<line x1="279.5" y1="466.8" x2="286.4" y2="466.8" stroke="#ff0000" stroke-width="2.5"/>
<line x1="279.5" y1="475.3" x2="286.4" y2="475.3" stroke="#0000ff" stroke-width="2.5"/>
<text x="289.9" y="468.8" font-size="5.8" fill="#222" textLength="42.9" lengthAdjust="spacingAndGlyphs">High P80 in ASD</text>
<text x="289.9" y="477.0" font-size="5.8" fill="#222" textLength="41.9" lengthAdjust="spacingAndGlyphs">Low P80 in ASD</text>
<text x="73.7" y="447.0" font-size="10.3" fill="#111" textLength="126.8" lengthAdjust="spacingAndGlyphs" stroke="#111" stroke-width="0.12">Polysorbate-80 (P80) in ASD</text>
<line x1="375.1" y1="449.4" x2="375.1" y2="568.5" stroke="#ebebeb" stroke-width="0.9"/>
<line x1="393.5" y1="449.4" x2="393.5" y2="568.5" stroke="#ebebeb" stroke-width="0.9"/>
<line x1="411.6" y1="449.4" x2="411.6" y2="568.5" stroke="#ebebeb" stroke-width="0.9"/>
<line x1="429.8" y1="449.4" x2="429.8" y2="568.5" stroke="#ebebeb" stroke-width="0.9"/>
<line x1="447.7" y1="449.4" x2="447.7" y2="568.5" stroke="#ebebeb" stroke-width="0.9"/>
<line x1="465.7" y1="449.4" x2="465.7" y2="568.5" stroke="#ebebeb" stroke-width="0.9"/>
<line x1="370.5" y1="457.8" x2="481.3" y2="457.8" stroke="#ebebeb" stroke-width="0.9"/>
<line x1="370.5" y1="471.5" x2="481.3" y2="471.5" stroke="#ebebeb" stroke-width="0.9"/>
<line x1="370.5" y1="485.4" x2="481.3" y2="485.4" stroke="#ebebeb" stroke-width="0.9"/>
<line x1="370.5" y1="499.4" x2="481.3" y2="499.4" stroke="#ebebeb" stroke-width="0.9"/>
<line x1="370.5" y1="513.1" x2="481.3" y2="513.1" stroke="#ebebeb" stroke-width="0.9"/>
<line x1="370.5" y1="526.9" x2="481.3" y2="526.9" stroke="#ebebeb" stroke-width="0.9"/>
<line x1="370.5" y1="540.8" x2="481.3" y2="540.8" stroke="#ebebeb" stroke-width="0.9"/>
<line x1="370.5" y1="554.8" x2="481.3" y2="554.8" stroke="#ebebeb" stroke-width="0.9"/>
<polygon points="380.0,458.0 380.5,458.0 381.0,458.1 381.5,458.1 382.0,458.1 382.5,458.1 383.0,458.1 383.5,458.2 384.0,458.2 384.5,458.2 385.0,458.2 385.5,458.2 386.0,458.2 386.5,458.2 387.0,458.3 387.5,458.3 388.0,458.3 388.5,458.3 389.0,458.3 389.5,458.3 390.0,458.3 390.5,458.3 391.0,458.3 391.5,458.3 392.0,458.3 392.5,458.4 393.0,458.4 393.5,458.4 394.0,458.5 394.5,458.5 395.0,458.6 395.5,458.7 396.0,458.8 396.5,458.8 397.0,458.9 397.5,459.0 398.0,459.0 398.5,459.1 399.0,459.2 399.5,459.2 400.0,459.3 400.5,459.4 401.0,459.4 401.5,459.5 402.0,459.5 402.5,459.6 403.0,459.7 403.5,459.7 404.0,459.8 404.5,459.9 405.0,459.9 405.5,460.0 406.0,460.1 406.5,460.1 407.0,460.2 407.5,460.3 408.0,460.3 408.5,460.4 409.0,460.4 409.5,460.5 410.0,460.6 410.5,460.6 411.0,460.7 411.5,460.8 412.0,460.9 412.5,461.0 413.0,461.1 413.5,461.2 414.0,461.3 414.5,461.4 415.0,461.6 415.5,461.7 416.0,461.8 416.5,461.9 417.0,462.0 417.5,462.1 418.0,462.2 418.5,462.3 419.0,462.5 419.5,462.6 420.0,462.7 420.5,462.8 421.0,462.9 421.5,463.0 422.0,463.1 422.5,463.2 423.0,463.4 423.5,463.5 424.0,463.6 424.5,463.7 425.0,463.8 425.5,463.9 426.0,464.0 426.5,464.1 427.0,464.3 427.5,464.4 428.0,464.6 428.5,464.8 429.0,464.9 429.5,465.1 430.0,465.3 430.5,465.4 431.0,465.6 431.5,465.7 432.0,465.9 432.5,466.1 433.0,466.2 433.5,466.4 434.0,466.6 434.5,466.7 435.0,466.9 435.5,467.0 436.0,467.2 436.5,467.4 437.0,467.5 437.5,467.7 438.0,467.8 438.5,468.0 439.0,468.4 439.5,468.8 440.0,469.1 440.5,469.5 441.0,469.9 441.5,470.3 442.0,470.7 442.5,471.0 443.0,471.4 443.5,471.8 444.0,472.2 444.5,472.5 445.0,472.9 445.5,473.3 446.0,473.7 446.5,474.0 447.0,474.4 447.5,474.8 448.0,475.2 448.5,475.6 449.0,476.1 449.5,476.7 450.0,477.4 450.5,478.0 451.0,478.6 451.5,479.2 452.0,479.8 452.5,480.4 453.0,481.1 453.5,481.7 454.0,482.3 454.5,482.9 455.0,483.5 455.5,484.1 456.0,484.8 456.5,485.4 457.0,486.0 457.5,486.8 458.0,487.6 458.5,488.5 459.0,489.3 459.5,490.1 460.0,490.9 460.5,491.7 461.0,492.5 461.5,493.4 462.0,494.2 462.5,495.0 463.0,495.8 463.5,496.6 464.0,497.5 464.5,498.3 465.0,499.1 465.5,499.9 466.0,500.9 466.5,501.8 467.0,502.7 467.5,503.7 468.0,504.6 468.5,505.6 469.0,506.5 469.5,507.4 470.0,508.4 470.5,509.3 471.0,510.2 471.5,511.3 472.0,512.5 472.5,513.6 473.0,514.8 473.5,515.9 474.0,517.1 474.5,518.2 475.0,519.4 475.5,520.5 476.0,521.7 476.0,550.7 475.5,549.4 475.0,548.1 474.5,546.8 474.0,545.5 473.5,544.2 473.0,542.9 472.5,541.6 472.0,540.3 471.5,538.9 471.0,537.7 470.5,536.6 470.0,535.5 469.5,534.4 469.0,533.4 468.5,532.3 468.0,531.2 467.5,530.1 467.0,529.0 466.5,527.9 466.0,526.8 465.5,525.7 465.0,524.7 464.5,523.7 464.0,522.8 463.5,521.8 463.0,520.8 462.5,519.8 462.0,518.9 461.5,517.9 461.0,516.9 460.5,516.0 460.0,515.0 459.5,514.0 459.0,513.0 458.5,512.1 458.0,511.1 457.5,510.1 457.0,509.1 456.5,508.4 456.0,507.6 455.5,506.8 455.0,506.1 454.5,505.3 454.0,504.5 453.5,503.8 453.0,503.0 452.5,502.2 452.0,501.4 451.5,500.7 451.0,499.9 450.5,499.1 450.0,498.4 449.5,497.6 449.0,496.8 448.5,496.1 448.0,495.6 447.5,495.1 447.0,494.5 446.5,494.0 446.0,493.5 445.5,492.9 445.0,492.4 444.5,491.9 444.0,491.4 443.5,490.8 443.0,490.3 442.5,489.8 442.0,489.2 441.5,488.7 441.0,488.2 440.5,487.7 440.0,487.1 439.5,486.6 439.0,486.1 438.5,485.6 438.0,485.2 437.5,484.9 437.0,484.6 436.5,484.3 436.0,484.0 435.5,483.7 435.0,483.4 434.5,483.1 434.0,482.8 433.5,482.4 433.0,482.1 432.5,481.8 432.0,481.5 431.5,481.2 431.0,480.9 430.5,480.6 430.0,480.3 429.5,480.0 429.0,479.7 428.5,479.3 428.0,479.0 427.5,478.7 427.0,478.4 426.5,478.1 426.0,477.9 425.5,477.6 425.0,477.4 424.5,477.1 424.0,476.9 423.5,476.6 423.0,476.3 422.5,476.1 422.0,475.8 421.5,475.6 421.0,475.3 420.5,475.1 420.0,474.8 419.5,474.5 419.0,474.3 418.5,474.0 418.0,473.8 417.5,473.5 417.0,473.3 416.5,473.0 416.0,472.7 415.5,472.5 415.0,472.2 414.5,472.0 414.0,471.7 413.5,471.5 413.0,471.2 412.5,471.0 412.0,470.7 411.5,470.5 411.0,470.3 410.5,470.1 410.0,469.8 409.5,469.6 409.0,469.4 408.5,469.2 408.0,469.0 407.5,468.8 407.0,468.6 406.5,468.4 406.0,468.2 405.5,468.0 405.0,467.8 404.5,467.6 404.0,467.4 403.5,467.2 403.0,467.0 402.5,466.8 402.0,466.6 401.5,466.4 401.0,466.2 400.5,466.0 400.0,465.8 399.5,465.6 399.0,465.4 398.5,465.2 398.0,465.0 397.5,464.8 397.0,464.6 396.5,464.4 396.0,464.2 395.5,464.0 395.0,463.8 394.5,463.6 394.0,463.4 393.5,463.2 393.0,463.1 392.5,462.9 392.0,462.8 391.5,462.6 391.0,462.5 390.5,462.4 390.0,462.2 389.5,462.1 389.0,462.0 388.5,461.8 388.0,461.7 387.5,461.6 387.0,461.4 386.5,461.3 386.0,461.2 385.5,461.0 385.0,460.9 384.5,460.8 384.0,460.7 383.5,460.5 383.0,460.4 382.5,460.3 382.0,460.1 381.5,460.0 381.0,459.9 380.5,459.8 380.0,459.7" fill="#f08a8a" fill-opacity="0.180"/>
<path d="M380.0,457.9V460.0M380.5,457.8V460.2M381.0,457.6V459.9M381.5,458.2V460.7M382.0,457.9V460.3M382.5,457.1V460.7M383.0,457.3V460.8M383.5,457.5V460.6M384.0,457.5V461.6M384.5,457.6V461.6M385.0,457.4V460.9M385.5,457.3V461.7M386.0,457.9V461.1M386.5,457.0V461.9M387.0,457.2V462.7M387.5,457.2V462.9M388.0,457.7V462.9M388.5,457.6V463.3M389.0,456.8V462.0M389.5,458.2V462.3M390.0,456.6V462.9M390.5,457.2V462.8M391.0,457.4V463.1M391.5,457.8V463.7M392.0,457.2V464.5M392.5,457.0V464.8M393.0,456.5V465.1M393.5,457.0V463.4M394.0,456.5V465.5M394.5,456.4V464.8M395.0,456.9V464.1M395.5,456.7V465.3M396.0,458.2V464.1M396.5,456.6V466.9M397.0,458.9V466.6M397.5,458.0V465.0M398.0,458.4V467.0M398.5,456.6V465.1M399.0,457.5V465.3M399.5,457.2V466.4M400.0,456.6V468.6M400.5,457.9V468.9M401.0,458.7V466.2M401.5,457.7V466.2M402.0,459.2V467.7M402.5,457.7V467.0M403.0,459.9V469.8M403.5,458.9V470.4M404.0,456.6V468.5M404.5,458.4V469.2M405.0,457.7V469.8M405.5,458.1V470.1M406.0,456.5V469.9M406.5,458.7V471.0M407.0,459.6V469.5M407.5,456.3V470.6M408.0,458.3V468.7M408.5,458.9V471.3M409.0,460.8V471.7M409.5,458.0V469.5M410.0,458.0V471.5M410.5,457.8V471.2M411.0,457.7V473.2M411.5,461.1V470.3M412.0,457.9V474.9M412.5,460.2V472.7M413.0,458.5V472.3M413.5,459.8V472.6M414.0,459.8V474.3M414.5,460.3V473.4M415.0,457.8V471.9M415.5,459.0V475.9M416.0,460.5V473.4M416.5,457.8V473.8M417.0,461.4V475.1M417.5,458.5V473.6M418.0,460.9V475.1M418.5,457.9V476.0M419.0,457.8V474.7M419.5,461.1V477.8M420.0,457.7V476.9M420.5,461.9V475.2M421.0,460.1V475.9M421.5,458.4V480.1M422.0,462.5V477.0M422.5,458.5V479.5M423.0,458.6V477.9M423.5,463.2V477.9M424.0,458.8V478.0M424.5,461.9V479.2M425.0,461.5V479.5M425.5,458.0V478.1M426.0,464.6V483.6M426.5,458.4V484.2M427.0,461.8V484.3M427.5,458.3V479.6M428.0,459.7V484.2M428.5,460.4V482.4M429.0,463.4V481.4M429.5,464.0V479.8M430.0,461.4V481.7M430.5,459.8V480.3M431.0,459.1V485.3M431.5,459.1V487.2M432.0,459.4V485.2M432.5,466.7V486.8M433.0,465.6V483.7M433.5,461.6V485.8M434.0,463.8V489.4M434.5,462.3V485.0M435.0,465.5V489.5M435.5,463.7V489.2M436.0,464.9V484.9M436.5,463.5V490.2M437.0,466.8V490.4M437.5,460.3V490.9M438.0,461.2V484.5M438.5,463.1V492.1M439.0,468.8V487.6M439.5,467.1V490.4M440.0,466.0V490.4M440.5,463.1V486.9M441.0,470.2V488.5M441.5,470.0V488.5M442.0,462.1V496.1M442.5,471.1V493.5M443.0,469.2V492.3M443.5,469.2V495.9M444.0,467.2V493.9M444.5,471.5V494.1M445.0,472.6V496.8M445.5,466.9V495.7M446.0,473.8V494.3M446.5,471.1V498.9M447.0,467.2V497.3M447.5,467.3V500.2M448.0,471.6V498.3M448.5,471.2V502.2M449.0,472.6V502.8M449.5,472.7V499.1M450.0,472.5V504.5M450.5,478.2V502.5M451.0,474.9V508.0M451.5,469.8V503.6M452.0,470.8V508.7M452.5,478.5V506.1M453.0,480.7V510.6M453.5,475.1V512.2M454.0,474.2V510.7M454.5,475.4V510.4M455.0,483.4V511.5M455.5,485.2V507.4M456.0,476.7V507.1M456.5,485.4V508.5M457.0,476.5V510.1M457.5,487.6V518.5M458.0,487.3V519.6M458.5,481.3V520.5M459.0,478.7V518.6M459.5,481.3V513.4M460.0,482.5V519.9M460.5,483.9V516.1M461.0,484.2V526.8M461.5,493.7V520.7M462.0,488.1V527.6M462.5,493.1V520.9M463.0,493.8V527.1M463.5,488.0V525.5M464.0,493.8V526.5M464.5,494.8V527.8M465.0,499.2V529.8M465.5,488.1V529.7M466.0,492.0V527.7M466.5,493.7V536.2M467.0,494.8V534.4M467.5,498.3V537.1M468.0,493.5V531.9M468.5,505.5V540.7M469.0,495.0V538.9M469.5,502.5V542.6M470.0,507.0V537.8M470.5,507.8V543.1M471.0,507.0V539.6M471.5,502.7V550.4M472.0,509.5V548.5M472.5,508.9V551.8M473.0,507.6V545.3M473.5,514.1V543.3M474.0,511.3V549.5M474.5,517.0V550.5M475.0,515.9V557.6M475.5,519.7V561.9M476.0,515.8V557.8" stroke="#f08a8a" stroke-width="0.5" stroke-opacity="0.180" fill="none"/>
<polygon points="410.0,461.7 410.5,461.8 411.0,461.8 411.5,461.9 412.0,462.0 412.5,462.1 413.0,462.2 413.5,462.3 414.0,462.4 414.5,462.5 415.0,462.6 415.5,462.8 416.0,462.9 416.5,463.0 417.0,463.1 417.5,463.2 418.0,463.3 418.5,463.4 419.0,463.4 419.5,463.5 420.0,463.6 420.5,463.7 421.0,463.8 421.5,463.9 422.0,464.0 422.5,464.1 423.0,464.2 423.5,464.3 424.0,464.4 424.5,464.5 425.0,464.6 425.5,464.7 426.0,464.8 426.5,464.9 427.0,465.0 427.5,465.2 428.0,465.4 428.5,465.6 429.0,465.7 429.5,465.9 430.0,466.1 430.5,466.3 431.0,466.5 431.5,466.6 432.0,466.8 432.5,467.0 433.0,467.2 433.5,467.4 434.0,467.6 434.5,467.7 435.0,467.9 435.5,468.1 436.0,468.3 436.5,468.5 437.0,468.6 437.5,468.8 438.0,469.0 438.5,469.2 439.0,469.3 439.5,469.5 440.0,469.7 440.5,469.9 441.0,470.1 441.5,470.2 442.0,470.4 442.5,470.7 443.0,470.9 443.5,471.2 444.0,471.4 444.5,471.7 445.0,472.0 445.5,472.2 446.0,472.5 446.5,472.7 447.0,473.0 447.5,473.2 448.0,473.5 448.5,473.7 449.0,474.0 449.5,474.2 450.0,474.5 450.5,474.7 451.0,475.0 451.5,475.2 452.0,475.5 452.5,475.9 453.0,476.2 453.5,476.5 454.0,476.9 454.5,477.2 455.0,477.5 455.5,477.9 456.0,478.2 456.5,478.6 457.0,478.9 457.5,479.2 458.0,479.6 458.5,479.9 459.0,480.2 459.5,480.6 460.0,480.9 460.5,481.3 461.0,481.6 461.5,481.9 462.0,482.3 462.5,482.6 463.0,482.9 463.5,483.2 464.0,483.5 464.5,483.8 465.0,484.1 465.5,484.4 466.0,484.8 466.5,485.1 467.0,485.4 467.5,485.7 468.0,486.0 468.5,486.3 469.0,486.6 469.5,486.9 470.0,487.2 470.5,487.6 471.0,487.9 471.5,488.3 472.0,488.7 472.5,489.1 473.0,489.5 473.5,489.8 474.0,490.2 474.5,490.6 475.0,491.0 475.5,491.4 476.0,491.7 476.0,507.6 475.5,507.1 475.0,506.6 474.5,506.1 474.0,505.5 473.5,505.0 473.0,504.5 472.5,504.0 472.0,503.5 471.5,502.9 471.0,502.4 470.5,501.9 470.0,501.4 469.5,501.0 469.0,500.5 468.5,500.1 468.0,499.7 467.5,499.2 467.0,498.8 466.5,498.3 466.0,497.9 465.5,497.4 465.0,497.0 464.5,496.6 464.0,496.1 463.5,495.7 463.0,495.2 462.5,494.8 462.0,494.3 461.5,493.9 461.0,493.4 460.5,492.9 460.0,492.5 459.5,492.0 459.0,491.5 458.5,491.1 458.0,490.6 457.5,490.2 457.0,489.7 456.5,489.2 456.0,488.8 455.5,488.3 455.0,487.8 454.5,487.4 454.0,486.9 453.5,486.5 453.0,486.0 452.5,485.5 452.0,485.1 451.5,484.7 451.0,484.3 450.5,483.9 450.0,483.6 449.5,483.2 449.0,482.8 448.5,482.4 448.0,482.1 447.5,481.7 447.0,481.3 446.5,480.9 446.0,480.6 445.5,480.2 445.0,479.8 444.5,479.5 444.0,479.1 443.5,478.7 443.0,478.4 442.5,478.0 442.0,477.6 441.5,477.3 441.0,477.0 440.5,476.7 440.0,476.5 439.5,476.2 439.0,475.9 438.5,475.6 438.0,475.3 437.5,475.0 437.0,474.7 436.5,474.4 436.0,474.2 435.5,473.9 435.0,473.6 434.5,473.3 434.0,473.0 433.5,472.7 433.0,472.5 432.5,472.2 432.0,471.9 431.5,471.6 431.0,471.3 430.5,471.0 430.0,470.8 429.5,470.5 429.0,470.2 428.5,469.9 428.0,469.7 427.5,469.4 427.0,469.1 426.5,468.9 426.0,468.7 425.5,468.5 425.0,468.3 424.5,468.1 424.0,468.0 423.5,467.8 423.0,467.6 422.5,467.4 422.0,467.2 421.5,467.1 421.0,466.9 420.5,466.7 420.0,466.5 419.5,466.3 419.0,466.2 418.5,466.0 418.0,465.8 417.5,465.6 417.0,465.5 416.5,465.3 416.0,465.1 415.5,465.0 415.0,464.8 414.5,464.6 414.0,464.5 413.5,464.3 413.0,464.1 412.5,464.0 412.0,463.8 411.5,463.7 411.0,463.6 410.5,463.4 410.0,463.3" fill="#9ccff0" fill-opacity="0.120"/>
<path d="M410.0,461.6V463.3M410.5,461.5V463.5M411.0,461.9V463.8M411.5,461.2V464.3M412.0,461.4V463.9M412.5,461.7V464.2M413.0,462.2V464.2M413.5,462.2V465.2M414.0,461.8V465.2M414.5,461.9V464.7M415.0,462.4V465.4M415.5,462.1V465.9M416.0,462.0V465.1M416.5,462.4V466.1M417.0,462.6V465.6M417.5,462.7V465.6M418.0,462.3V466.9M418.5,462.8V466.3M419.0,462.5V466.9M419.5,462.6V467.6M420.0,463.1V467.1M420.5,463.1V467.3M421.0,463.7V467.3M421.5,463.0V467.0M422.0,464.1V468.2M422.5,463.9V468.3M423.0,463.7V468.1M423.5,463.1V468.0M424.0,464.0V468.2M424.5,463.7V468.5M425.0,464.2V469.8M425.5,464.4V469.6M426.0,463.6V468.7M426.5,464.9V469.2M427.0,463.9V470.4M427.5,465.0V470.0M428.0,465.2V470.6M428.5,465.6V471.6M429.0,464.4V472.6M429.5,464.8V473.0M430.0,466.2V471.3M430.5,464.7V473.1M431.0,465.9V473.9M431.5,465.7V473.9M432.0,466.5V472.2M432.5,466.3V472.3M433.0,466.6V475.3M433.5,466.9V472.5M434.0,467.6V473.3M434.5,466.3V474.3M435.0,467.5V473.6M435.5,466.2V475.1M436.0,468.0V474.0M436.5,468.5V474.7M437.0,467.3V475.0M437.5,468.9V476.6M438.0,468.6V479.0M438.5,469.1V477.4M439.0,467.8V477.2M439.5,467.4V477.8M440.0,469.3V477.8M440.5,470.0V478.2M441.0,469.7V480.6M441.5,468.4V479.2M442.0,470.6V478.4M442.5,470.3V478.5M443.0,470.6V482.1M443.5,471.1V478.5M444.0,469.2V481.5M444.5,469.3V481.0M445.0,469.7V482.7M445.5,470.3V483.6M446.0,471.3V480.6M446.5,472.4V485.2M447.0,470.6V485.9M447.5,472.5V484.8M448.0,471.4V485.2M448.5,471.6V484.9M449.0,472.3V486.3M449.5,473.7V488.1M450.0,471.8V483.5M450.5,472.0V489.2M451.0,473.2V484.0M451.5,472.6V484.9M452.0,472.7V488.7M452.5,476.0V486.0M453.0,474.4V489.1M453.5,474.3V491.9M454.0,476.4V486.3M454.5,474.3V486.9M455.0,474.8V488.0M455.5,475.4V493.1M456.0,475.4V492.0M456.5,475.7V490.0M457.0,476.8V491.4M457.5,476.3V495.1M458.0,478.2V493.8M458.5,480.2V490.7M459.0,478.3V494.5M459.5,477.6V495.9M460.0,480.7V494.6M460.5,478.6V496.3M461.0,481.9V499.3M461.5,479.0V493.8M462.0,480.4V496.7M462.5,479.7V496.6M463.0,482.3V498.5M463.5,479.6V495.7M464.0,483.4V500.6M464.5,480.5V500.1M465.0,482.7V503.6M465.5,481.5V497.2M466.0,481.3V498.8M466.5,484.1V504.9M467.0,483.9V505.1M467.5,485.3V506.3M468.0,485.6V500.2M468.5,484.5V502.4M469.0,484.5V508.1M469.5,484.0V500.2M470.0,486.2V505.8M470.5,485.7V507.9M471.0,486.1V502.3M471.5,487.6V510.4M472.0,487.4V510.1M472.5,484.7V509.3M473.0,486.6V509.7M473.5,488.7V513.4M474.0,488.3V514.0M474.5,489.5V514.1M475.0,487.4V512.0M475.5,489.6V507.6M476.0,488.2V510.5" stroke="#9ccff0" stroke-width="0.5" stroke-opacity="0.120" fill="none"/>
<path d="M375.10,457.50 L376.82,457.63 L378.53,457.76 L380.25,457.90 L381.96,458.04 L383.68,458.20 L385.39,458.36 L387.11,458.54 L388.82,458.72 L390.54,458.92 L392.25,459.13 L393.97,459.35 L395.68,459.58 L397.40,459.83 L399.11,460.09 L400.83,460.37 L402.54,460.66 L404.26,460.97 L405.97,461.30 L407.69,461.65 L409.41,462.01 L411.12,462.39 L412.84,462.79 L414.55,463.22 L416.27,463.66 L417.98,464.13 L419.70,464.61 L421.41,465.12 L423.13,465.66 L424.84,466.22 L426.56,466.80 L428.27,467.41 L429.99,468.04 L431.70,468.71 L433.42,469.40 L435.13,470.12 L436.85,470.86 L438.56,471.64 L440.28,472.45 L441.99,473.28 L443.71,474.15 L445.43,475.05 L447.14,475.99 L448.86,476.95 L450.57,477.96 L452.29,478.99 L454.00,480.06 L455.72,481.17 L457.43,482.31 L459.15,483.50 L460.86,484.72 L462.58,485.97 L464.29,487.27 L466.01,488.61 L467.72,489.99 L469.44,491.40 L471.15,492.87 L472.87,494.37 L474.58,495.92 L476.30,497.51" fill="none" stroke="#3322ee" stroke-width="2.7" stroke-linecap="butt" stroke-linejoin="round"/>
<path d="M375.10,457.87 L376.82,458.27 L378.53,458.65 L380.25,459.01 L381.96,459.37 L383.68,459.71 L385.39,460.04 L387.11,460.37 L388.82,460.69 L390.54,461.01 L392.25,461.32 L393.97,461.64 L395.68,461.96 L397.40,462.29 L399.11,462.62 L400.83,462.96 L402.54,463.31 L404.26,463.67 L405.97,464.05 L407.69,464.44 L409.41,464.85 L411.12,465.28 L412.84,465.73 L414.55,466.21 L416.27,466.72 L417.98,467.25 L419.70,467.83 L421.41,468.44 L423.13,469.10 L424.84,469.81 L426.56,470.56 L428.27,471.37 L429.99,472.24 L431.70,473.17 L433.42,474.18 L435.13,475.26 L436.85,476.42 L438.56,477.67 L440.28,479.01 L441.99,480.45 L443.71,481.98 L445.43,483.63 L447.14,485.39 L448.86,487.27 L450.57,489.27 L452.29,491.40 L454.00,493.67 L455.72,496.07 L457.43,498.62 L459.15,501.32 L460.86,504.17 L462.58,507.18 L464.29,510.36 L466.01,513.71 L467.72,517.23 L469.44,520.93 L471.15,524.82 L472.87,528.90 L474.58,533.18 L476.30,537.65" fill="none" stroke="#ff1010" stroke-width="2.7" stroke-linecap="butt" stroke-linejoin="round"/>
<text x="370.0" y="473.0" font-size="4.8" text-anchor="end" fill="#555555">0.075</text>
<text x="370.0" y="500.7" font-size="4.8" text-anchor="end" fill="#555555">0.050</text>
<text x="370.0" y="528.5" font-size="4.8" text-anchor="end" fill="#555555">0.025</text>
<text x="370.0" y="556.2" font-size="4.8" text-anchor="end" fill="#555555">0.000</text>
<text x="374.6" y="574.3" font-size="4.8" text-anchor="middle" fill="#555555">0</text>
<text x="410.7" y="574.3" font-size="4.8" text-anchor="middle" fill="#555555">100</text>
<text x="447.0" y="574.3" font-size="4.8" text-anchor="middle" fill="#555555">200</text>
<text transform="translate(353.8,517.1) rotate(-90)" x="0" y="0" font-size="7" text-anchor="middle" fill="#1a1a1a" stroke="#1a1a1a" stroke-width="0.12" textLength="127.6" lengthAdjust="spacingAndGlyphs">Mean natural connectivity of the network</text>
<text x="358.8" y="586.2" font-size="7.1" fill="#1a1a1a" textLength="115.2" lengthAdjust="spacingAndGlyphs" stroke="#1a1a1a" stroke-width="0.12">Number of nodes removed randomly</text>
<line x1="511.7" y1="449.5" x2="511.7" y2="570.5" stroke="#ebebeb" stroke-width="0.9"/>
<line x1="530.4" y1="449.5" x2="530.4" y2="570.5" stroke="#ebebeb" stroke-width="0.9"/>
<line x1="548.8" y1="449.5" x2="548.8" y2="570.5" stroke="#ebebeb" stroke-width="0.9"/>
<line x1="567.2" y1="449.5" x2="567.2" y2="570.5" stroke="#ebebeb" stroke-width="0.9"/>
<line x1="585.9" y1="449.5" x2="585.9" y2="570.5" stroke="#ebebeb" stroke-width="0.9"/>
<line x1="604.5" y1="449.5" x2="604.5" y2="570.5" stroke="#ebebeb" stroke-width="0.9"/>
<line x1="508.4" y1="458.6" x2="620.6" y2="458.6" stroke="#ebebeb" stroke-width="0.9"/>
<line x1="508.4" y1="471.8" x2="620.6" y2="471.8" stroke="#ebebeb" stroke-width="0.9"/>
<line x1="508.4" y1="484.5" x2="620.6" y2="484.5" stroke="#ebebeb" stroke-width="0.9"/>
<line x1="508.4" y1="498.0" x2="620.6" y2="498.0" stroke="#ebebeb" stroke-width="0.9"/>
<line x1="508.4" y1="510.8" x2="620.6" y2="510.8" stroke="#ebebeb" stroke-width="0.9"/>
<line x1="508.4" y1="524.0" x2="620.6" y2="524.0" stroke="#ebebeb" stroke-width="0.9"/>
<line x1="508.4" y1="537.1" x2="620.6" y2="537.1" stroke="#ebebeb" stroke-width="0.9"/>
<line x1="508.4" y1="550.2" x2="620.6" y2="550.2" stroke="#ebebeb" stroke-width="0.9"/>
<line x1="508.4" y1="563.0" x2="620.6" y2="563.0" stroke="#ebebeb" stroke-width="0.9"/>
<path d="M512.00,474.00 L513.30,475.32 L514.61,476.68 L515.91,478.09 L517.22,479.53 L518.52,481.01 L519.82,482.53 L521.13,484.09 L522.43,485.71 L523.73,487.37 L525.04,489.08 L526.34,490.82 L527.65,492.60 L528.95,494.40 L530.25,496.23 L531.56,498.06 L532.86,499.93 L534.16,501.85 L535.47,503.79 L536.77,505.76 L538.08,507.74 L539.38,509.73 L540.68,511.71 L541.99,513.68 L543.29,515.63 L544.59,517.58 L545.90,519.52 L547.20,521.48 L548.51,523.47 L549.81,525.50 L551.11,527.60 L552.42,529.80 L553.72,532.07 L555.03,534.37 L556.33,536.65 L557.63,538.85 L558.94,540.94 L560.24,542.94 L561.54,544.94 L562.85,546.87 L564.15,548.67 L565.46,550.24 L566.76,551.52 L568.06,552.65 L569.37,553.67 L570.67,554.60 L571.97,555.45 L573.28,556.23 L574.58,556.93 L575.89,557.60 L577.19,558.25 L578.49,558.89 L579.80,559.49 L581.10,560.04 L582.41,560.52 L583.71,560.91 L585.01,561.20 L586.32,561.40 L587.62,561.57 L588.92,561.73 L590.23,561.87 L591.53,561.99 L592.84,562.09 L594.14,562.16 L595.44,562.20 L596.75,562.20 L598.05,562.16 L599.35,562.09 L600.66,561.99 L601.96,561.87 L603.27,561.73 L604.57,561.57 L605.87,561.40 L607.18,561.21 L608.48,560.93 L609.78,560.56 L611.09,560.12 L612.39,559.61 L613.70,559.07 L615.00,558.50" fill="none" stroke="#3322ee" stroke-width="2.7" stroke-linecap="butt" stroke-linejoin="round"/>
<path d="M512.00,479.30 L513.30,481.91 L514.61,484.52 L515.91,487.13 L517.22,489.74 L518.52,492.34 L519.82,494.96 L521.13,497.62 L522.43,500.31 L523.73,502.97 L525.04,505.59 L526.34,508.12 L527.65,510.53 L528.95,512.81 L530.25,515.03 L531.56,517.18 L532.86,519.27 L534.16,521.32 L535.47,523.31 L536.77,525.26 L538.08,527.17 L539.38,529.05 L540.68,530.88 L541.99,532.68 L543.29,534.43 L544.59,536.15 L545.90,537.84 L547.20,539.50 L548.51,541.13 L549.81,542.75 L551.11,544.36 L552.42,545.95 L553.72,547.52 L555.03,549.05 L556.33,550.53 L557.63,551.96 L558.94,553.33 L560.24,554.67 L561.54,556.04 L562.85,557.40 L564.15,558.69 L565.46,559.85 L566.76,560.84 L568.06,561.58 L569.37,562.18 L570.67,562.76 L571.97,563.30 L573.28,563.78 L574.58,564.19 L575.89,564.51 L577.19,564.72 L578.49,564.80 L579.80,564.80 L581.10,564.80 L582.41,564.80 L583.71,564.80 L585.01,564.80 L586.32,564.80 L587.62,564.80 L588.92,564.80 L590.23,564.80 L591.53,564.80 L592.84,564.80 L594.14,564.75 L595.44,564.63 L596.75,564.46 L598.05,564.24 L599.35,564.01 L600.66,563.75 L601.96,563.50 L603.27,563.26 L604.57,563.05 L605.87,562.86 L607.18,562.68 L608.48,562.50 L609.78,562.31 L611.09,562.13 L612.39,561.95 L613.70,561.78 L615.00,561.60" fill="none" stroke="#ff1010" stroke-width="2.7" stroke-linecap="butt" stroke-linejoin="round"/>
<text x="507.8" y="460.6" font-size="4.8" text-anchor="end" fill="#555555">0.100</text>
<text x="507.8" y="486.7" font-size="4.8" text-anchor="end" fill="#555555">0.075</text>
<text x="507.8" y="512.4" font-size="4.8" text-anchor="end" fill="#555555">0.050</text>
<text x="507.8" y="538.4" font-size="4.8" text-anchor="end" fill="#555555">0.025</text>
<text x="507.8" y="564.8" font-size="4.8" text-anchor="end" fill="#555555">0.000</text>
<text x="511.4" y="576.7" font-size="4.8" text-anchor="middle" fill="#555555">0</text>
<text x="548.8" y="576.7" font-size="4.8" text-anchor="middle" fill="#555555">100</text>
<text x="586.3" y="576.7" font-size="4.8" text-anchor="middle" fill="#555555">200</text>
<text transform="translate(490.0,514.0) rotate(-90)" x="0" y="0" font-size="7" text-anchor="middle" fill="#1a1a1a" stroke="#1a1a1a" stroke-width="0.12" textLength="128.1" lengthAdjust="spacingAndGlyphs">Mean natural connectivity of the network</text>
<text x="489.9" y="586.5" font-size="7.05" fill="#1a1a1a" textLength="190.0" lengthAdjust="spacingAndGlyphs" stroke="#1a1a1a" stroke-width="0.12">Number of removal nodes ordered by betweenness centrality</text>
<text x="617.7" y="460.5" font-size="5.8" font-weight="bold" fill="#1a1a1a" textLength="17.4" lengthAdjust="spacingAndGlyphs">Group</text>
<rect x="618.3" y="464.9" width="7.7" height="16.5" fill="#d9d9d9"/>
<line x1="618.8" y1="468.8" x2="625.5" y2="468.8" stroke="#ff0000" stroke-width="2.5"/>
<line x1="618.8" y1="476.9" x2="625.5" y2="476.9" stroke="#0000ff" stroke-width="2.5"/>
<text x="628.2" y="470.8" font-size="5.8" fill="#222" textLength="45.8" lengthAdjust="spacingAndGlyphs">High CRN in ASD</text>
<text x="628.2" y="479.0" font-size="5.8" fill="#222" textLength="44.0" lengthAdjust="spacingAndGlyphs">Low CRN in ASD</text>
<text x="415.7" y="446.9" font-size="10.3" fill="#111" textLength="130.7" lengthAdjust="spacingAndGlyphs" stroke="#111" stroke-width="0.12">Carrageenan (CRN) in ASD</text>
<line x1="34.9" y1="606.1" x2="34.9" y2="726.1" stroke="#ebebeb" stroke-width="0.9"/>
<line x1="53.0" y1="606.1" x2="53.0" y2="726.1" stroke="#ebebeb" stroke-width="0.9"/>
<line x1="71.1" y1="606.1" x2="71.1" y2="726.1" stroke="#ebebeb" stroke-width="0.9"/>
<line x1="89.2" y1="606.1" x2="89.2" y2="726.1" stroke="#ebebeb" stroke-width="0.9"/>
<line x1="107.1" y1="606.1" x2="107.1" y2="726.1" stroke="#ebebeb" stroke-width="0.9"/>
<line x1="125.3" y1="606.1" x2="125.3" y2="726.1" stroke="#ebebeb" stroke-width="0.9"/>
<line x1="32.3" y1="617.9" x2="140.8" y2="617.9" stroke="#ebebeb" stroke-width="0.9"/>
<line x1="32.3" y1="633.9" x2="140.8" y2="633.9" stroke="#ebebeb" stroke-width="0.9"/>
<line x1="32.3" y1="649.9" x2="140.8" y2="649.9" stroke="#ebebeb" stroke-width="0.9"/>
<line x1="32.3" y1="665.6" x2="140.8" y2="665.6" stroke="#ebebeb" stroke-width="0.9"/>
<line x1="32.3" y1="681.2" x2="140.8" y2="681.2" stroke="#ebebeb" stroke-width="0.9"/>
<line x1="32.3" y1="697.4" x2="140.8" y2="697.4" stroke="#ebebeb" stroke-width="0.9"/>
<line x1="32.3" y1="713.6" x2="140.8" y2="713.6" stroke="#ebebeb" stroke-width="0.9"/>
<polygon points="48.0,618.6 48.5,618.7 49.0,618.7 49.5,618.7 50.0,618.7 50.5,618.8 51.0,618.8 51.5,618.8 52.0,618.8 52.5,618.9 53.0,618.9 53.5,619.0 54.0,619.1 54.5,619.1 55.0,619.2 55.5,619.3 56.0,619.4 56.5,619.4 57.0,619.5 57.5,619.6 58.0,619.6 58.5,619.7 59.0,619.8 59.5,619.9 60.0,619.9 60.5,620.0 61.0,620.1 61.5,620.1 62.0,620.2 62.5,620.3 63.0,620.3 63.5,620.4 64.0,620.5 64.5,620.5 65.0,620.6 65.5,620.7 66.0,620.7 66.5,620.8 67.0,620.8 67.5,620.9 68.0,621.0 68.5,621.0 69.0,621.1 69.5,621.2 70.0,621.2 70.5,621.3 71.0,621.3 71.5,621.4 72.0,621.6 72.5,621.7 73.0,621.8 73.5,621.9 74.0,622.0 74.5,622.1 75.0,622.2 75.5,622.3 76.0,622.4 76.5,622.5 77.0,622.6 77.5,622.7 78.0,622.8 78.5,622.9 79.0,623.0 79.5,623.1 80.0,623.2 80.5,623.4 81.0,623.5 81.5,623.6 82.0,623.7 82.5,623.8 83.0,623.9 83.5,624.0 84.0,624.1 84.5,624.2 85.0,624.3 85.5,624.4 86.0,624.5 86.5,624.6 87.0,624.7 87.5,624.8 88.0,624.9 88.5,625.0 89.0,625.1 89.5,625.2 90.0,625.4 90.5,625.5 91.0,625.7 91.5,625.8 92.0,626.0 92.5,626.2 93.0,626.3 93.5,626.5 94.0,626.6 94.5,626.8 95.0,626.9 95.5,627.1 96.0,627.2 96.5,627.4 97.0,627.5 97.5,627.7 98.0,627.8 98.5,628.0 99.0,628.1 99.5,628.3 100.0,628.4 100.5,628.6 101.0,628.8 101.5,628.9 102.0,629.1 102.5,629.2 103.0,629.4 103.5,629.6 104.0,629.9 104.5,630.2 105.0,630.5 105.5,630.7 106.0,631.0 106.5,631.3 107.0,631.6 107.5,631.9 108.0,632.1 108.5,632.4 109.0,632.7 109.5,633.0 110.0,633.3 110.5,633.5 111.0,633.8 111.5,634.1 112.0,634.4 112.5,634.8 113.0,635.2 113.5,635.6 114.0,636.0 114.5,636.3 115.0,636.7 115.5,637.1 116.0,637.5 116.5,637.9 117.0,638.3 117.5,638.6 118.0,639.0 118.5,639.4 119.0,639.8 119.5,640.2 120.0,640.6 120.5,640.9 121.0,641.4 121.5,641.9 122.0,642.4 122.5,642.8 123.0,643.3 123.5,643.8 124.0,644.2 124.5,644.7 125.0,645.2 125.5,645.7 126.0,646.1 126.5,646.6 127.0,647.1 127.5,647.6 128.0,648.0 128.5,648.5 129.0,649.0 129.5,649.6 130.0,650.2 130.5,650.9 131.0,651.5 131.5,652.2 132.0,652.8 132.5,653.5 133.0,654.1 133.5,654.8 134.0,655.4 134.5,656.1 135.0,656.7 135.5,657.4 135.5,676.6 135.0,675.8 134.5,675.0 134.0,674.2 133.5,673.5 133.0,672.7 132.5,671.9 132.0,671.2 131.5,670.4 131.0,669.6 130.5,668.8 130.0,668.1 129.5,667.3 129.0,666.6 128.5,666.0 128.0,665.4 127.5,664.8 127.0,664.2 126.5,663.6 126.0,663.1 125.5,662.5 125.0,661.9 124.5,661.3 124.0,660.7 123.5,660.1 123.0,659.5 122.5,658.9 122.0,658.3 121.5,657.7 121.0,657.2 120.5,656.6 120.0,656.1 119.5,655.6 119.0,655.1 118.5,654.6 118.0,654.1 117.5,653.6 117.0,653.1 116.5,652.6 116.0,652.1 115.5,651.6 115.0,651.1 114.5,650.6 114.0,650.1 113.5,649.6 113.0,649.1 112.5,648.6 112.0,648.1 111.5,647.7 111.0,647.3 110.5,646.9 110.0,646.5 109.5,646.1 109.0,645.7 108.5,645.3 108.0,644.9 107.5,644.5 107.0,644.2 106.5,643.8 106.0,643.4 105.5,643.0 105.0,642.6 104.5,642.2 104.0,641.8 103.5,641.4 103.0,641.0 102.5,640.8 102.0,640.5 101.5,640.3 101.0,640.0 100.5,639.7 100.0,639.5 99.5,639.2 99.0,639.0 98.5,638.7 98.0,638.4 97.5,638.2 97.0,637.9 96.5,637.7 96.0,637.4 95.5,637.1 95.0,636.9 94.5,636.6 94.0,636.4 93.5,636.1 93.0,635.9 92.5,635.6 92.0,635.3 91.5,635.1 91.0,634.8 90.5,634.6 90.0,634.3 89.5,634.0 89.0,633.8 88.5,633.6 88.0,633.4 87.5,633.2 87.0,633.0 86.5,632.8 86.0,632.6 85.5,632.4 85.0,632.2 84.5,632.0 84.0,631.8 83.5,631.6 83.0,631.4 82.5,631.2 82.0,631.0 81.5,630.7 81.0,630.5 80.5,630.3 80.0,630.1 79.5,629.9 79.0,629.7 78.5,629.5 78.0,629.3 77.5,629.1 77.0,628.9 76.5,628.7 76.0,628.5 75.5,628.3 75.0,628.1 74.5,627.9 74.0,627.7 73.5,627.5 73.0,627.3 72.5,627.1 72.0,626.9 71.5,626.7 71.0,626.5 70.5,626.4 70.0,626.2 69.5,626.1 69.0,625.9 68.5,625.8 68.0,625.6 67.5,625.5 67.0,625.3 66.5,625.1 66.0,625.0 65.5,624.8 65.0,624.7 64.5,624.5 64.0,624.4 63.5,624.2 63.0,624.1 62.5,623.9 62.0,623.8 61.5,623.6 61.0,623.5 60.5,623.3 60.0,623.2 59.5,623.0 59.0,622.9 58.5,622.7 58.0,622.6 57.5,622.4 57.0,622.3 56.5,622.2 56.0,622.0 55.5,621.9 55.0,621.7 54.5,621.6 54.0,621.4 53.5,621.3 53.0,621.1 52.5,621.0 52.0,620.9 51.5,620.8 51.0,620.7 50.5,620.7 50.0,620.6 49.5,620.5 49.0,620.4 48.5,620.4 48.0,620.3" fill="#f08a8a" fill-opacity="0.180"/>
<path d="M48.0,618.2V620.8M48.5,618.1V621.1M49.0,618.1V621.1M49.5,618.8V620.8M50.0,617.9V621.1M50.5,618.0V620.7M51.0,618.4V620.9M51.5,618.3V621.3M52.0,618.9V621.0M52.5,618.6V621.8M53.0,618.1V621.2M53.5,618.1V621.3M54.0,618.4V621.5M54.5,619.3V622.4M55.0,619.1V621.9M55.5,618.0V622.8M56.0,619.1V623.0M56.5,618.8V622.9M57.0,619.3V623.4M57.5,618.6V623.6M58.0,618.3V622.9M58.5,619.3V622.8M59.0,619.7V622.9M59.5,619.5V623.8M60.0,620.1V624.0M60.5,619.5V623.7M61.0,618.7V624.1M61.5,619.7V624.2M62.0,618.9V623.7M62.5,618.4V623.8M63.0,618.9V625.3M63.5,620.6V625.4M64.0,619.8V625.2M64.5,620.7V624.5M65.0,620.4V626.2M65.5,620.4V626.0M66.0,618.6V626.5M66.5,620.1V625.6M67.0,619.7V626.6M67.5,620.9V626.7M68.0,619.1V627.1M68.5,621.2V627.4M69.0,621.1V626.4M69.5,619.7V627.8M70.0,620.5V627.9M70.5,619.9V626.8M71.0,620.7V626.7M71.5,621.5V626.8M72.0,619.7V628.9M72.5,621.4V627.0M73.0,618.8V628.3M73.5,620.8V627.9M74.0,620.3V629.5M74.5,620.8V628.7M75.0,622.3V630.1M75.5,622.5V629.3M76.0,619.7V628.6M76.5,620.2V630.9M77.0,620.6V630.7M77.5,622.7V630.0M78.0,622.6V631.3M78.5,622.1V630.5M79.0,619.4V631.8M79.5,619.6V630.9M80.0,621.6V631.9M80.5,621.7V630.9M81.0,622.1V630.7M81.5,622.3V633.4M82.0,619.9V632.5M82.5,622.0V631.9M83.0,623.9V631.9M83.5,620.8V633.9M84.0,622.8V633.9M84.5,621.0V633.9M85.0,621.6V634.3M85.5,623.1V634.3M86.0,623.6V633.9M86.5,621.3V634.8M87.0,623.7V635.8M87.5,622.0V634.8M88.0,625.3V634.9M88.5,624.2V635.6M89.0,623.1V636.3M89.5,622.3V636.5M90.0,624.0V636.3M90.5,622.0V637.2M91.0,624.3V637.5M91.5,621.5V637.3M92.0,621.0V638.5M92.5,623.7V637.2M93.0,625.9V638.7M93.5,621.5V637.6M94.0,623.1V638.8M94.5,623.0V636.9M95.0,622.8V638.8M95.5,623.6V638.5M96.0,624.0V640.2M96.5,624.0V640.2M97.0,627.9V638.2M97.5,625.5V640.5M98.0,627.0V640.9M98.5,624.5V638.5M99.0,625.6V639.5M99.5,628.5V639.4M100.0,626.9V639.9M100.5,627.9V639.5M101.0,626.2V641.3M101.5,625.3V642.5M102.0,628.0V644.2M102.5,629.8V642.2M103.0,628.0V642.5M103.5,629.4V644.8M104.0,627.8V641.5M104.5,626.4V642.2M105.0,627.1V643.8M105.5,627.1V647.1M106.0,625.6V645.0M106.5,625.8V646.5M107.0,629.5V644.4M107.5,628.0V646.9M108.0,625.4V649.3M108.5,628.4V646.6M109.0,626.3V645.3M109.5,632.9V648.6M110.0,629.0V646.8M110.5,629.2V651.1M111.0,631.5V649.1M111.5,633.0V648.8M112.0,627.1V649.7M112.5,627.5V653.0M113.0,630.9V650.0M113.5,628.0V651.8M114.0,633.2V651.4M114.5,628.6V652.8M115.0,635.0V653.3M115.5,636.8V654.6M116.0,634.3V653.2M116.5,631.7V656.8M117.0,639.0V655.6M117.5,637.0V658.5M118.0,632.7V655.0M118.5,637.8V655.0M119.0,631.4V656.3M119.5,635.3V657.9M120.0,635.3V659.2M120.5,634.7V656.7M121.0,635.0V658.4M121.5,637.6V659.3M122.0,640.3V661.1M122.5,639.1V660.6M123.0,636.8V662.7M123.5,644.3V661.1M124.0,640.6V666.0M124.5,636.6V664.2M125.0,646.0V666.3M125.5,642.2V665.6M126.0,639.7V666.6M126.5,642.5V669.1M127.0,644.0V666.2M127.5,639.5V665.5M128.0,645.8V670.4M128.5,648.8V671.1M129.0,642.4V668.9M129.5,647.4V672.0M130.0,641.2V668.4M130.5,646.6V672.0M131.0,647.0V671.3M131.5,651.5V673.9M132.0,644.7V671.0M132.5,651.9V677.1M133.0,646.1V676.8M133.5,655.5V678.0M134.0,645.2V680.8M134.5,649.0V674.7M135.0,647.9V676.7M135.5,650.8V682.9" stroke="#f08a8a" stroke-width="0.5" stroke-opacity="0.180" fill="none"/>
<polygon points="70.0,622.4 70.5,622.5 71.0,622.6 71.5,622.8 72.0,623.0 72.5,623.2 73.0,623.4 73.5,623.5 74.0,623.7 74.5,623.9 75.0,624.1 75.5,624.2 76.0,624.4 76.5,624.6 77.0,624.8 77.5,624.9 78.0,625.1 78.5,625.3 79.0,625.5 79.5,625.6 80.0,625.8 80.5,626.0 81.0,626.1 81.5,626.3 82.0,626.5 82.5,626.7 83.0,626.8 83.5,627.0 84.0,627.2 84.5,627.3 85.0,627.5 85.5,627.7 86.0,627.8 86.5,628.0 87.0,628.2 87.5,628.3 88.0,628.5 88.5,628.7 89.0,628.8 89.5,629.0 90.0,629.3 90.5,629.6 91.0,629.8 91.5,630.1 92.0,630.3 92.5,630.6 93.0,630.9 93.5,631.1 94.0,631.4 94.5,631.6 95.0,631.9 95.5,632.2 96.0,632.4 96.5,632.7 97.0,632.9 97.5,633.2 98.0,633.4 98.5,633.7 99.0,634.0 99.5,634.2 100.0,634.5 100.5,634.7 101.0,635.0 101.5,635.3 102.0,635.7 102.5,636.1 103.0,636.5 103.5,636.9 104.0,637.4 104.5,637.8 105.0,638.2 105.5,638.6 106.0,639.0 106.5,639.4 107.0,639.8 107.5,640.2 108.0,640.7 108.5,641.1 109.0,641.5 109.5,641.9 110.0,642.3 110.5,642.9 111.0,643.5 111.5,644.1 112.0,644.7 112.5,645.3 113.0,645.9 113.5,646.6 114.0,647.2 114.5,647.8 115.0,648.4 115.5,649.0 116.0,649.6 116.5,650.2 117.0,650.8 117.5,651.4 118.0,652.0 118.5,652.6 119.0,653.4 119.5,654.2 120.0,655.0 120.5,655.8 121.0,656.6 121.5,657.4 122.0,658.2 122.5,659.0 123.0,659.8 123.5,660.6 124.0,661.4 124.5,662.2 125.0,663.0 125.5,663.8 126.0,664.6 126.5,665.4 127.0,666.2 127.5,667.1 128.0,668.2 128.5,669.3 129.0,670.4 129.5,671.5 130.0,672.6 130.5,673.7 131.0,674.8 131.5,675.9 132.0,677.0 132.5,678.1 133.0,679.2 133.5,680.2 134.0,681.3 134.5,682.4 135.0,683.5 135.5,684.6 135.5,705.9 135.0,704.6 134.5,703.3 134.0,702.0 133.5,700.7 133.0,699.4 132.5,698.0 132.0,696.7 131.5,695.4 131.0,694.1 130.5,692.8 130.0,691.5 129.5,690.2 129.0,688.9 128.5,687.5 128.0,686.2 127.5,684.9 127.0,683.9 126.5,682.8 126.0,681.8 125.5,680.8 125.0,679.8 124.5,678.8 124.0,677.8 123.5,676.8 123.0,675.8 122.5,674.8 122.0,673.8 121.5,672.8 121.0,671.7 120.5,670.7 120.0,669.7 119.5,668.7 119.0,667.7 118.5,666.8 118.0,666.0 117.5,665.2 117.0,664.4 116.5,663.6 116.0,662.8 115.5,662.0 115.0,661.2 114.5,660.4 114.0,659.6 113.5,658.8 113.0,658.1 112.5,657.3 112.0,656.5 111.5,655.7 111.0,654.9 110.5,654.1 110.0,653.3 109.5,652.7 109.0,652.2 108.5,651.6 108.0,651.0 107.5,650.4 107.0,649.8 106.5,649.2 106.0,648.7 105.5,648.1 105.0,647.5 104.5,646.9 104.0,646.4 103.5,645.8 103.0,645.2 102.5,644.6 102.0,644.1 101.5,643.5 101.0,643.0 100.5,642.6 100.0,642.2 99.5,641.8 99.0,641.4 98.5,641.0 98.0,640.6 97.5,640.2 97.0,639.8 96.5,639.4 96.0,639.0 95.5,638.6 95.0,638.2 94.5,637.8 94.0,637.4 93.5,637.0 93.0,636.6 92.5,636.2 92.0,635.8 91.5,635.4 91.0,635.0 90.5,634.7 90.0,634.3 89.5,633.9 89.0,633.5 88.5,633.3 88.0,633.0 87.5,632.7 87.0,632.4 86.5,632.1 86.0,631.9 85.5,631.6 85.0,631.3 84.5,631.0 84.0,630.8 83.5,630.5 83.0,630.2 82.5,629.9 82.0,629.7 81.5,629.4 81.0,629.2 80.5,628.9 80.0,628.6 79.5,628.4 79.0,628.1 78.5,627.9 78.0,627.6 77.5,627.4 77.0,627.1 76.5,626.9 76.0,626.6 75.5,626.4 75.0,626.1 74.5,625.9 74.0,625.7 73.5,625.4 73.0,625.2 72.5,625.0 72.0,624.7 71.5,624.5 71.0,624.3 70.5,624.2 70.0,624.0" fill="#9ccff0" fill-opacity="0.132"/>
<path d="M70.0,621.8V624.6M70.5,622.2V624.3M71.0,622.7V624.8M71.5,622.5V625.1M72.0,622.8V625.4M72.5,623.0V625.6M73.0,622.8V625.5M73.5,623.1V626.0M74.0,623.6V626.1M74.5,623.2V626.1M75.0,623.4V626.8M75.5,623.5V626.7M76.0,624.4V627.5M76.5,623.9V627.3M77.0,624.8V627.3M77.5,624.4V627.6M78.0,624.2V628.3M78.5,625.2V628.7M79.0,625.2V629.5M79.5,624.8V629.1M80.0,625.2V629.7M80.5,625.2V630.5M81.0,626.2V629.7M81.5,625.7V629.8M82.0,625.9V629.7M82.5,625.7V630.9M83.0,626.8V631.5M83.5,626.7V630.7M84.0,626.7V630.9M84.5,627.2V632.9M85.0,626.7V631.1M85.5,626.7V631.4M86.0,627.5V634.0M86.5,627.3V632.7M87.0,627.8V633.3M87.5,628.3V635.4M88.0,628.5V634.0M88.5,627.7V634.2M89.0,627.5V634.0M89.5,627.7V636.5M90.0,628.4V637.0M90.5,629.0V637.2M91.0,628.7V636.6M91.5,629.5V637.7M92.0,629.8V635.8M92.5,629.5V636.9M93.0,630.2V639.4M93.5,631.0V636.7M94.0,631.3V639.5M94.5,631.1V638.5M95.0,631.2V641.9M95.5,631.8V640.0M96.0,630.9V641.4M96.5,632.3V641.2M97.0,632.2V640.0M97.5,632.6V641.3M98.0,632.0V641.8M98.5,632.5V645.6M99.0,632.2V642.9M99.5,633.1V643.1M100.0,633.8V644.4M100.5,633.2V647.4M101.0,634.5V642.5M101.5,634.5V643.3M102.0,635.9V648.2M102.5,636.1V648.5M103.0,635.9V650.6M103.5,635.1V645.6M104.0,637.1V652.0M104.5,636.5V649.2M105.0,636.4V652.4M105.5,637.6V650.7M106.0,639.0V650.6M106.5,639.3V653.1M107.0,638.4V650.2M107.5,638.8V650.5M108.0,640.6V655.2M108.5,640.0V657.8M109.0,639.9V656.9M109.5,641.8V658.7M110.0,642.3V657.6M110.5,640.5V660.9M111.0,641.1V657.9M111.5,642.3V661.7M112.0,644.6V663.9M112.5,642.8V660.4M113.0,643.8V661.2M113.5,646.0V664.5M114.0,647.3V666.2M114.5,644.9V662.3M115.0,645.6V661.2M115.5,646.4V663.9M116.0,646.6V666.2M116.5,647.3V663.0M117.0,650.8V671.8M117.5,649.5V669.8M118.0,652.2V666.9M118.5,651.6V666.4M119.0,650.1V675.0M119.5,651.0V675.4M120.0,654.0V669.6M120.5,653.4V671.0M121.0,654.8V676.0M121.5,655.8V672.6M122.0,658.3V678.8M122.5,659.2V679.9M123.0,659.6V678.1M123.5,660.4V682.6M124.0,660.2V679.4M124.5,661.7V684.7M125.0,659.6V683.9M125.5,663.5V683.7M126.0,664.0V688.1M126.5,662.4V689.1M127.0,665.8V687.0M127.5,665.8V689.6M128.0,666.8V698.5M128.5,667.2V695.4M129.0,667.5V696.6M129.5,668.2V694.1M130.0,669.9V704.0M130.5,673.3V700.5M131.0,673.4V693.7M131.5,676.1V705.3M132.0,676.9V706.0M132.5,678.0V702.2M133.0,679.4V706.2M133.5,676.8V702.7M134.0,678.9V715.0M134.5,681.4V709.3M135.0,680.3V716.9M135.5,684.2V715.1" stroke="#9ccff0" stroke-width="0.5" stroke-opacity="0.132" fill="none"/>
<path d="M34.90,615.63 L36.61,616.16 L38.32,616.66 L40.03,617.11 L41.74,617.54 L43.45,617.94 L45.16,618.31 L46.87,618.66 L48.58,619.00 L50.29,619.32 L52.00,619.62 L53.71,619.92 L55.42,620.21 L57.13,620.50 L58.84,620.79 L60.55,621.09 L62.26,621.39 L63.97,621.70 L65.68,622.03 L67.39,622.37 L69.10,622.73 L70.81,623.12 L72.52,623.53 L74.23,623.97 L75.94,624.44 L77.65,624.95 L79.36,625.50 L81.07,626.09 L82.78,626.73 L84.49,627.42 L86.21,628.15 L87.92,628.95 L89.63,629.80 L91.34,630.71 L93.05,631.69 L94.76,632.73 L96.47,633.85 L98.18,635.04 L99.89,636.31 L101.60,637.66 L103.31,639.09 L105.02,640.62 L106.73,642.24 L108.44,643.96 L110.15,645.79 L111.86,647.73 L113.57,649.79 L115.28,651.98 L116.99,654.30 L118.70,656.75 L120.41,659.35 L122.12,662.10 L123.83,665.00 L125.54,668.06 L127.25,671.28 L128.96,674.68 L130.67,678.25 L132.38,682.01 L134.09,685.96 L135.80,690.10" fill="none" stroke="#3322ee" stroke-width="2.7" stroke-linecap="butt" stroke-linejoin="round"/>
<path d="M34.90,617.58 L36.61,617.95 L38.32,618.30 L40.03,618.64 L41.74,618.96 L43.45,619.27 L45.16,619.57 L46.87,619.86 L48.58,620.15 L50.29,620.43 L52.00,620.71 L53.71,620.98 L55.42,621.26 L57.13,621.54 L58.84,621.82 L60.55,622.11 L62.26,622.41 L63.97,622.72 L65.68,623.04 L67.39,623.38 L69.10,623.72 L70.81,624.09 L72.52,624.48 L74.23,624.88 L75.94,625.31 L77.65,625.77 L79.36,626.25 L81.07,626.76 L82.78,627.30 L84.49,627.87 L86.21,628.48 L87.92,629.12 L89.63,629.80 L91.34,630.52 L93.05,631.28 L94.76,632.08 L96.47,632.93 L98.18,633.83 L99.89,634.77 L101.60,635.77 L103.31,636.81 L105.02,637.92 L106.73,639.07 L108.44,640.29 L110.15,641.57 L111.86,642.90 L113.57,644.30 L115.28,645.77 L116.99,647.31 L118.70,648.91 L120.41,650.58 L122.12,652.33 L123.83,654.15 L125.54,656.05 L127.25,658.02 L128.96,660.08 L130.67,662.22 L132.38,664.44 L134.09,666.75 L135.80,669.14" fill="none" stroke="#ff1010" stroke-width="2.7" stroke-linecap="butt" stroke-linejoin="round"/>
<text x="31.0" y="635.5" font-size="4.8" text-anchor="end" fill="#555555">0.100</text>
<text x="31.0" y="667.8" font-size="4.8" text-anchor="end" fill="#555555">0.075</text>
<text x="31.0" y="699.1" font-size="4.8" text-anchor="end" fill="#555555">0.050</text>
<text x="34.0" y="731.8" font-size="4.8" text-anchor="middle" fill="#555555">0</text>
<text x="71.2" y="731.8" font-size="4.8" text-anchor="middle" fill="#555555">100</text>
<text x="107.2" y="731.8" font-size="4.8" text-anchor="middle" fill="#555555">200</text>
<text transform="translate(12.4,663.7) rotate(-90)" x="0" y="0" font-size="7" text-anchor="middle" fill="#1a1a1a" stroke="#1a1a1a" stroke-width="0.12" textLength="125.4" lengthAdjust="spacingAndGlyphs">Mean natural connectivity of the network</text>
<text x="13.6" y="744.3" font-size="7.1" fill="#1a1a1a" textLength="115.4" lengthAdjust="spacingAndGlyphs" stroke="#1a1a1a" stroke-width="0.12">Number of nodes removed randomly</text>
<line x1="171.8" y1="603.5" x2="171.8" y2="726.0" stroke="#ebebeb" stroke-width="0.9"/>
<line x1="190.6" y1="603.5" x2="190.6" y2="726.0" stroke="#ebebeb" stroke-width="0.9"/>
<line x1="209.4" y1="603.5" x2="209.4" y2="726.0" stroke="#ebebeb" stroke-width="0.9"/>
<line x1="228.5" y1="603.5" x2="228.5" y2="726.0" stroke="#ebebeb" stroke-width="0.9"/>
<line x1="247.2" y1="603.5" x2="247.2" y2="726.0" stroke="#ebebeb" stroke-width="0.9"/>
<line x1="265.8" y1="603.5" x2="265.8" y2="726.0" stroke="#ebebeb" stroke-width="0.9"/>
<line x1="168.8" y1="603.8" x2="282.0" y2="603.8" stroke="#ebebeb" stroke-width="0.9"/>
<line x1="168.8" y1="618.3" x2="282.0" y2="618.3" stroke="#ebebeb" stroke-width="0.9"/>
<line x1="168.8" y1="632.7" x2="282.0" y2="632.7" stroke="#ebebeb" stroke-width="0.9"/>
<line x1="168.8" y1="647.3" x2="282.0" y2="647.3" stroke="#ebebeb" stroke-width="0.9"/>
<line x1="168.8" y1="661.8" x2="282.0" y2="661.8" stroke="#ebebeb" stroke-width="0.9"/>
<line x1="168.8" y1="676.5" x2="282.0" y2="676.5" stroke="#ebebeb" stroke-width="0.9"/>
<line x1="168.8" y1="690.8" x2="282.0" y2="690.8" stroke="#ebebeb" stroke-width="0.9"/>
<line x1="168.8" y1="705.6" x2="282.0" y2="705.6" stroke="#ebebeb" stroke-width="0.9"/>
<line x1="168.8" y1="720.0" x2="282.0" y2="720.0" stroke="#ebebeb" stroke-width="0.9"/>
<path d="M172.30,613.00 L173.61,616.42 L174.92,619.81 L176.23,623.19 L177.55,626.53 L178.86,629.86 L180.17,633.17 L181.48,636.47 L182.79,639.74 L184.10,642.96 L185.41,646.13 L186.73,649.27 L188.04,652.40 L189.35,655.50 L190.66,658.54 L191.97,661.51 L193.28,664.37 L194.59,667.12 L195.91,669.79 L197.22,672.40 L198.53,674.93 L199.84,677.39 L201.15,679.75 L202.46,682.03 L203.77,684.22 L205.08,686.33 L206.40,688.38 L207.71,690.36 L209.02,692.27 L210.33,694.11 L211.64,695.89 L212.95,697.62 L214.26,699.32 L215.58,700.97 L216.89,702.54 L218.20,704.03 L219.51,705.42 L220.82,706.69 L222.13,707.90 L223.44,709.06 L224.76,710.15 L226.07,711.17 L227.38,712.11 L228.69,712.97 L230.00,713.76 L231.31,714.51 L232.62,715.22 L233.94,715.88 L235.25,716.48 L236.56,717.02 L237.87,717.49 L239.18,717.94 L240.49,718.36 L241.80,718.75 L243.12,719.10 L244.43,719.39 L245.74,719.62 L247.05,719.79 L248.36,719.95 L249.67,720.09 L250.98,720.21 L252.29,720.31 L253.61,720.37 L254.92,720.40 L256.23,720.38 L257.54,720.32 L258.85,720.22 L260.16,720.10 L261.47,719.96 L262.79,719.81 L264.10,719.65 L265.41,719.47 L266.72,719.25 L268.03,719.00 L269.34,718.71 L270.65,718.40 L271.97,718.06 L273.28,717.69 L274.59,717.31 L275.90,716.90" fill="none" stroke="#3322ee" stroke-width="2.7" stroke-linecap="butt" stroke-linejoin="round"/>
<path d="M172.90,610.40 L174.20,612.91 L175.51,615.41 L176.81,617.89 L178.12,620.36 L179.42,622.82 L180.72,625.28 L182.03,627.73 L183.33,630.15 L184.63,632.53 L185.94,634.86 L187.24,637.15 L188.55,639.43 L189.85,641.67 L191.15,643.87 L192.46,646.04 L193.76,648.16 L195.06,650.25 L196.37,652.33 L197.67,654.40 L198.98,656.42 L200.28,658.36 L201.58,660.20 L202.89,661.91 L204.19,663.48 L205.49,664.93 L206.80,666.32 L208.10,667.66 L209.41,669.01 L210.71,670.41 L212.01,671.89 L213.32,673.40 L214.62,674.94 L215.93,676.50 L217.23,678.08 L218.53,679.69 L219.84,681.34 L221.14,683.01 L222.44,684.70 L223.75,686.44 L225.05,688.22 L226.36,690.06 L227.66,692.00 L228.96,694.17 L230.27,696.47 L231.57,698.76 L232.87,700.88 L234.18,702.70 L235.48,704.28 L236.79,705.76 L238.09,707.14 L239.39,708.42 L240.70,709.60 L242.00,710.69 L243.31,711.67 L244.61,712.63 L245.91,713.54 L247.22,714.41 L248.52,715.22 L249.82,715.95 L251.13,716.59 L252.43,717.13 L253.74,717.57 L255.04,717.99 L256.34,718.39 L257.65,718.76 L258.95,719.09 L260.25,719.36 L261.56,719.56 L262.86,719.68 L264.17,719.70 L265.47,719.68 L266.77,719.62 L268.08,719.53 L269.38,719.41 L270.68,719.23 L271.99,719.01 L273.29,718.73 L274.60,718.40 L275.90,718.00" fill="none" stroke="#ff1010" stroke-width="2.7" stroke-linecap="butt" stroke-linejoin="round"/>
<text x="167.7" y="606.1" font-size="4.8" text-anchor="end" fill="#555555">0.12</text>
<text x="167.7" y="635.0" font-size="4.8" text-anchor="end" fill="#555555">0.09</text>
<text x="167.7" y="664.1" font-size="4.8" text-anchor="end" fill="#555555">0.06</text>
<text x="167.7" y="693.2" font-size="4.8" text-anchor="end" fill="#555555">0.03</text>
<text x="167.7" y="722.3" font-size="4.8" text-anchor="end" fill="#555555">0.00</text>
<text x="171.9" y="732.9" font-size="4.8" text-anchor="middle" fill="#555555">0</text>
<text x="209.3" y="732.9" font-size="4.8" text-anchor="middle" fill="#555555">100</text>
<text x="246.8" y="732.9" font-size="4.8" text-anchor="middle" fill="#555555">200</text>
<text transform="translate(151.4,664.0) rotate(-90)" x="0" y="0" font-size="7" text-anchor="middle" fill="#1a1a1a" stroke="#1a1a1a" stroke-width="0.12" textLength="126.0" lengthAdjust="spacingAndGlyphs">Mean natural connectivity of the network</text>
<text x="145.5" y="743.9" font-size="7.05" fill="#1a1a1a" textLength="190.5" lengthAdjust="spacingAndGlyphs" stroke="#1a1a1a" stroke-width="0.12">Number of removal nodes ordered by betweenness centrality</text>
<text x="273.8" y="611.0" font-size="5.8" font-weight="bold" fill="#1a1a1a" textLength="17.4" lengthAdjust="spacingAndGlyphs">Group</text>
<rect x="273.1" y="615.6" width="7.7" height="16.4" fill="#d9d9d9"/>
<line x1="273.6" y1="621.1" x2="280.3" y2="621.1" stroke="#ff0000" stroke-width="2.5"/>
<line x1="273.6" y1="629.2" x2="280.3" y2="629.2" stroke="#0000ff" stroke-width="2.5"/>
<text x="283.9" y="621.9" font-size="5.8" fill="#222" textLength="56.5" lengthAdjust="spacingAndGlyphs">High P80 in non-ASD</text>
<text x="283.9" y="629.8" font-size="5.8" fill="#222" textLength="54.9" lengthAdjust="spacingAndGlyphs">Low P80 in non-ASD</text>
<text x="66.5" y="599.3" font-size="10.3" fill="#111" textLength="149.0" lengthAdjust="spacingAndGlyphs" stroke="#111" stroke-width="0.12">Polysorbate-80 (P80) in non-ASD</text>
<line x1="374.7" y1="603.5" x2="374.7" y2="727.0" stroke="#ebebeb" stroke-width="0.9"/>
<line x1="392.4" y1="603.5" x2="392.4" y2="727.0" stroke="#ebebeb" stroke-width="0.9"/>
<line x1="409.8" y1="603.5" x2="409.8" y2="727.0" stroke="#ebebeb" stroke-width="0.9"/>
<line x1="427.4" y1="603.5" x2="427.4" y2="727.0" stroke="#ebebeb" stroke-width="0.9"/>
<line x1="445.2" y1="603.5" x2="445.2" y2="727.0" stroke="#ebebeb" stroke-width="0.9"/>
<line x1="462.6" y1="603.5" x2="462.6" y2="727.0" stroke="#ebebeb" stroke-width="0.9"/>
<line x1="369.8" y1="620.4" x2="477.3" y2="620.4" stroke="#ebebeb" stroke-width="0.9"/>
<line x1="369.8" y1="637.4" x2="477.3" y2="637.4" stroke="#ebebeb" stroke-width="0.9"/>
<line x1="369.8" y1="654.5" x2="477.3" y2="654.5" stroke="#ebebeb" stroke-width="0.9"/>
<line x1="369.8" y1="671.3" x2="477.3" y2="671.3" stroke="#ebebeb" stroke-width="0.9"/>
<line x1="369.8" y1="688.4" x2="477.3" y2="688.4" stroke="#ebebeb" stroke-width="0.9"/>
<line x1="369.8" y1="705.6" x2="477.3" y2="705.6" stroke="#ebebeb" stroke-width="0.9"/>
<line x1="369.8" y1="723.0" x2="477.3" y2="723.0" stroke="#ebebeb" stroke-width="0.9"/>
<polygon points="385.0,614.2 385.5,614.2 386.0,614.2 386.5,614.3 387.0,614.3 387.5,614.3 388.0,614.3 388.5,614.4 389.0,614.4 389.5,614.4 390.0,614.4 390.5,614.4 391.0,614.4 391.5,614.4 392.0,614.4 392.5,614.5 393.0,614.5 393.5,614.6 394.0,614.7 394.5,614.7 395.0,614.8 395.5,614.9 396.0,614.9 396.5,615.0 397.0,615.0 397.5,615.1 398.0,615.2 398.5,615.2 399.0,615.3 399.5,615.3 400.0,615.4 400.5,615.4 401.0,615.5 401.5,615.6 402.0,615.6 402.5,615.7 403.0,615.7 403.5,615.8 404.0,615.8 404.5,615.9 405.0,615.9 405.5,616.0 406.0,616.0 406.5,616.1 407.0,616.1 407.5,616.2 408.0,616.2 408.5,616.3 409.0,616.3 409.5,616.4 410.0,616.5 410.5,616.6 411.0,616.8 411.5,616.9 412.0,617.0 412.5,617.1 413.0,617.3 413.5,617.4 414.0,617.5 414.5,617.7 415.0,617.8 415.5,617.9 416.0,618.0 416.5,618.2 417.0,618.3 417.5,618.4 418.0,618.5 418.5,618.7 419.0,618.8 419.5,618.9 420.0,619.0 420.5,619.1 421.0,619.3 421.5,619.4 422.0,619.5 422.5,619.6 423.0,619.8 423.5,619.9 424.0,620.0 424.5,620.1 425.0,620.2 425.5,620.4 426.0,620.5 426.5,620.6 427.0,620.7 427.5,620.9 428.0,621.1 428.5,621.3 429.0,621.5 429.5,621.7 430.0,621.9 430.5,622.1 431.0,622.3 431.5,622.5 432.0,622.7 432.5,622.9 433.0,623.1 433.5,623.3 434.0,623.5 434.5,623.7 435.0,623.9 435.5,624.1 436.0,624.2 436.5,624.4 437.0,624.6 437.5,624.8 438.0,625.0 438.5,625.2 439.0,625.4 439.5,625.8 440.0,626.2 440.5,626.6 441.0,627.0 441.5,627.4 442.0,627.8 442.5,628.2 443.0,628.6 443.5,629.0 444.0,629.4 444.5,629.8 445.0,630.2 445.5,630.6 446.0,631.0 446.5,631.4 447.0,631.8 447.5,632.2 448.0,632.7 448.5,633.3 449.0,633.9 449.5,634.5 450.0,635.1 450.5,635.7 451.0,636.3 451.5,636.9 452.0,637.5 452.5,638.1 453.0,638.7 453.5,639.3 454.0,639.9 454.5,640.5 455.0,641.1 455.5,641.8 456.0,642.4 456.5,643.0 457.0,643.7 457.5,644.4 458.0,645.0 458.5,645.7 459.0,646.4 459.5,647.1 460.0,647.8 460.5,648.5 461.0,649.2 461.5,649.9 462.0,650.6 462.5,651.3 463.0,652.0 463.5,652.7 464.0,653.4 464.5,654.1 465.0,654.8 465.5,655.6 466.0,656.4 466.5,657.1 467.0,657.9 467.5,658.7 468.0,659.5 468.5,660.3 469.0,661.1 469.5,661.9 470.0,662.7 470.5,663.4 471.0,664.2 471.5,665.0 472.0,665.8 472.5,666.6 473.0,667.4 473.5,668.2 473.5,697.3 473.0,696.4 472.5,695.4 472.0,694.4 471.5,693.4 471.0,692.5 470.5,691.5 470.0,690.5 469.5,689.5 469.0,688.6 468.5,687.6 468.0,686.6 467.5,685.6 467.0,684.7 466.5,683.7 466.0,682.7 465.5,681.8 465.0,680.8 464.5,679.9 464.0,679.1 463.5,678.2 463.0,677.3 462.5,676.4 462.0,675.6 461.5,674.7 461.0,673.8 460.5,672.9 460.0,672.0 459.5,671.2 459.0,670.3 458.5,669.4 458.0,668.5 457.5,667.6 457.0,666.8 456.5,665.9 456.0,665.1 455.5,664.3 455.0,663.6 454.5,662.8 454.0,662.0 453.5,661.2 453.0,660.4 452.5,659.7 452.0,658.9 451.5,658.1 451.0,657.3 450.5,656.5 450.0,655.8 449.5,655.0 449.0,654.2 448.5,653.4 448.0,652.7 447.5,652.0 447.0,651.4 446.5,650.8 446.0,650.3 445.5,649.7 445.0,649.1 444.5,648.5 444.0,648.0 443.5,647.4 443.0,646.8 442.5,646.2 442.0,645.7 441.5,645.1 441.0,644.5 440.5,643.9 440.0,643.4 439.5,642.8 439.0,642.3 438.5,641.9 438.0,641.5 437.5,641.2 437.0,640.8 436.5,640.5 436.0,640.1 435.5,639.7 435.0,639.4 434.5,639.0 434.0,638.7 433.5,638.3 433.0,637.9 432.5,637.6 432.0,637.2 431.5,636.9 431.0,636.5 430.5,636.1 430.0,635.8 429.5,635.4 429.0,635.1 428.5,634.7 428.0,634.3 427.5,634.0 427.0,633.6 426.5,633.3 426.0,633.1 425.5,632.8 425.0,632.5 424.5,632.2 424.0,631.9 423.5,631.7 423.0,631.4 422.5,631.1 422.0,630.8 421.5,630.5 421.0,630.3 420.5,630.0 420.0,629.7 419.5,629.4 419.0,629.1 418.5,628.9 418.0,628.6 417.5,628.3 417.0,628.0 416.5,627.8 416.0,627.5 415.5,627.2 415.0,626.9 414.5,626.7 414.0,626.4 413.5,626.1 413.0,625.8 412.5,625.6 412.0,625.3 411.5,625.0 411.0,624.7 410.5,624.5 410.0,624.2 409.5,623.9 409.0,623.7 408.5,623.5 408.0,623.3 407.5,623.1 407.0,623.0 406.5,622.8 406.0,622.6 405.5,622.4 405.0,622.2 404.5,622.0 404.0,621.8 403.5,621.6 403.0,621.4 402.5,621.2 402.0,621.1 401.5,620.9 401.0,620.7 400.5,620.5 400.0,620.3 399.5,620.1 399.0,619.9 398.5,619.7 398.0,619.6 397.5,619.4 397.0,619.2 396.5,619.0 396.0,618.8 395.5,618.6 395.0,618.5 394.5,618.3 394.0,618.1 393.5,617.9 393.0,617.7 392.5,617.6 392.0,617.4 391.5,617.3 391.0,617.1 390.5,617.0 390.0,616.9 389.5,616.8 389.0,616.7 388.5,616.6 388.0,616.5 387.5,616.3 387.0,616.2 386.5,616.1 386.0,616.0 385.5,615.9 385.0,615.8" fill="#f08a8a" fill-opacity="0.180"/>
<path d="M385.0,614.0V615.9M385.5,613.7V615.9M386.0,613.8V616.3M386.5,614.3V616.5M387.0,614.3V616.6M387.5,614.3V616.3M388.0,614.0V617.2M388.5,614.3V616.7M389.0,613.7V617.6M389.5,613.8V617.2M390.0,613.2V616.9M390.5,613.3V617.3M391.0,614.3V617.2M391.5,614.1V618.2M392.0,614.3V618.1M392.5,613.6V618.0M393.0,613.8V617.7M393.5,614.7V618.1M394.0,613.6V618.6M394.5,614.3V619.1M395.0,614.1V618.8M395.5,613.4V619.7M396.0,614.6V619.7M396.5,614.0V620.5M397.0,613.6V619.6M397.5,613.1V619.4M398.0,614.4V620.9M398.5,615.1V620.6M399.0,615.4V621.2M399.5,613.6V621.2M400.0,613.3V620.8M400.5,613.8V621.7M401.0,614.1V621.5M401.5,613.4V622.9M402.0,614.5V622.5M402.5,615.8V622.8M403.0,614.0V623.8M403.5,613.4V622.1M404.0,614.9V623.4M404.5,616.1V623.0M405.0,615.7V622.3M405.5,616.1V624.4M406.0,615.9V623.0M406.5,615.0V625.1M407.0,616.2V624.1M407.5,614.4V625.7M408.0,613.4V625.8M408.5,615.5V624.6M409.0,615.2V626.4M409.5,612.8V624.1M410.0,616.1V624.7M410.5,616.0V625.9M411.0,614.6V625.4M411.5,617.3V626.2M412.0,615.8V627.1M412.5,613.2V627.8M413.0,615.3V627.9M413.5,614.6V626.0M414.0,613.6V629.1M414.5,613.8V629.5M415.0,616.3V628.2M415.5,617.8V629.5M416.0,618.2V627.4M416.5,617.5V628.1M417.0,616.9V627.9M417.5,618.9V628.6M418.0,618.5V629.8M418.5,619.0V632.5M419.0,615.8V629.4M419.5,618.0V630.6M420.0,617.4V629.9M420.5,614.6V634.4M421.0,617.0V632.2M421.5,619.4V630.6M422.0,617.9V631.7M422.5,615.0V631.5M423.0,620.2V635.9M423.5,617.0V631.9M424.0,617.0V631.6M424.5,617.2V637.0M425.0,615.0V635.8M425.5,619.2V634.3M426.0,620.0V636.9M426.5,617.5V637.3M427.0,619.0V634.4M427.5,615.7V639.2M428.0,615.6V638.6M428.5,615.9V638.6M429.0,620.5V637.6M429.5,619.7V635.0M430.0,622.4V636.9M430.5,620.8V639.9M431.0,615.5V638.8M431.5,615.8V642.6M432.0,615.8V639.0M432.5,621.8V638.5M433.0,622.2V638.7M433.5,618.8V643.7M434.0,617.2V641.3M434.5,618.9V643.9M435.0,623.9V643.3M435.5,616.9V644.6M436.0,618.5V642.8M436.5,623.7V645.4M437.0,622.5V645.9M437.5,616.9V643.4M438.0,622.2V647.8M438.5,619.4V642.5M439.0,625.1V642.7M439.5,618.1V648.2M440.0,625.6V649.0M440.5,618.0V648.3M441.0,624.5V648.1M441.5,627.0V644.5M442.0,619.1V650.1M442.5,623.8V653.0M443.0,625.1V653.1M443.5,621.5V648.4M444.0,627.8V649.6M444.5,628.3V652.7M445.0,628.4V651.9M445.5,630.2V656.6M446.0,628.2V653.4M446.5,626.1V657.9M447.0,628.2V658.6M447.5,627.7V655.9M448.0,627.9V652.0M448.5,629.4V654.3M449.0,634.9V660.6M449.5,633.6V658.5M450.0,627.9V660.0M450.5,633.0V660.5M451.0,630.9V663.8M451.5,636.8V662.5M452.0,635.7V660.6M452.5,630.0V663.6M453.0,633.1V666.9M453.5,629.4V664.6M454.0,633.6V666.1M454.5,635.3V668.7M455.0,636.6V668.0M455.5,636.9V672.9M456.0,634.7V673.1M456.5,632.1V667.6M457.0,637.6V675.5M457.5,634.7V668.1M458.0,644.6V672.2M458.5,646.0V671.0M459.0,646.7V676.4M459.5,637.9V679.8M460.0,647.0V678.8M460.5,640.8V673.5M461.0,638.4V683.4M461.5,648.2V684.1M462.0,646.4V679.9M462.5,638.8V684.7M463.0,651.0V681.1M463.5,646.7V681.0M464.0,651.9V681.7M464.5,645.0V679.1M465.0,648.1V684.9M465.5,656.6V684.6M466.0,648.5V687.7M466.5,657.5V694.2M467.0,647.6V695.1M467.5,658.5V687.7M468.0,660.3V694.9M468.5,657.6V688.1M469.0,656.0V698.6M469.5,650.7V691.6M470.0,661.8V700.7M470.5,656.0V699.1M471.0,664.3V692.0M471.5,655.6V697.6M472.0,666.1V705.1M472.5,657.9V704.4M473.0,667.5V706.2M473.5,668.6V707.3" stroke="#f08a8a" stroke-width="0.5" stroke-opacity="0.180" fill="none"/>
<polygon points="400.0,621.2 400.5,621.3 401.0,621.4 401.5,621.5 402.0,621.7 402.5,621.8 403.0,621.9 403.5,622.0 404.0,622.1 404.5,622.3 405.0,622.4 405.5,622.5 406.0,622.6 406.5,622.7 407.0,622.8 407.5,623.0 408.0,623.1 408.5,623.2 409.0,623.3 409.5,623.4 410.0,623.6 410.5,623.8 411.0,624.1 411.5,624.3 412.0,624.5 412.5,624.7 413.0,624.9 413.5,625.1 414.0,625.3 414.5,625.5 415.0,625.7 415.5,625.9 416.0,626.2 416.5,626.4 417.0,626.6 417.5,626.8 418.0,627.0 418.5,627.2 419.0,627.4 419.5,627.6 420.0,627.8 420.5,628.0 421.0,628.2 421.5,628.4 422.0,628.6 422.5,628.8 423.0,629.0 423.5,629.3 424.0,629.5 424.5,629.7 425.0,629.9 425.5,630.1 426.0,630.3 426.5,630.5 427.0,630.7 427.5,631.0 428.0,631.3 428.5,631.6 429.0,631.8 429.5,632.1 430.0,632.4 430.5,632.7 431.0,633.0 431.5,633.3 432.0,633.6 432.5,633.8 433.0,634.1 433.5,634.4 434.0,634.7 434.5,635.0 435.0,635.3 435.5,635.6 436.0,635.8 436.5,636.1 437.0,636.4 437.5,636.7 438.0,637.0 438.5,637.3 439.0,637.5 439.5,638.0 440.0,638.5 440.5,639.0 441.0,639.5 441.5,640.0 442.0,640.4 442.5,640.9 443.0,641.4 443.5,641.9 444.0,642.4 444.5,642.9 445.0,643.4 445.5,643.9 446.0,644.4 446.5,644.9 447.0,645.4 447.5,645.9 448.0,646.4 448.5,647.1 449.0,647.8 449.5,648.4 450.0,649.1 450.5,649.8 451.0,650.5 451.5,651.1 452.0,651.8 452.5,652.5 453.0,653.1 453.5,653.8 454.0,654.5 454.5,655.2 455.0,655.8 455.5,656.5 456.0,657.2 456.5,657.9 457.0,658.7 457.5,659.6 458.0,660.5 458.5,661.3 459.0,662.2 459.5,663.1 460.0,663.9 460.5,664.8 461.0,665.6 461.5,666.5 462.0,667.4 462.5,668.2 463.0,669.1 463.5,670.0 464.0,670.8 464.5,671.7 465.0,672.6 465.5,673.6 466.0,674.6 466.5,675.7 467.0,676.8 467.5,677.8 468.0,678.9 468.5,680.0 469.0,681.1 469.5,682.1 470.0,683.2 470.5,684.3 471.0,685.3 471.5,686.4 472.0,687.5 472.5,688.5 473.0,689.6 473.5,690.7 473.5,709.4 473.0,708.1 472.5,706.9 472.0,705.6 471.5,704.4 471.0,703.2 470.5,701.9 470.0,700.7 469.5,699.4 469.0,698.2 468.5,697.0 468.0,695.7 467.5,694.5 467.0,693.3 466.5,692.0 466.0,690.8 465.5,689.6 465.0,688.4 464.5,687.4 464.0,686.3 463.5,685.3 463.0,684.3 462.5,683.3 462.0,682.2 461.5,681.2 461.0,680.2 460.5,679.2 460.0,678.1 459.5,677.1 459.0,676.1 458.5,675.1 458.0,674.1 457.5,673.0 457.0,672.0 456.5,671.0 456.0,670.2 455.5,669.3 455.0,668.5 454.5,667.7 454.0,666.9 453.5,666.1 453.0,665.2 452.5,664.4 452.0,663.6 451.5,662.8 451.0,662.0 450.5,661.1 450.0,660.3 449.5,659.5 449.0,658.7 448.5,657.9 448.0,657.1 447.5,656.4 447.0,655.7 446.5,655.1 446.0,654.5 445.5,653.8 445.0,653.2 444.5,652.6 444.0,652.0 443.5,651.3 443.0,650.7 442.5,650.1 442.0,649.5 441.5,648.8 441.0,648.2 440.5,647.6 440.0,647.0 439.5,646.4 439.0,645.8 438.5,645.4 438.0,645.0 437.5,644.6 437.0,644.1 436.5,643.7 436.0,643.3 435.5,642.9 435.0,642.5 434.5,642.1 434.0,641.7 433.5,641.3 433.0,640.9 432.5,640.5 432.0,640.1 431.5,639.7 431.0,639.3 430.5,638.9 430.0,638.5 429.5,638.1 429.0,637.7 428.5,637.3 428.0,636.9 427.5,636.5 427.0,636.1 426.5,635.8 426.0,635.5 425.5,635.2 425.0,634.9 424.5,634.6 424.0,634.3 423.5,634.0 423.0,633.7 422.5,633.4 422.0,633.1 421.5,632.8 421.0,632.5 420.5,632.2 420.0,631.9 419.5,631.6 419.0,631.3 418.5,631.0 418.0,630.7 417.5,630.4 417.0,630.1 416.5,629.8 416.0,629.5 415.5,629.2 415.0,629.0 414.5,628.7 414.0,628.4 413.5,628.1 413.0,627.8 412.5,627.5 412.0,627.3 411.5,627.0 411.0,626.7 410.5,626.4 410.0,626.1 409.5,625.9 409.0,625.7 408.5,625.5 408.0,625.3 407.5,625.2 407.0,625.0 406.5,624.8 406.0,624.7 405.5,624.5 405.0,624.3 404.5,624.2 404.0,624.0 403.5,623.9 403.0,623.7 402.5,623.5 402.0,623.4 401.5,623.2 401.0,623.1 400.5,623.0 400.0,622.8" fill="#9ccff0" fill-opacity="0.132"/>
<path d="M400.0,621.1V623.5M400.5,621.3V623.5M401.0,621.4V623.2M401.5,620.8V623.3M402.0,621.2V623.7M402.5,621.5V623.9M403.0,621.8V624.4M403.5,622.0V624.0M404.0,622.2V624.2M404.5,622.0V625.0M405.0,622.1V624.4M405.5,622.3V625.5M406.0,622.6V625.3M406.5,622.5V625.5M407.0,622.6V625.7M407.5,622.6V625.9M408.0,622.3V626.0M408.5,623.1V625.5M409.0,622.5V626.3M409.5,623.3V627.1M410.0,623.2V627.1M410.5,623.1V626.7M411.0,623.8V628.0M411.5,624.2V628.1M412.0,624.5V628.3M412.5,624.0V629.1M413.0,624.1V628.6M413.5,625.0V628.2M414.0,624.8V629.2M414.5,625.5V630.3M415.0,625.3V630.2M415.5,625.8V629.6M416.0,626.2V630.1M416.5,626.2V630.6M417.0,626.2V631.9M417.5,625.8V630.6M418.0,626.6V630.9M418.5,626.5V633.3M419.0,627.3V633.1M419.5,627.3V631.4M420.0,626.9V632.6M420.5,627.9V633.2M421.0,628.0V633.4M421.5,628.0V633.8M422.0,628.0V633.7M422.5,628.8V633.4M423.0,629.0V635.1M423.5,628.9V636.4M424.0,628.9V636.4M424.5,628.4V634.5M425.0,630.0V635.1M425.5,629.6V637.0M426.0,629.3V636.5M426.5,629.1V635.5M427.0,629.5V636.6M427.5,629.7V636.3M428.0,629.9V639.6M428.5,630.1V639.4M429.0,631.7V641.4M429.5,631.6V638.1M430.0,631.6V640.3M430.5,632.1V639.2M431.0,632.9V641.6M431.5,632.6V639.9M432.0,632.9V643.1M432.5,632.7V642.4M433.0,633.6V642.3M433.5,634.2V641.9M434.0,634.0V641.8M434.5,633.8V645.4M435.0,634.3V642.2M435.5,635.0V644.8M436.0,635.8V648.2M436.5,634.8V646.1M437.0,635.2V644.8M437.5,636.4V647.1M438.0,635.6V648.3M438.5,637.4V648.5M439.0,635.8V649.8M439.5,636.2V651.9M440.0,638.2V648.3M440.5,638.0V653.3M441.0,638.9V653.8M441.5,638.3V651.7M442.0,639.2V655.3M442.5,639.4V651.5M443.0,639.7V651.4M443.5,641.3V657.5M444.0,640.6V653.6M444.5,642.4V656.4M445.0,641.6V657.6M445.5,641.8V658.6M446.0,642.6V658.4M446.5,644.2V657.7M447.0,644.4V659.2M447.5,644.0V657.8M448.0,646.5V662.3M448.5,646.6V660.6M449.0,647.7V664.8M449.5,648.0V661.2M450.0,647.2V663.9M450.5,649.3V668.0M451.0,649.6V664.3M451.5,648.7V669.0M452.0,650.0V665.0M452.5,650.4V669.0M453.0,651.0V667.8M453.5,651.8V672.6M454.0,653.6V672.2M454.5,653.1V676.4M455.0,653.4V675.3M455.5,656.4V674.5M456.0,655.4V670.1M456.5,656.7V678.8M457.0,656.2V680.5M457.5,659.6V678.4M458.0,658.0V679.9M458.5,660.6V674.5M459.0,659.5V684.3M459.5,661.2V680.1M460.0,661.5V686.1M460.5,662.7V684.8M461.0,664.9V682.5M461.5,665.6V683.9M462.0,665.9V682.5M462.5,666.1V686.2M463.0,668.9V686.2M463.5,668.9V689.4M464.0,668.4V686.5M464.5,671.2V689.8M465.0,672.3V696.5M465.5,673.5V689.1M466.0,672.9V698.9M466.5,673.0V698.0M467.0,675.9V703.4M467.5,675.4V699.5M468.0,677.1V706.8M468.5,676.5V708.1M469.0,680.9V701.4M469.5,680.9V700.5M470.0,680.6V700.3M470.5,681.1V708.7M471.0,683.3V707.7M471.5,683.0V711.2M472.0,684.2V717.4M472.5,686.1V719.6M473.0,688.0V712.1M473.5,687.6V715.7" stroke="#9ccff0" stroke-width="0.5" stroke-opacity="0.132" fill="none"/>
<path d="M375.00,617.09 L376.67,617.56 L378.34,617.99 L380.01,618.40 L381.68,618.78 L383.35,619.14 L385.02,619.48 L386.69,619.80 L388.36,620.11 L390.03,620.41 L391.69,620.70 L393.36,620.99 L395.03,621.28 L396.70,621.57 L398.37,621.87 L400.04,622.18 L401.71,622.50 L403.38,622.84 L405.05,623.20 L406.72,623.58 L408.39,623.98 L410.06,624.42 L411.73,624.88 L413.40,625.39 L415.07,625.93 L416.74,626.51 L418.41,627.14 L420.08,627.82 L421.75,628.55 L423.42,629.33 L425.08,630.18 L426.75,631.08 L428.42,632.05 L430.09,633.09 L431.76,634.20 L433.43,635.38 L435.10,636.64 L436.77,637.98 L438.44,639.41 L440.11,640.92 L441.78,642.53 L443.45,644.23 L445.12,646.03 L446.79,647.92 L448.46,649.92 L450.13,652.03 L451.80,654.25 L453.47,656.58 L455.14,659.03 L456.81,661.60 L458.47,664.29 L460.14,667.11 L461.81,670.06 L463.48,673.14 L465.15,676.36 L466.82,679.72 L468.49,683.22 L470.16,686.87 L471.83,690.66 L473.50,694.61" fill="none" stroke="#3322ee" stroke-width="2.7" stroke-linecap="butt" stroke-linejoin="round"/>
<path d="M375.00,613.49 L376.67,613.77 L378.34,614.05 L380.01,614.33 L381.68,614.60 L383.35,614.87 L385.02,615.15 L386.69,615.43 L388.36,615.71 L390.03,616.00 L391.69,616.29 L393.36,616.60 L395.03,616.91 L396.70,617.24 L398.37,617.58 L400.04,617.93 L401.71,618.30 L403.38,618.68 L405.05,619.09 L406.72,619.51 L408.39,619.95 L410.06,620.42 L411.73,620.91 L413.40,621.44 L415.07,621.99 L416.74,622.58 L418.41,623.20 L420.08,623.87 L421.75,624.58 L423.42,625.35 L425.08,626.16 L426.75,627.03 L428.42,627.96 L430.09,628.95 L431.76,630.01 L433.43,631.13 L435.10,632.33 L436.77,633.60 L438.44,634.96 L440.11,636.39 L441.78,637.91 L443.45,639.52 L445.12,641.22 L446.79,643.00 L448.46,644.88 L450.13,646.85 L451.80,648.91 L453.47,651.07 L455.14,653.32 L456.81,655.68 L458.47,658.13 L460.14,660.68 L461.81,663.34 L463.48,666.09 L465.15,668.95 L466.82,671.90 L468.49,674.96 L470.16,678.13 L471.83,681.39 L473.50,684.76" fill="none" stroke="#ff1010" stroke-width="2.7" stroke-linecap="butt" stroke-linejoin="round"/>
<text x="368.0" y="639.4" font-size="4.8" text-anchor="end" fill="#555555">0.100</text>
<text x="368.0" y="673.2" font-size="4.8" text-anchor="end" fill="#555555">0.075</text>
<text x="368.0" y="707.1" font-size="4.8" text-anchor="end" fill="#555555">0.050</text>
<text x="374.1" y="736.2" font-size="4.8" text-anchor="middle" fill="#555555">0</text>
<text x="410.2" y="736.2" font-size="4.8" text-anchor="middle" fill="#555555">100</text>
<text x="445.4" y="736.2" font-size="4.8" text-anchor="middle" fill="#555555">200</text>
<text transform="translate(351.1,670.9) rotate(-90)" x="0" y="0" font-size="7" text-anchor="middle" fill="#1a1a1a" stroke="#1a1a1a" stroke-width="0.12" textLength="126.3" lengthAdjust="spacingAndGlyphs">Mean natural connectivity of the network</text>
<text x="358.0" y="745.3" font-size="7.1" fill="#1a1a1a" textLength="114.6" lengthAdjust="spacingAndGlyphs" stroke="#1a1a1a" stroke-width="0.12">Number of nodes removed randomly</text>
<line x1="512.0" y1="602.6" x2="512.0" y2="728.0" stroke="#ebebeb" stroke-width="0.9"/>
<line x1="529.7" y1="602.6" x2="529.7" y2="728.0" stroke="#ebebeb" stroke-width="0.9"/>
<line x1="547.6" y1="602.6" x2="547.6" y2="728.0" stroke="#ebebeb" stroke-width="0.9"/>
<line x1="565.5" y1="602.6" x2="565.5" y2="728.0" stroke="#ebebeb" stroke-width="0.9"/>
<line x1="583.3" y1="602.6" x2="583.3" y2="728.0" stroke="#ebebeb" stroke-width="0.9"/>
<line x1="600.7" y1="602.6" x2="600.7" y2="728.0" stroke="#ebebeb" stroke-width="0.9"/>
<line x1="508.4" y1="604.7" x2="616.3" y2="604.7" stroke="#ebebeb" stroke-width="0.9"/>
<line x1="508.4" y1="619.5" x2="616.3" y2="619.5" stroke="#ebebeb" stroke-width="0.9"/>
<line x1="508.4" y1="634.3" x2="616.3" y2="634.3" stroke="#ebebeb" stroke-width="0.9"/>
<line x1="508.4" y1="649.2" x2="616.3" y2="649.2" stroke="#ebebeb" stroke-width="0.9"/>
<line x1="508.4" y1="664.0" x2="616.3" y2="664.0" stroke="#ebebeb" stroke-width="0.9"/>
<line x1="508.4" y1="678.8" x2="616.3" y2="678.8" stroke="#ebebeb" stroke-width="0.9"/>
<line x1="508.4" y1="693.6" x2="616.3" y2="693.6" stroke="#ebebeb" stroke-width="0.9"/>
<line x1="508.4" y1="708.4" x2="616.3" y2="708.4" stroke="#ebebeb" stroke-width="0.9"/>
<line x1="508.4" y1="723.2" x2="616.3" y2="723.2" stroke="#ebebeb" stroke-width="0.9"/>
<path d="M512.00,614.80 L513.25,617.61 L514.51,620.44 L515.76,623.27 L517.02,626.11 L518.27,628.97 L519.53,631.84 L520.78,634.76 L522.04,637.70 L523.29,640.65 L524.54,643.58 L525.80,646.47 L527.05,649.30 L528.31,652.04 L529.56,654.73 L530.82,657.38 L532.07,660.00 L533.33,662.58 L534.58,665.13 L535.83,667.67 L537.09,670.18 L538.34,672.68 L539.60,675.18 L540.85,677.66 L542.11,680.12 L543.36,682.56 L544.62,684.98 L545.87,687.35 L547.12,689.69 L548.38,691.98 L549.63,694.26 L550.89,696.56 L552.14,698.84 L553.40,701.06 L554.65,703.18 L555.91,705.15 L557.16,706.95 L558.41,708.60 L559.67,710.19 L560.92,711.69 L562.18,713.11 L563.43,714.41 L564.69,715.59 L565.94,716.63 L567.19,717.59 L568.45,718.50 L569.70,719.36 L570.96,720.14 L572.21,720.82 L573.47,721.40 L574.72,721.84 L575.98,722.22 L577.23,722.58 L578.48,722.93 L579.74,723.23 L580.99,723.50 L582.25,723.70 L583.50,723.84 L584.76,723.90 L586.01,723.90 L587.27,723.90 L588.52,723.90 L589.77,723.90 L591.03,723.90 L592.28,723.90 L593.54,723.90 L594.79,723.90 L596.05,723.89 L597.30,723.83 L598.56,723.71 L599.81,723.54 L601.06,723.33 L602.32,723.09 L603.57,722.83 L604.83,722.55 L606.08,722.15 L607.34,721.64 L608.59,721.05 L609.85,720.40 L611.10,719.70" fill="none" stroke="#3322ee" stroke-width="2.7" stroke-linecap="butt" stroke-linejoin="round"/>
<path d="M512.30,611.30 L513.55,614.13 L514.80,616.94 L516.05,619.75 L517.30,622.54 L518.55,625.33 L519.80,628.11 L521.05,630.88 L522.31,633.65 L523.56,636.41 L524.81,639.16 L526.06,641.88 L527.31,644.57 L528.56,647.25 L529.81,649.93 L531.06,652.61 L532.31,655.27 L533.56,657.90 L534.81,660.49 L536.06,663.02 L537.31,665.49 L538.56,667.88 L539.81,670.21 L541.06,672.49 L542.32,674.73 L543.57,676.92 L544.82,679.08 L546.07,681.19 L547.32,683.27 L548.57,685.31 L549.82,687.34 L551.07,689.36 L552.32,691.36 L553.57,693.32 L554.82,695.23 L556.07,697.07 L557.32,698.83 L558.57,700.49 L559.82,702.05 L561.07,703.56 L562.33,705.01 L563.58,706.41 L564.83,707.76 L566.08,709.05 L567.33,710.29 L568.58,711.46 L569.83,712.58 L571.08,713.69 L572.33,714.80 L573.58,715.87 L574.83,716.89 L576.08,717.83 L577.33,718.68 L578.58,719.42 L579.83,720.01 L581.08,720.54 L582.34,721.06 L583.59,721.56 L584.84,722.03 L586.09,722.45 L587.34,722.82 L588.59,723.12 L589.84,723.34 L591.09,723.47 L592.34,723.50 L593.59,723.48 L594.84,723.42 L596.09,723.35 L597.34,723.25 L598.59,723.14 L599.84,723.00 L601.09,722.86 L602.35,722.71 L603.60,722.51 L604.85,722.23 L606.10,721.87 L607.35,721.46 L608.60,721.01 L609.85,720.51 L611.10,720.00" fill="none" stroke="#ff1010" stroke-width="2.7" stroke-linecap="butt" stroke-linejoin="round"/>
<text x="504.8" y="636.5" font-size="4.8" text-anchor="end" fill="#555555">0.09</text>
<text x="504.8" y="665.5" font-size="4.8" text-anchor="end" fill="#555555">0.06</text>
<text x="504.8" y="694.8" font-size="4.8" text-anchor="end" fill="#555555">0.03</text>
<text x="504.8" y="724.5" font-size="4.8" text-anchor="end" fill="#555555">0.00</text>
<text x="511.4" y="736.7" font-size="4.8" text-anchor="middle" fill="#555555">0</text>
<text x="547.3" y="736.7" font-size="4.8" text-anchor="middle" fill="#555555">100</text>
<text x="583.3" y="736.7" font-size="4.8" text-anchor="middle" fill="#555555">200</text>
<text transform="translate(489.1,669.5) rotate(-90)" x="0" y="0" font-size="7" text-anchor="middle" fill="#1a1a1a" stroke="#1a1a1a" stroke-width="0.12" textLength="126.3" lengthAdjust="spacingAndGlyphs">Mean natural connectivity of the network</text>
<text x="489.9" y="745.6" font-size="7.05" fill="#1a1a1a" textLength="190.0" lengthAdjust="spacingAndGlyphs" stroke="#1a1a1a" stroke-width="0.12">Number of removal nodes ordered by betweenness centrality</text>
<text x="615.3" y="613.0" font-size="5.8" font-weight="bold" fill="#1a1a1a" textLength="17.4" lengthAdjust="spacingAndGlyphs">Group</text>
<rect x="615.3" y="617.4" width="8.4" height="15.9" fill="#d9d9d9"/>
<line x1="615.8" y1="621" x2="623.2" y2="621" stroke="#ff0000" stroke-width="2.5"/>
<line x1="615.8" y1="629.4" x2="623.2" y2="629.4" stroke="#0000ff" stroke-width="2.5"/>
<text x="626.7" y="623.0" font-size="5.8" fill="#222" textLength="57.4" lengthAdjust="spacingAndGlyphs">High CRN in non-ASD</text>
<text x="626.7" y="631.2" font-size="5.8" fill="#222" textLength="56.8" lengthAdjust="spacingAndGlyphs">Low CRN in non-ASD</text>
<text x="413.5" y="600.9" font-size="10.3" fill="#111" textLength="152.7" lengthAdjust="spacingAndGlyphs" stroke="#111" stroke-width="0.12">Carrageenan (CRN) in non-ASD</text>
<text x="37.2" y="550.5" font-size="9.2" fill="#555" stroke="#555" stroke-width="0.1" textLength="60.5" lengthAdjust="spacingAndGlyphs">p-value &lt; 2.2 e</text>
<text x="98.0" y="546.9" font-size="6.2" fill="#555" textLength="9.8" lengthAdjust="spacingAndGlyphs">-16</text>
<text x="376.2" y="553.8" font-size="9.2" fill="#555" stroke="#555" stroke-width="0.1" textLength="60.5" lengthAdjust="spacingAndGlyphs">p-value &lt; 2.2 e</text>
<text x="437.0" y="550.2" font-size="6.2" fill="#555" textLength="9.4" lengthAdjust="spacingAndGlyphs">-16</text>
<text x="36.9" y="704" font-size="8.6" fill="#555" stroke="#555" stroke-width="0.1" textLength="64.8" lengthAdjust="spacing">No significance</text>
<text x="377.0" y="710.9" font-size="8.6" fill="#555" stroke="#555" stroke-width="0.1" textLength="65.0" lengthAdjust="spacing">No significance</text>
</svg>
</body></html>
